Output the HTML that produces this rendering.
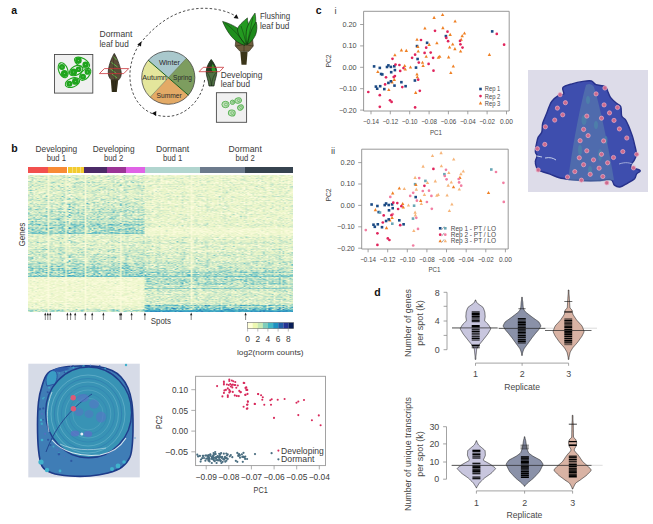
<!DOCTYPE html>
<html><head><meta charset="utf-8"><style>
html,body{margin:0;padding:0;background:#fff;width:653px;height:524px;overflow:hidden}
svg{display:block;position:absolute;left:0;top:0}
text{font-family:"Liberation Sans", sans-serif}
canvas{position:absolute;left:28px;top:175px;}
</style></head><body>
<svg width="653" height="524" viewBox="0 0 653 524">
<text x="11.2" y="13.9" font-size="10.5" text-anchor="start" fill="#111" font-weight="bold" >a</text>
<text x="11.2" y="152.4" font-size="10.5" text-anchor="start" fill="#111" font-weight="bold" >b</text>
<text x="315.8" y="13.6" font-size="10.5" text-anchor="start" fill="#111" font-weight="bold" >c</text>
<text x="374.3" y="295.5" font-size="10.5" text-anchor="start" fill="#111" font-weight="bold" >d</text>
<rect x="54.5" y="54.5" width="38.3" height="38.6" fill="#f0f0f0" stroke="#4a4a4a" stroke-width="0.9"/>
<ellipse cx="82.00" cy="62.60" rx="8.32" ry="4.30" transform="rotate(29.1 82.00 62.60)" fill="none" stroke="#1fa41d" stroke-width="1.1"/>
<circle cx="78.4" cy="60.6" r="3.3" fill="#1fa41d"/><circle cx="85.6" cy="64.6" r="3.2" fill="#1fa41d"/>
<circle cx="78.4" cy="60.6" r="0.5" fill="#8fd48a"/><circle cx="85.6" cy="64.6" r="0.5" fill="#8fd48a"/>
<ellipse cx="63.20" cy="70.20" rx="7.82" ry="4.50" transform="rotate(69.4 63.20 70.20)" fill="none" stroke="#1fa41d" stroke-width="1.1"/>
<circle cx="62.0" cy="67.0" r="3.0" fill="#1fa41d"/><circle cx="64.4" cy="73.4" r="3.5" fill="#1fa41d"/>
<circle cx="62.0" cy="67.0" r="0.5" fill="#8fd48a"/><circle cx="64.4" cy="73.4" r="0.5" fill="#8fd48a"/>
<ellipse cx="76.10" cy="70.60" rx="7.22" ry="4.50" transform="rotate(-27.5 76.10 70.60)" fill="none" stroke="#1fa41d" stroke-width="1.1"/>
<circle cx="73.6" cy="71.9" r="3.5" fill="#1fa41d"/><circle cx="78.6" cy="69.3" r="2.8" fill="#1fa41d"/>
<circle cx="73.6" cy="71.9" r="0.5" fill="#8fd48a"/><circle cx="78.6" cy="69.3" r="0.5" fill="#8fd48a"/>
<ellipse cx="85.20" cy="74.35" rx="7.19" ry="4.00" transform="rotate(-48.1 85.20 74.35)" fill="none" stroke="#1fa41d" stroke-width="1.1"/>
<circle cx="83.0" cy="76.8" r="3.0" fill="#1fa41d"/><circle cx="87.4" cy="71.9" r="2.8" fill="#1fa41d"/>
<circle cx="83.0" cy="76.8" r="0.5" fill="#8fd48a"/><circle cx="87.4" cy="71.9" r="0.5" fill="#8fd48a"/>
<ellipse cx="72.40" cy="82.55" rx="7.51" ry="4.40" transform="rotate(-21.0 72.40 82.55)" fill="none" stroke="#1fa41d" stroke-width="1.1"/>
<circle cx="69.4" cy="83.7" r="3.0" fill="#1fa41d"/><circle cx="75.4" cy="81.4" r="3.4" fill="#1fa41d"/>
<circle cx="69.4" cy="83.7" r="0.5" fill="#8fd48a"/><circle cx="75.4" cy="81.4" r="0.5" fill="#8fd48a"/>
<path d="M114.3,53.4 C116.5,57 119.5,64 121,71 C122,75 120.5,78 118.5,80 L111.5,80 C109,78 108,75 108.3,71 C109,64 112,57 114.3,53.4 Z" fill="#5a4d38" stroke="#1e1c14" stroke-width="0.7"/>
<path d="M113.5,56.5 L116.5,60 M111.5,62.5 L117.5,67 M110,68.5 L116.5,73.5 M112,74 L117,78" stroke="#5ec24a" stroke-width="0.9" fill="none"/>
<path d="M114.3,54 C113,62 113,72 114.8,80" stroke="#2b2a1c" stroke-width="0.4" fill="none"/>
<path d="M110.8,80 L118.2,80 L116.8,92 L111.8,92 Z" fill="#36301a"/><path d="M113,81 L113.5,92 M115.5,81 L115,92" stroke="#1a180c" stroke-width="0.4"/>
<path d="M99.4,73.6 L104.4,68.6 L128.7,68.6 L123.7,73.6 Z" fill="none" stroke="#c8343a" stroke-width="0.8"/>
<text x="99.5" y="36.8" font-size="9.3" text-anchor="start" fill="#3a3a3a" font-weight="normal"  textLength="32.8" lengthAdjust="spacingAndGlyphs">Dormant</text>
<text x="99.5" y="46.7" font-size="9.3" text-anchor="start" fill="#3a3a3a" font-weight="normal"  textLength="29.2" lengthAdjust="spacingAndGlyphs">leaf bud</text>
<path d="M168.3,77.7 L148.22,60.25 A26.6,26.6 0 0 1 186.44,58.25 Z" fill="#a9c8cc"/>
<path d="M168.3,77.7 L186.44,58.25 A26.6,26.6 0 0 1 188.38,95.15 Z" fill="#7d9d5f"/>
<path d="M168.3,77.7 L188.38,95.15 A26.6,26.6 0 0 1 150.16,97.15 Z" fill="#e3aa66"/>
<path d="M168.3,77.7 L150.16,97.15 A26.6,26.6 0 0 1 148.22,60.25 Z" fill="#e4e69c"/>
<path d="M148.22,60.25 L188.38,95.15" stroke="#1b5c1b" stroke-width="1.0"/>
<path d="M186.44,58.25 L150.16,97.15" stroke="#4a5a3a" stroke-width="0.5"/>
<circle cx="168.3" cy="77.7" r="26.6" fill="none" stroke="#333" stroke-width="0.7"/>
<text x="169.4" y="64.6" font-size="7.3" text-anchor="middle" fill="#2a2a2a" font-weight="normal"  textLength="21" lengthAdjust="spacingAndGlyphs">Winter</text>
<text x="154.5" y="80.0" font-size="7.3" text-anchor="middle" fill="#2a2a2a" font-weight="normal"  textLength="24.7" lengthAdjust="spacingAndGlyphs">Autumn</text>
<text x="182.5" y="80.0" font-size="7.3" text-anchor="middle" fill="#2a2a2a" font-weight="normal"  textLength="18.8" lengthAdjust="spacingAndGlyphs">Spring</text>
<text x="169.2" y="98.0" font-size="7.3" text-anchor="middle" fill="#2a2a2a" font-weight="normal"  textLength="25.2" lengthAdjust="spacingAndGlyphs">Summer</text>
<path d="M204.6,80 C202,100 185,117 166,116.4 C145,116 130,100 129.9,75.3 C129.9,64 134,52 139.7,44 C155,25 175,9 202,8.3 C215,8 228,11 236.2,16.5" fill="none" stroke="#222" stroke-width="0.8" stroke-dasharray="2.5,2.0"/>
<path d="M137.3,44.5 L141.5,41.6 L141.0,46.5 Z" fill="#111"/>
<path d="M238.6,18.8 L233.6,18.0 L236.5,14.2 Z" fill="#111"/>
<path d="M151.8,113.3 L156.3,111.0 L156.0,116.0 Z" fill="#111"/>
<path d="M236.0,38.6 L252.5,38.6 L253.3,46 L249,51.3 L240,51.3 L235.2,46 Z" fill="#6e5d3d" stroke="#2c2615" stroke-width="0.6"/>
<path d="M236,46 L244,44.5 L253,46 M244,44.5 L244,51.5" stroke="#2c2615" stroke-width="0.5" fill="none"/>
<path d="M240.3,51.5 L247.6,51.5 L246.5,64.8 L241.5,64.8 Z" fill="#3b3519"/>
<path d="M222.6,21.4 C228,23 234,25.5 238,28.5 C242,32 244.5,38 245,45.5 C240,44 235,41 231,36 C227,31 224,25 222.6,21.4 Z" fill="#1f8e1d" stroke="#0f2a0d" stroke-width="0.6"/>
<path d="M247.4,17.9 C247,21 249,25 250.3,29 C251,35 249,41 246.5,45 C243,42 238,36 237.5,30 C237.5,27 240,24 247.4,17.9 Z" fill="#239a20" stroke="#0f2a0d" stroke-width="0.6"/>
<path d="M255,13.1 C256,18 256,23 255,27 C253.5,34 250,40 246.8,44.5 C245.5,38 246,32 247,28 C249,22 252,17 255,13.1 Z" fill="#27a323" stroke="#0f2a0d" stroke-width="0.6"/>
<path d="M256.1,22 C257.5,26 257,31 255.5,35 C253.5,39.5 250.5,42.5 247.5,44.5 C248.5,39 250,34 251.5,30 C253,27 254.5,24 256.1,22 Z" fill="#1d8a1b" stroke="#0f2a0d" stroke-width="0.6"/>
<path d="M225,23 C232,28 239,35 244.5,44 M241,26 C243,32 245,38 246,44 M253,17 C251,26 249,35 247,44" stroke="#0f2a0d" stroke-width="0.45" fill="none"/>
<text x="259.9" y="19.0" font-size="9.3" text-anchor="start" fill="#3a3a3a" font-weight="normal"  textLength="30.2" lengthAdjust="spacingAndGlyphs">Flushing</text>
<text x="259.9" y="29.0" font-size="9.3" text-anchor="start" fill="#3a3a3a" font-weight="normal"  textLength="29.5" lengthAdjust="spacingAndGlyphs">leaf bud</text>
<path d="M211.2,59.5 C213.2,62 216.6,67 216.8,71.5 C217,76 214.6,80 214,86 L209,86 C208.4,80 206,76 206.2,71.5 C206.4,67 209.2,62 211.2,59.5 Z" fill="#4f7043" stroke="#131a12" stroke-width="0.7"/>
<path d="M211.2,59.5 C213.2,62 216.6,67 216.8,72.5 L206.2,72.5 C206.4,67 209.2,62 211.2,59.5 Z" fill="#253d22"/>
<path d="M212.3,64 C214.3,66 216,69.5 216,72.5 L211.8,72.5 C211.6,69 211.6,66 212.3,64 Z" fill="#2a9e28"/>
<path d="M206.8,72.5 C209,75 211,79 211.5,86 M216.2,72.5 C214,75 212,79 211.5,86 M208,66 C210,69 212,71 213,73" stroke="#1a2818" stroke-width="0.55" fill="none"/>
<path d="M199,71.7 L203.2,67.3 L223.7,67.3 L219.5,71.7 Z" fill="none" stroke="#c8343a" stroke-width="0.8"/>
<text x="220.7" y="78.3" font-size="9.3" text-anchor="start" fill="#3a3a3a" font-weight="normal"  textLength="41.7" lengthAdjust="spacingAndGlyphs">Developing</text>
<text x="220.7" y="87.3" font-size="9.3" text-anchor="start" fill="#3a3a3a" font-weight="normal"  textLength="29.3" lengthAdjust="spacingAndGlyphs">leaf bud</text>
<rect x="216.4" y="92.7" width="30.2" height="29.6" fill="#f0f0f0" stroke="#4a4a4a" stroke-width="0.9"/>
<g transform="translate(225.5,104.5) rotate(0)"><ellipse rx="3.6" ry="3.2" fill="#c2e0bb" stroke="#5fb55a" stroke-width="1.0"/><ellipse rx="1.62" ry="1.44" cx="0.54" fill="none" stroke="#5fb55a" stroke-width="0.7"/></g>
<g transform="translate(232.5,102.3) rotate(0)"><ellipse rx="2.2" ry="2.2" fill="#c2e0bb" stroke="#5fb55a" stroke-width="1.0"/><ellipse rx="0.99" ry="0.99" cx="0.33" fill="none" stroke="#5fb55a" stroke-width="0.7"/></g>
<g transform="translate(238.2,100.5) rotate(-20)"><ellipse rx="3.3" ry="2.6" fill="#c2e0bb" stroke="#5fb55a" stroke-width="1.0"/><ellipse rx="1.48" ry="1.17" cx="0.49" fill="none" stroke="#5fb55a" stroke-width="0.7"/></g>
<g transform="translate(240.5,107.5) rotate(-35)"><ellipse rx="3.0" ry="2.4" fill="#c2e0bb" stroke="#5fb55a" stroke-width="1.0"/><ellipse rx="1.35" ry="1.08" cx="0.45" fill="none" stroke="#5fb55a" stroke-width="0.7"/></g>
<g transform="translate(231.8,113.0) rotate(10)"><ellipse rx="3.4" ry="3.0" fill="#c2e0bb" stroke="#5fb55a" stroke-width="1.0"/><ellipse rx="1.53" ry="1.35" cx="0.51" fill="none" stroke="#5fb55a" stroke-width="0.7"/></g>
<g shape-rendering="crispEdges"><rect x="28.0" y="175.0" width="14.1" height="8.0" fill="#daeecb"/><rect x="42.1" y="175.0" width="14.1" height="8.0" fill="#dcefca"/><rect x="56.3" y="175.0" width="14.1" height="8.0" fill="#dcefcb"/><rect x="70.4" y="175.0" width="14.1" height="8.0" fill="#d8edc9"/><rect x="84.5" y="175.0" width="14.1" height="8.0" fill="#ddefcb"/><rect x="98.7" y="175.0" width="14.1" height="8.0" fill="#dbeeca"/><rect x="112.8" y="175.0" width="14.1" height="8.0" fill="#d9eecb"/><rect x="126.9" y="175.0" width="14.1" height="8.0" fill="#d8edca"/><rect x="141.1" y="175.0" width="14.1" height="8.0" fill="#e4f2cc"/><rect x="155.2" y="175.0" width="14.1" height="8.0" fill="#e8f4ce"/><rect x="169.3" y="175.0" width="14.1" height="8.0" fill="#e6f3cc"/><rect x="183.5" y="175.0" width="14.1" height="8.0" fill="#eaf4ce"/><rect x="197.6" y="175.0" width="14.1" height="8.0" fill="#e9f4ce"/><rect x="211.7" y="175.0" width="14.1" height="8.0" fill="#ebf5ce"/><rect x="225.9" y="175.0" width="14.1" height="8.0" fill="#ebf5cf"/><rect x="240.0" y="175.0" width="14.1" height="8.0" fill="#e8f4cd"/><rect x="254.1" y="175.0" width="14.1" height="8.0" fill="#e7f3cd"/><rect x="268.3" y="175.0" width="14.1" height="8.0" fill="#e9f4cd"/><rect x="282.4" y="175.0" width="10.6" height="8.0" fill="#ecf6cf"/><rect x="28.0" y="183.0" width="14.1" height="8.0" fill="#d4ecc9"/><rect x="42.1" y="183.0" width="14.1" height="8.0" fill="#ddefca"/><rect x="56.3" y="183.0" width="14.1" height="8.0" fill="#d9eecb"/><rect x="70.4" y="183.0" width="14.1" height="8.0" fill="#d2ebc8"/><rect x="84.5" y="183.0" width="14.1" height="8.0" fill="#dcefca"/><rect x="98.7" y="183.0" width="14.1" height="8.0" fill="#d5ecc9"/><rect x="112.8" y="183.0" width="14.1" height="8.0" fill="#d4ebc9"/><rect x="126.9" y="183.0" width="14.1" height="8.0" fill="#d6ecc9"/><rect x="141.1" y="183.0" width="14.1" height="8.0" fill="#e3f1cc"/><rect x="155.2" y="183.0" width="14.1" height="8.0" fill="#e9f4cd"/><rect x="169.3" y="183.0" width="14.1" height="8.0" fill="#e6f3cc"/><rect x="183.5" y="183.0" width="14.1" height="8.0" fill="#eaf5ce"/><rect x="197.6" y="183.0" width="14.1" height="8.0" fill="#e8f4cc"/><rect x="211.7" y="183.0" width="14.1" height="8.0" fill="#e8f4cd"/><rect x="225.9" y="183.0" width="14.1" height="8.0" fill="#e5f2cc"/><rect x="240.0" y="183.0" width="14.1" height="8.0" fill="#e8f4cd"/><rect x="254.1" y="183.0" width="14.1" height="8.0" fill="#e6f3cd"/><rect x="268.3" y="183.0" width="14.1" height="8.0" fill="#e5f2cc"/><rect x="282.4" y="183.0" width="10.6" height="8.0" fill="#e5f3cd"/><rect x="28.0" y="191.0" width="14.1" height="8.0" fill="#dbeecb"/><rect x="42.1" y="191.0" width="14.1" height="8.0" fill="#dcefcc"/><rect x="56.3" y="191.0" width="14.1" height="8.0" fill="#d7edcb"/><rect x="70.4" y="191.0" width="14.1" height="8.0" fill="#dbeeca"/><rect x="84.5" y="191.0" width="14.1" height="8.0" fill="#daeeca"/><rect x="98.7" y="191.0" width="14.1" height="8.0" fill="#ddefca"/><rect x="112.8" y="191.0" width="14.1" height="8.0" fill="#d5ecca"/><rect x="126.9" y="191.0" width="14.1" height="8.0" fill="#ddefca"/><rect x="141.1" y="191.0" width="14.1" height="8.0" fill="#e1f1cc"/><rect x="155.2" y="191.0" width="14.1" height="8.0" fill="#e6f3cc"/><rect x="169.3" y="191.0" width="14.1" height="8.0" fill="#e6f3cd"/><rect x="183.5" y="191.0" width="14.1" height="8.0" fill="#e9f4cd"/><rect x="197.6" y="191.0" width="14.1" height="8.0" fill="#e7f3cc"/><rect x="211.7" y="191.0" width="14.1" height="8.0" fill="#e6f3cc"/><rect x="225.9" y="191.0" width="14.1" height="8.0" fill="#e7f3cc"/><rect x="240.0" y="191.0" width="14.1" height="8.0" fill="#ebf5cf"/><rect x="254.1" y="191.0" width="14.1" height="8.0" fill="#e8f4cd"/><rect x="268.3" y="191.0" width="14.1" height="8.0" fill="#e5f2cc"/><rect x="282.4" y="191.0" width="10.6" height="8.0" fill="#e8f4cd"/><rect x="28.0" y="199.0" width="14.1" height="8.0" fill="#d3ebc8"/><rect x="42.1" y="199.0" width="14.1" height="8.0" fill="#d4ebca"/><rect x="56.3" y="199.0" width="14.1" height="8.0" fill="#d0eaca"/><rect x="70.4" y="199.0" width="14.1" height="8.0" fill="#cde8c8"/><rect x="84.5" y="199.0" width="14.1" height="8.0" fill="#d1eaca"/><rect x="98.7" y="199.0" width="14.1" height="8.0" fill="#d3ebc9"/><rect x="112.8" y="199.0" width="14.1" height="8.0" fill="#cde8ca"/><rect x="126.9" y="199.0" width="14.1" height="8.0" fill="#d1eac9"/><rect x="141.1" y="199.0" width="14.1" height="8.0" fill="#e2f1cc"/><rect x="155.2" y="199.0" width="14.1" height="8.0" fill="#e7f3cd"/><rect x="169.3" y="199.0" width="14.1" height="8.0" fill="#e5f3cc"/><rect x="183.5" y="199.0" width="14.1" height="8.0" fill="#eaf5ce"/><rect x="197.6" y="199.0" width="14.1" height="8.0" fill="#e4f2cc"/><rect x="211.7" y="199.0" width="14.1" height="8.0" fill="#e7f3cd"/><rect x="225.9" y="199.0" width="14.1" height="8.0" fill="#e7f3cc"/><rect x="240.0" y="199.0" width="14.1" height="8.0" fill="#e6f3cc"/><rect x="254.1" y="199.0" width="14.1" height="8.0" fill="#e7f3cc"/><rect x="268.3" y="199.0" width="14.1" height="8.0" fill="#e6f3cb"/><rect x="282.4" y="199.0" width="10.6" height="8.0" fill="#e4f2cb"/><rect x="28.0" y="207.0" width="14.1" height="8.0" fill="#c8e6c8"/><rect x="42.1" y="207.0" width="14.1" height="8.0" fill="#cee9ca"/><rect x="56.3" y="207.0" width="14.1" height="8.0" fill="#c7e6ca"/><rect x="70.4" y="207.0" width="14.1" height="8.0" fill="#c1e3c7"/><rect x="84.5" y="207.0" width="14.1" height="8.0" fill="#cfe9c9"/><rect x="98.7" y="207.0" width="14.1" height="8.0" fill="#c1e4c7"/><rect x="112.8" y="207.0" width="14.1" height="8.0" fill="#c1e3c7"/><rect x="126.9" y="207.0" width="14.1" height="8.0" fill="#cae7c9"/><rect x="141.1" y="207.0" width="14.1" height="8.0" fill="#dbeecb"/><rect x="155.2" y="207.0" width="14.1" height="8.0" fill="#e3f2cb"/><rect x="169.3" y="207.0" width="14.1" height="8.0" fill="#e8f4cd"/><rect x="183.5" y="207.0" width="14.1" height="8.0" fill="#ecf5ce"/><rect x="197.6" y="207.0" width="14.1" height="8.0" fill="#e7f3cd"/><rect x="211.7" y="207.0" width="14.1" height="8.0" fill="#e6f3cd"/><rect x="225.9" y="207.0" width="14.1" height="8.0" fill="#e9f4ce"/><rect x="240.0" y="207.0" width="14.1" height="8.0" fill="#e5f3cd"/><rect x="254.1" y="207.0" width="14.1" height="8.0" fill="#e6f3cc"/><rect x="268.3" y="207.0" width="14.1" height="8.0" fill="#e8f4cd"/><rect x="282.4" y="207.0" width="10.6" height="8.0" fill="#e8f4cd"/><rect x="28.0" y="215.0" width="14.1" height="8.0" fill="#bee2c7"/><rect x="42.1" y="215.0" width="14.1" height="8.0" fill="#c3e4c8"/><rect x="56.3" y="215.0" width="14.1" height="8.0" fill="#bde2c8"/><rect x="70.4" y="215.0" width="14.1" height="8.0" fill="#bfe3c7"/><rect x="84.5" y="215.0" width="14.1" height="8.0" fill="#c5e5c8"/><rect x="98.7" y="215.0" width="14.1" height="8.0" fill="#c3e4c8"/><rect x="112.8" y="215.0" width="14.1" height="8.0" fill="#c2e4c8"/><rect x="126.9" y="215.0" width="14.1" height="8.0" fill="#c0e3c8"/><rect x="141.1" y="215.0" width="14.1" height="8.0" fill="#dcefcb"/><rect x="155.2" y="215.0" width="14.1" height="8.0" fill="#e6f3cc"/><rect x="169.3" y="215.0" width="14.1" height="8.0" fill="#e8f4cc"/><rect x="183.5" y="215.0" width="14.1" height="8.0" fill="#e5f3cd"/><rect x="197.6" y="215.0" width="14.1" height="8.0" fill="#e8f4cc"/><rect x="211.7" y="215.0" width="14.1" height="8.0" fill="#e7f3cc"/><rect x="225.9" y="215.0" width="14.1" height="8.0" fill="#e7f3cc"/><rect x="240.0" y="215.0" width="14.1" height="8.0" fill="#e4f2cb"/><rect x="254.1" y="215.0" width="14.1" height="8.0" fill="#eaf5ce"/><rect x="268.3" y="215.0" width="14.1" height="8.0" fill="#e7f3cc"/><rect x="282.4" y="215.0" width="10.6" height="8.0" fill="#e8f4cd"/><rect x="28.0" y="223.0" width="14.1" height="8.0" fill="#a9dac6"/><rect x="42.1" y="223.0" width="14.1" height="8.0" fill="#b3dec7"/><rect x="56.3" y="223.0" width="14.1" height="8.0" fill="#b1ddc7"/><rect x="70.4" y="223.0" width="14.1" height="8.0" fill="#9fd6c5"/><rect x="84.5" y="223.0" width="14.1" height="8.0" fill="#b6dfc7"/><rect x="98.7" y="223.0" width="14.1" height="8.0" fill="#a2d7c6"/><rect x="112.8" y="223.0" width="14.1" height="8.0" fill="#a7d9c6"/><rect x="126.9" y="223.0" width="14.1" height="8.0" fill="#a8d9c6"/><rect x="141.1" y="223.0" width="14.1" height="8.0" fill="#d6eccb"/><rect x="155.2" y="223.0" width="14.1" height="8.0" fill="#ebf5cf"/><rect x="169.3" y="223.0" width="14.1" height="8.0" fill="#e9f4ce"/><rect x="183.5" y="223.0" width="14.1" height="8.0" fill="#ebf5cf"/><rect x="197.6" y="223.0" width="14.1" height="8.0" fill="#e8f4cf"/><rect x="211.7" y="223.0" width="14.1" height="8.0" fill="#eaf4cd"/><rect x="225.9" y="223.0" width="14.1" height="8.0" fill="#eaf4ce"/><rect x="240.0" y="223.0" width="14.1" height="8.0" fill="#eaf4ce"/><rect x="254.1" y="223.0" width="14.1" height="8.0" fill="#e7f3cd"/><rect x="268.3" y="223.0" width="14.1" height="8.0" fill="#e8f4cc"/><rect x="282.4" y="223.0" width="10.6" height="8.0" fill="#e8f4ce"/><rect x="28.0" y="231.0" width="14.1" height="8.0" fill="#c1e4c9"/><rect x="42.1" y="231.0" width="14.1" height="8.0" fill="#c8e7c9"/><rect x="56.3" y="231.0" width="14.1" height="8.0" fill="#c3e4c9"/><rect x="70.4" y="231.0" width="14.1" height="8.0" fill="#c2e4c9"/><rect x="84.5" y="231.0" width="14.1" height="8.0" fill="#cee9cb"/><rect x="98.7" y="231.0" width="14.1" height="8.0" fill="#c4e5c8"/><rect x="112.8" y="231.0" width="14.1" height="8.0" fill="#c8e7c9"/><rect x="126.9" y="231.0" width="14.1" height="8.0" fill="#c6e6c9"/><rect x="141.1" y="231.0" width="14.1" height="8.0" fill="#dff0ce"/><rect x="155.2" y="231.0" width="14.1" height="8.0" fill="#eaf5ce"/><rect x="169.3" y="231.0" width="14.1" height="8.0" fill="#edf6d0"/><rect x="183.5" y="231.0" width="14.1" height="8.0" fill="#eaf5cf"/><rect x="197.6" y="231.0" width="14.1" height="8.0" fill="#edf6d0"/><rect x="211.7" y="231.0" width="14.1" height="8.0" fill="#edf6d0"/><rect x="225.9" y="231.0" width="14.1" height="8.0" fill="#eef6d0"/><rect x="240.0" y="231.0" width="14.1" height="8.0" fill="#eaf5cf"/><rect x="254.1" y="231.0" width="14.1" height="8.0" fill="#ecf5d0"/><rect x="268.3" y="231.0" width="14.1" height="8.0" fill="#e9f4ce"/><rect x="282.4" y="231.0" width="10.6" height="8.0" fill="#edf6cf"/><rect x="28.0" y="239.0" width="14.1" height="8.0" fill="#d8edc9"/><rect x="42.1" y="239.0" width="14.1" height="8.0" fill="#ddefcc"/><rect x="56.3" y="239.0" width="14.1" height="8.0" fill="#e0f0cc"/><rect x="70.4" y="239.0" width="14.1" height="8.0" fill="#d9edca"/><rect x="84.5" y="239.0" width="14.1" height="8.0" fill="#ddefcb"/><rect x="98.7" y="239.0" width="14.1" height="8.0" fill="#e1f1cc"/><rect x="112.8" y="239.0" width="14.1" height="8.0" fill="#dcefcb"/><rect x="126.9" y="239.0" width="14.1" height="8.0" fill="#dcefcb"/><rect x="141.1" y="239.0" width="14.1" height="8.0" fill="#d8edca"/><rect x="155.2" y="239.0" width="14.1" height="8.0" fill="#e1f1ca"/><rect x="169.3" y="239.0" width="14.1" height="8.0" fill="#daeeca"/><rect x="183.5" y="239.0" width="14.1" height="8.0" fill="#e1f1cc"/><rect x="197.6" y="239.0" width="14.1" height="8.0" fill="#ddefcb"/><rect x="211.7" y="239.0" width="14.1" height="8.0" fill="#dbeeca"/><rect x="225.9" y="239.0" width="14.1" height="8.0" fill="#dff0ca"/><rect x="240.0" y="239.0" width="14.1" height="8.0" fill="#e1f1ca"/><rect x="254.1" y="239.0" width="14.1" height="8.0" fill="#dcefca"/><rect x="268.3" y="239.0" width="14.1" height="8.0" fill="#dcefca"/><rect x="282.4" y="239.0" width="10.6" height="8.0" fill="#def0ca"/><rect x="28.0" y="247.0" width="14.1" height="8.0" fill="#cee9c8"/><rect x="42.1" y="247.0" width="14.1" height="8.0" fill="#d0eaca"/><rect x="56.3" y="247.0" width="14.1" height="8.0" fill="#cfe9c9"/><rect x="70.4" y="247.0" width="14.1" height="8.0" fill="#cee9c8"/><rect x="84.5" y="247.0" width="14.1" height="8.0" fill="#d9edcb"/><rect x="98.7" y="247.0" width="14.1" height="8.0" fill="#d6ecca"/><rect x="112.8" y="247.0" width="14.1" height="8.0" fill="#d4ecca"/><rect x="126.9" y="247.0" width="14.1" height="8.0" fill="#d1eac8"/><rect x="141.1" y="247.0" width="14.1" height="8.0" fill="#d8edca"/><rect x="155.2" y="247.0" width="14.1" height="8.0" fill="#daeec9"/><rect x="169.3" y="247.0" width="14.1" height="8.0" fill="#dbeecb"/><rect x="183.5" y="247.0" width="14.1" height="8.0" fill="#dcefcc"/><rect x="197.6" y="247.0" width="14.1" height="8.0" fill="#def0cb"/><rect x="211.7" y="247.0" width="14.1" height="8.0" fill="#ddefcc"/><rect x="225.9" y="247.0" width="14.1" height="8.0" fill="#ddefca"/><rect x="240.0" y="247.0" width="14.1" height="8.0" fill="#dcefca"/><rect x="254.1" y="247.0" width="14.1" height="8.0" fill="#dff0ca"/><rect x="268.3" y="247.0" width="14.1" height="8.0" fill="#dbeeca"/><rect x="282.4" y="247.0" width="10.6" height="8.0" fill="#ddefcb"/><rect x="28.0" y="255.0" width="14.1" height="8.0" fill="#cbe8c9"/><rect x="42.1" y="255.0" width="14.1" height="8.0" fill="#d4ebc9"/><rect x="56.3" y="255.0" width="14.1" height="8.0" fill="#cbe8ca"/><rect x="70.4" y="255.0" width="14.1" height="8.0" fill="#cbe7c8"/><rect x="84.5" y="255.0" width="14.1" height="8.0" fill="#cee9c9"/><rect x="98.7" y="255.0" width="14.1" height="8.0" fill="#cae7c8"/><rect x="112.8" y="255.0" width="14.1" height="8.0" fill="#cfe9c9"/><rect x="126.9" y="255.0" width="14.1" height="8.0" fill="#cde9c8"/><rect x="141.1" y="255.0" width="14.1" height="8.0" fill="#cfeac8"/><rect x="155.2" y="255.0" width="14.1" height="8.0" fill="#d1eac9"/><rect x="169.3" y="255.0" width="14.1" height="8.0" fill="#d3ebc9"/><rect x="183.5" y="255.0" width="14.1" height="8.0" fill="#ddefcc"/><rect x="197.6" y="255.0" width="14.1" height="8.0" fill="#d3ebc9"/><rect x="211.7" y="255.0" width="14.1" height="8.0" fill="#d7ecc9"/><rect x="225.9" y="255.0" width="14.1" height="8.0" fill="#daeecb"/><rect x="240.0" y="255.0" width="14.1" height="8.0" fill="#d9eec9"/><rect x="254.1" y="255.0" width="14.1" height="8.0" fill="#d3ebc9"/><rect x="268.3" y="255.0" width="14.1" height="8.0" fill="#d0eac8"/><rect x="282.4" y="255.0" width="10.6" height="8.0" fill="#d5ecca"/><rect x="28.0" y="263.0" width="14.1" height="8.0" fill="#abdbc6"/><rect x="42.1" y="263.0" width="14.1" height="8.0" fill="#b4dec7"/><rect x="56.3" y="263.0" width="14.1" height="8.0" fill="#b1ddc7"/><rect x="70.4" y="263.0" width="14.1" height="8.0" fill="#a8d9c6"/><rect x="84.5" y="263.0" width="14.1" height="8.0" fill="#b2dec7"/><rect x="98.7" y="263.0" width="14.1" height="8.0" fill="#bae1c7"/><rect x="112.8" y="263.0" width="14.1" height="8.0" fill="#aadac7"/><rect x="126.9" y="263.0" width="14.1" height="8.0" fill="#b0dcc6"/><rect x="141.1" y="263.0" width="14.1" height="8.0" fill="#c4e5c9"/><rect x="155.2" y="263.0" width="14.1" height="8.0" fill="#c4e5c8"/><rect x="169.3" y="263.0" width="14.1" height="8.0" fill="#c9e7c8"/><rect x="183.5" y="263.0" width="14.1" height="8.0" fill="#d2eac9"/><rect x="197.6" y="263.0" width="14.1" height="8.0" fill="#cde9c8"/><rect x="211.7" y="263.0" width="14.1" height="8.0" fill="#c8e7c8"/><rect x="225.9" y="263.0" width="14.1" height="8.0" fill="#c9e7c8"/><rect x="240.0" y="263.0" width="14.1" height="8.0" fill="#cae7c8"/><rect x="254.1" y="263.0" width="14.1" height="8.0" fill="#cbe8c8"/><rect x="268.3" y="263.0" width="14.1" height="8.0" fill="#c7e6c8"/><rect x="282.4" y="263.0" width="10.6" height="8.0" fill="#cbe8c8"/><rect x="28.0" y="271.0" width="14.1" height="8.0" fill="#b1ddc8"/><rect x="42.1" y="271.0" width="14.1" height="8.0" fill="#b9e0c9"/><rect x="56.3" y="271.0" width="14.1" height="8.0" fill="#b5dec9"/><rect x="70.4" y="271.0" width="14.1" height="8.0" fill="#abdac9"/><rect x="84.5" y="271.0" width="14.1" height="8.0" fill="#b8e0c9"/><rect x="98.7" y="271.0" width="14.1" height="8.0" fill="#b4dec9"/><rect x="112.8" y="271.0" width="14.1" height="8.0" fill="#b6dfc9"/><rect x="126.9" y="271.0" width="14.1" height="8.0" fill="#addbc8"/><rect x="141.1" y="271.0" width="14.1" height="8.0" fill="#a7d9c7"/><rect x="155.2" y="271.0" width="14.1" height="8.0" fill="#aadac6"/><rect x="169.3" y="271.0" width="14.1" height="8.0" fill="#b0ddc7"/><rect x="183.5" y="271.0" width="14.1" height="8.0" fill="#acdbc7"/><rect x="197.6" y="271.0" width="14.1" height="8.0" fill="#abdbc6"/><rect x="211.7" y="271.0" width="14.1" height="8.0" fill="#addbc7"/><rect x="225.9" y="271.0" width="14.1" height="8.0" fill="#aedcc7"/><rect x="240.0" y="271.0" width="14.1" height="8.0" fill="#a9dac6"/><rect x="254.1" y="271.0" width="14.1" height="8.0" fill="#a8dac7"/><rect x="268.3" y="271.0" width="14.1" height="8.0" fill="#acdbc6"/><rect x="282.4" y="271.0" width="10.6" height="8.0" fill="#addbc6"/><rect x="28.0" y="279.0" width="14.1" height="8.0" fill="#f0f7d1"/><rect x="42.1" y="279.0" width="14.1" height="8.0" fill="#f2f8d2"/><rect x="56.3" y="279.0" width="14.1" height="8.0" fill="#f0f7d0"/><rect x="70.4" y="279.0" width="14.1" height="8.0" fill="#f0f7d0"/><rect x="84.5" y="279.0" width="14.1" height="8.0" fill="#f1f8d2"/><rect x="98.7" y="279.0" width="14.1" height="8.0" fill="#f0f7d1"/><rect x="112.8" y="279.0" width="14.1" height="8.0" fill="#f0f7d2"/><rect x="126.9" y="279.0" width="14.1" height="8.0" fill="#f0f7d1"/><rect x="141.1" y="279.0" width="14.1" height="8.0" fill="#c3e5c9"/><rect x="155.2" y="279.0" width="14.1" height="8.0" fill="#bae1c7"/><rect x="169.3" y="279.0" width="14.1" height="8.0" fill="#b0ddc6"/><rect x="183.5" y="279.0" width="14.1" height="8.0" fill="#bee2c8"/><rect x="197.6" y="279.0" width="14.1" height="8.0" fill="#b6dfc6"/><rect x="211.7" y="279.0" width="14.1" height="8.0" fill="#b4dec7"/><rect x="225.9" y="279.0" width="14.1" height="8.0" fill="#bce2c7"/><rect x="240.0" y="279.0" width="14.1" height="8.0" fill="#b1ddc7"/><rect x="254.1" y="279.0" width="14.1" height="8.0" fill="#bae1c7"/><rect x="268.3" y="279.0" width="14.1" height="8.0" fill="#b5dfc7"/><rect x="282.4" y="279.0" width="10.6" height="8.0" fill="#bde2c7"/><rect x="28.0" y="287.0" width="14.1" height="8.0" fill="#f0f7d1"/><rect x="42.1" y="287.0" width="14.1" height="8.0" fill="#f1f7d2"/><rect x="56.3" y="287.0" width="14.1" height="8.0" fill="#f2f8d2"/><rect x="70.4" y="287.0" width="14.1" height="8.0" fill="#f0f7d1"/><rect x="84.5" y="287.0" width="14.1" height="8.0" fill="#f2f8d2"/><rect x="98.7" y="287.0" width="14.1" height="8.0" fill="#f1f7d1"/><rect x="112.8" y="287.0" width="14.1" height="8.0" fill="#f2f8d2"/><rect x="126.9" y="287.0" width="14.1" height="8.0" fill="#f0f7d1"/><rect x="141.1" y="287.0" width="14.1" height="8.0" fill="#d1eaca"/><rect x="155.2" y="287.0" width="14.1" height="8.0" fill="#c8e7c9"/><rect x="169.3" y="287.0" width="14.1" height="8.0" fill="#cae7c9"/><rect x="183.5" y="287.0" width="14.1" height="8.0" fill="#cce8ca"/><rect x="197.6" y="287.0" width="14.1" height="8.0" fill="#d0eac9"/><rect x="211.7" y="287.0" width="14.1" height="8.0" fill="#c9e7c8"/><rect x="225.9" y="287.0" width="14.1" height="8.0" fill="#cbe8c8"/><rect x="240.0" y="287.0" width="14.1" height="8.0" fill="#c8e7c8"/><rect x="254.1" y="287.0" width="14.1" height="8.0" fill="#cee9c9"/><rect x="268.3" y="287.0" width="14.1" height="8.0" fill="#c6e6c8"/><rect x="282.4" y="287.0" width="10.6" height="8.0" fill="#c5e5c8"/><rect x="28.0" y="295.0" width="14.1" height="8.0" fill="#f1f7d2"/><rect x="42.1" y="295.0" width="14.1" height="8.0" fill="#f1f7d2"/><rect x="56.3" y="295.0" width="14.1" height="8.0" fill="#f0f7d0"/><rect x="70.4" y="295.0" width="14.1" height="8.0" fill="#eff7d0"/><rect x="84.5" y="295.0" width="14.1" height="8.0" fill="#f0f7d1"/><rect x="98.7" y="295.0" width="14.1" height="8.0" fill="#f1f8d2"/><rect x="112.8" y="295.0" width="14.1" height="8.0" fill="#f2f8d4"/><rect x="126.9" y="295.0" width="14.1" height="8.0" fill="#f1f8d2"/><rect x="141.1" y="295.0" width="14.1" height="8.0" fill="#daeecb"/><rect x="155.2" y="295.0" width="14.1" height="8.0" fill="#dcefca"/><rect x="169.3" y="295.0" width="14.1" height="8.0" fill="#d3ebc9"/><rect x="183.5" y="295.0" width="14.1" height="8.0" fill="#d9edca"/><rect x="197.6" y="295.0" width="14.1" height="8.0" fill="#d7edc9"/><rect x="211.7" y="295.0" width="14.1" height="8.0" fill="#d5ecc8"/><rect x="225.9" y="295.0" width="14.1" height="8.0" fill="#d4ebc8"/><rect x="240.0" y="295.0" width="14.1" height="8.0" fill="#d8edca"/><rect x="254.1" y="295.0" width="14.1" height="8.0" fill="#d7edc9"/><rect x="268.3" y="295.0" width="14.1" height="8.0" fill="#cfe9c9"/><rect x="282.4" y="295.0" width="10.6" height="8.0" fill="#d4ebc9"/><rect x="28.0" y="303.0" width="14.1" height="8.0" fill="#def0cc"/><rect x="42.1" y="303.0" width="14.1" height="8.0" fill="#e1f1ce"/><rect x="56.3" y="303.0" width="14.1" height="8.0" fill="#e2f1ce"/><rect x="70.4" y="303.0" width="14.1" height="8.0" fill="#e4f2cd"/><rect x="84.5" y="303.0" width="14.1" height="8.0" fill="#e5f2ce"/><rect x="98.7" y="303.0" width="14.1" height="8.0" fill="#e2f1cd"/><rect x="112.8" y="303.0" width="14.1" height="8.0" fill="#e2f1ce"/><rect x="126.9" y="303.0" width="14.1" height="8.0" fill="#e1f1cd"/><rect x="141.1" y="303.0" width="14.1" height="8.0" fill="#a4d6c7"/><rect x="155.2" y="303.0" width="14.1" height="8.0" fill="#8fcdc6"/><rect x="169.3" y="303.0" width="14.1" height="8.0" fill="#8dcbc6"/><rect x="183.5" y="303.0" width="14.1" height="8.0" fill="#99d2c6"/><rect x="197.6" y="303.0" width="14.1" height="8.0" fill="#8fccc5"/><rect x="211.7" y="303.0" width="14.1" height="8.0" fill="#8fcdc6"/><rect x="225.9" y="303.0" width="14.1" height="8.0" fill="#97cfc5"/><rect x="240.0" y="303.0" width="14.1" height="8.0" fill="#93cdc6"/><rect x="254.1" y="303.0" width="14.1" height="8.0" fill="#93cfc6"/><rect x="268.3" y="303.0" width="14.1" height="8.0" fill="#94cec6"/><rect x="282.4" y="303.0" width="10.6" height="8.0" fill="#94cec5"/><rect x="28.0" y="311.0" width="14.1" height="1.0" fill="#c7e6c7"/><rect x="42.1" y="311.0" width="14.1" height="1.0" fill="#b8e0c7"/><rect x="56.3" y="311.0" width="14.1" height="1.0" fill="#c3e5c7"/><rect x="70.4" y="311.0" width="14.1" height="1.0" fill="#c0e3c7"/><rect x="84.5" y="311.0" width="14.1" height="1.0" fill="#cce8c9"/><rect x="98.7" y="311.0" width="14.1" height="1.0" fill="#cbe8c8"/><rect x="112.8" y="311.0" width="14.1" height="1.0" fill="#b6dfc7"/><rect x="126.9" y="311.0" width="14.1" height="1.0" fill="#c7e6c7"/><rect x="141.1" y="311.0" width="14.1" height="1.0" fill="#57acc3"/><rect x="155.2" y="311.0" width="14.1" height="1.0" fill="#3595c0"/><rect x="169.3" y="311.0" width="14.1" height="1.0" fill="#3c9cc1"/><rect x="183.5" y="311.0" width="14.1" height="1.0" fill="#3ca0c3"/><rect x="197.6" y="311.0" width="14.1" height="1.0" fill="#3fa1c2"/><rect x="211.7" y="311.0" width="14.1" height="1.0" fill="#40a1c2"/><rect x="225.9" y="311.0" width="14.1" height="1.0" fill="#40a4c3"/><rect x="240.0" y="311.0" width="14.1" height="1.0" fill="#44a8c4"/><rect x="254.1" y="311.0" width="14.1" height="1.0" fill="#3997bf"/><rect x="268.3" y="311.0" width="14.1" height="1.0" fill="#3396c1"/><rect x="282.4" y="311.0" width="10.6" height="1.0" fill="#389cc2"/></g>
<rect x="28" y="167" width="20" height="6" fill="#f2504e"/>
<rect x="48" y="167" width="19" height="6" fill="#f88b34"/>
<rect x="68" y="167" width="16" height="6" fill="#f3cb2e"/>
<rect x="84" y="167" width="23" height="6" fill="#4b2a67"/>
<rect x="107" y="167" width="19" height="6" fill="#9b3596"/>
<rect x="126" y="167" width="19" height="6" fill="#e063e6"/>
<rect x="145" y="167" width="55" height="6" fill="#b1d5cf"/>
<rect x="200" y="167" width="45" height="6" fill="#6c7a8c"/>
<rect x="245" y="167" width="48" height="6" fill="#36434f"/>
<rect x="72.3" y="167" width="0.6" height="6" fill="#fff" opacity="0.6"/>
<rect x="76.3" y="167" width="0.6" height="6" fill="#fff" opacity="0.6"/>
<rect x="80.3" y="167" width="0.6" height="6" fill="#fff" opacity="0.6"/>
<text x="56.4" y="152.0" font-size="9.5" text-anchor="middle" fill="#3a3a3a" font-weight="normal"  textLength="41.7" lengthAdjust="spacingAndGlyphs">Developing</text>
<text x="56.4" y="161.1" font-size="9.5" text-anchor="middle" fill="#3a3a3a" font-weight="normal"  textLength="19.3" lengthAdjust="spacingAndGlyphs">bud 1</text>
<text x="113.7" y="152.0" font-size="9.5" text-anchor="middle" fill="#3a3a3a" font-weight="normal"  textLength="41.7" lengthAdjust="spacingAndGlyphs">Developing</text>
<text x="113.7" y="161.1" font-size="9.5" text-anchor="middle" fill="#3a3a3a" font-weight="normal"  textLength="19.3" lengthAdjust="spacingAndGlyphs">bud 2</text>
<text x="172.6" y="152.0" font-size="9.5" text-anchor="middle" fill="#3a3a3a" font-weight="normal"  textLength="33.2" lengthAdjust="spacingAndGlyphs">Dormant</text>
<text x="172.6" y="161.1" font-size="9.5" text-anchor="middle" fill="#3a3a3a" font-weight="normal"  textLength="19.3" lengthAdjust="spacingAndGlyphs">bud 1</text>
<text x="245.2" y="152.0" font-size="9.5" text-anchor="middle" fill="#3a3a3a" font-weight="normal"  textLength="33.2" lengthAdjust="spacingAndGlyphs">Dormant</text>
<text x="245.2" y="161.1" font-size="9.5" text-anchor="middle" fill="#3a3a3a" font-weight="normal"  textLength="19.3" lengthAdjust="spacingAndGlyphs">bud 2</text>
<text x="0.0" y="0.0" font-size="8.9" text-anchor="middle" fill="#3a3a3a" font-weight="normal" transform="translate(24.6,234.7) rotate(-90)" textLength="23.8" lengthAdjust="spacingAndGlyphs">Genes</text>
<path d="M45.3,313.8 L45.3,320" stroke="#333" stroke-width="0.6"/><path d="M44.199999999999996,315.3 L45.3,312.6 L46.4,315.3 Z" fill="#222"/>
<path d="M47.8,313.8 L47.8,320" stroke="#333" stroke-width="0.6"/><path d="M46.699999999999996,315.3 L47.8,312.6 L48.9,315.3 Z" fill="#222"/>
<path d="M50.2,313.8 L50.2,320" stroke="#333" stroke-width="0.6"/><path d="M49.1,315.3 L50.2,312.6 L51.300000000000004,315.3 Z" fill="#222"/>
<path d="M67.4,313.8 L67.4,320" stroke="#333" stroke-width="0.6"/><path d="M66.30000000000001,315.3 L67.4,312.6 L68.5,315.3 Z" fill="#222"/>
<path d="M70.6,313.8 L70.6,320" stroke="#333" stroke-width="0.6"/><path d="M69.5,315.3 L70.6,312.6 L71.69999999999999,315.3 Z" fill="#222"/>
<path d="M75.2,313.8 L75.2,320" stroke="#333" stroke-width="0.6"/><path d="M74.10000000000001,315.3 L75.2,312.6 L76.3,315.3 Z" fill="#222"/>
<path d="M85.3,313.8 L85.3,320" stroke="#333" stroke-width="0.6"/><path d="M84.2,315.3 L85.3,312.6 L86.39999999999999,315.3 Z" fill="#222"/>
<path d="M92.2,313.8 L92.2,320" stroke="#333" stroke-width="0.6"/><path d="M91.10000000000001,315.3 L92.2,312.6 L93.3,315.3 Z" fill="#222"/>
<path d="M103.4,313.8 L103.4,320" stroke="#333" stroke-width="0.6"/><path d="M102.30000000000001,315.3 L103.4,312.6 L104.5,315.3 Z" fill="#222"/>
<path d="M120.1,313.8 L120.1,320" stroke="#333" stroke-width="0.6"/><path d="M119.0,315.3 L120.1,312.6 L121.19999999999999,315.3 Z" fill="#222"/>
<path d="M121.2,313.8 L121.2,320" stroke="#333" stroke-width="0.6"/><path d="M120.10000000000001,315.3 L121.2,312.6 L122.3,315.3 Z" fill="#222"/>
<path d="M131.6,313.8 L131.6,320" stroke="#333" stroke-width="0.6"/><path d="M130.5,315.3 L131.6,312.6 L132.7,315.3 Z" fill="#222"/>
<path d="M144.9,313.8 L144.9,320" stroke="#333" stroke-width="0.6"/><path d="M143.8,315.3 L144.9,312.6 L146.0,315.3 Z" fill="#222"/>
<path d="M191.2,313.8 L191.2,320" stroke="#333" stroke-width="0.6"/><path d="M190.1,315.3 L191.2,312.6 L192.29999999999998,315.3 Z" fill="#222"/>
<path d="M245.6,313.8 L245.6,320" stroke="#333" stroke-width="0.6"/><path d="M244.5,315.3 L245.6,312.6 L246.7,315.3 Z" fill="#222"/>
<text x="150.8" y="324.2" font-size="9.3" text-anchor="start" fill="#3a3a3a" font-weight="normal"  textLength="20.2" lengthAdjust="spacingAndGlyphs">Spots</text>
<rect x="247.50" y="322.6" width="5.22" height="6" fill="#ffffd9"/>
<rect x="252.62" y="322.6" width="5.22" height="6" fill="#edf8b1"/>
<rect x="257.74" y="322.6" width="5.22" height="6" fill="#c7e9b4"/>
<rect x="262.87" y="322.6" width="5.22" height="6" fill="#7fcdbb"/>
<rect x="267.99" y="322.6" width="5.22" height="6" fill="#41b6c4"/>
<rect x="273.11" y="322.6" width="5.22" height="6" fill="#1d91c0"/>
<rect x="278.23" y="322.6" width="5.22" height="6" fill="#225ea8"/>
<rect x="283.36" y="322.6" width="5.22" height="6" fill="#253494"/>
<rect x="288.48" y="322.6" width="5.22" height="6" fill="#081d58"/>
<rect x="247.5" y="322.6" width="46.10000000000002" height="6" fill="none" stroke="#555" stroke-width="0.5"/>
<path d="M247.6,328.6 L247.6,331.5" stroke="#777" stroke-width="0.5"/>
<text x="247.6" y="342.0" font-size="8.4" text-anchor="middle" fill="#3a3a3a" font-weight="normal" >0</text>
<path d="M257.8,328.6 L257.8,331.5" stroke="#777" stroke-width="0.5"/>
<text x="257.8" y="342.0" font-size="8.4" text-anchor="middle" fill="#3a3a3a" font-weight="normal" >2</text>
<path d="M267.9,328.6 L267.9,331.5" stroke="#777" stroke-width="0.5"/>
<text x="267.9" y="342.0" font-size="8.4" text-anchor="middle" fill="#3a3a3a" font-weight="normal" >4</text>
<path d="M278.1,328.6 L278.1,331.5" stroke="#777" stroke-width="0.5"/>
<text x="278.1" y="342.0" font-size="8.4" text-anchor="middle" fill="#3a3a3a" font-weight="normal" >6</text>
<path d="M288.3,328.6 L288.3,331.5" stroke="#777" stroke-width="0.5"/>
<text x="288.3" y="342.0" font-size="8.4" text-anchor="middle" fill="#3a3a3a" font-weight="normal" >8</text>
<text x="270.3" y="355.0" font-size="8.0" text-anchor="middle" fill="#3a3a3a" font-weight="normal"  textLength="66.6" lengthAdjust="spacingAndGlyphs">log2(norm counts)</text>
<rect x="28.3" y="363.7" width="111.5" height="113.7" fill="#d6dbe7"/>
<path d="M48.0,373.0 C51.3,369.9 56.7,368.7 62.0,367.5 C67.3,366.3 74.0,366.2 80.0,366.0 C86.0,365.8 92.7,365.8 98.0,366.5 C103.3,367.2 108.2,368.8 112.0,370.5 C115.8,372.2 118.3,374.1 121.0,377.0 C123.7,379.9 126.2,383.8 128.0,388.0 C129.8,392.2 131.0,396.7 131.8,402.0 C132.6,407.3 132.9,413.3 133.0,420.0 C133.1,426.7 133.0,435.8 132.5,442.0 C132.0,448.2 131.8,452.8 130.0,457.0 C128.2,461.2 125.7,464.3 122.0,467.0 C118.3,469.7 113.3,471.5 108.0,473.0 C102.7,474.5 96.3,475.5 90.0,476.0 C83.7,476.5 76.3,476.5 70.0,476.0 C63.7,475.5 56.7,474.7 52.0,473.0 C47.3,471.3 44.2,469.8 42.0,466.0 C39.8,462.2 39.2,456.8 38.5,450.0 C37.8,443.2 37.5,433.0 37.5,425.0 C37.5,417.0 37.8,408.5 38.5,402.0 C39.2,395.5 40.4,390.8 42.0,386.0 C43.6,381.2 44.7,376.1 48.0,373.0 Z" fill="#3f7db6" stroke="#1d3a88" stroke-width="1.6"/>
<circle cx="41" cy="462" r="2.6" fill="#40b2cc"/>
<circle cx="47" cy="470" r="2.2" fill="#40b2cc"/>
<circle cx="118" cy="466" r="2.4" fill="#40b2cc"/>
<circle cx="112" cy="469" r="2.0" fill="#40b2cc"/>
<circle cx="124" cy="462" r="1.8" fill="#40b2cc"/>
<circle cx="60" cy="471" r="1.4" fill="#40b2cc"/>
<circle cx="42" cy="440" r="1.3" fill="#40b2cc"/>
<circle cx="41" cy="420" r="1.2" fill="#40b2cc"/>
<circle cx="54.7" cy="379.0" r="0.9" fill="#2a4f9e" opacity="0.8"/>
<circle cx="58.9" cy="452.9" r="0.9" fill="#3fb0c8" opacity="0.8"/>
<circle cx="71.3" cy="460.9" r="1.1" fill="#2a4f9e" opacity="0.8"/>
<circle cx="59.3" cy="373.1" r="0.7" fill="#3fb0c8" opacity="0.8"/>
<circle cx="70.6" cy="366.6" r="0.7" fill="#5a6cc0" opacity="0.8"/>
<circle cx="41.3" cy="427.0" r="0.6" fill="#5a6cc0" opacity="0.8"/>
<circle cx="47.3" cy="391.9" r="0.7" fill="#2a4f9e" opacity="0.8"/>
<circle cx="42.0" cy="413.9" r="0.9" fill="#5a6cc0" opacity="0.8"/>
<circle cx="80.1" cy="365.8" r="0.9" fill="#2a4f9e" opacity="0.8"/>
<circle cx="43.0" cy="398.4" r="1.0" fill="#3fb0c8" opacity="0.8"/>
<circle cx="39.8" cy="409.1" r="1.3" fill="#2a4f9e" opacity="0.8"/>
<circle cx="83.6" cy="366.2" r="1.3" fill="#3fb0c8" opacity="0.8"/>
<circle cx="48.1" cy="439.8" r="1.1" fill="#2a4f9e" opacity="0.8"/>
<circle cx="49.1" cy="387.7" r="1.0" fill="#3fb0c8" opacity="0.8"/>
<circle cx="50.4" cy="445.0" r="1.1" fill="#2a4f9e" opacity="0.8"/>
<circle cx="90.5" cy="365.8" r="0.7" fill="#3fb0c8" opacity="0.8"/>
<circle cx="73.0" cy="365.7" r="0.8" fill="#2a4f9e" opacity="0.8"/>
<circle cx="41.8" cy="423.7" r="1.2" fill="#3fb0c8" opacity="0.8"/>
<circle cx="64.6" cy="372.3" r="0.9" fill="#2a4f9e" opacity="0.8"/>
<circle cx="57.3" cy="449.5" r="1.0" fill="#5a6cc0" opacity="0.8"/>
<circle cx="56.4" cy="380.3" r="0.8" fill="#3fb0c8" opacity="0.8"/>
<circle cx="48.0" cy="392.3" r="0.9" fill="#2a4f9e" opacity="0.8"/>
<circle cx="111.5" cy="372.3" r="0.8" fill="#5a6cc0" opacity="0.8"/>
<circle cx="43.3" cy="408.4" r="1.1" fill="#2a4f9e" opacity="0.8"/>
<circle cx="99.7" cy="366.0" r="0.9" fill="#2a4f9e" opacity="0.8"/>
<circle cx="45.2" cy="433.8" r="1.1" fill="#5a6cc0" opacity="0.8"/>
<circle cx="64.5" cy="456.2" r="0.6" fill="#5a6cc0" opacity="0.8"/>
<circle cx="44.1" cy="397.5" r="0.8" fill="#3fb0c8" opacity="0.8"/>
<circle cx="58.9" cy="454.1" r="1.3" fill="#2a4f9e" opacity="0.8"/>
<circle cx="105.1" cy="368.3" r="0.9" fill="#3fb0c8" opacity="0.8"/>
<circle cx="43.1" cy="419.8" r="0.8" fill="#2a4f9e" opacity="0.8"/>
<circle cx="65.9" cy="371.6" r="0.9" fill="#3fb0c8" opacity="0.8"/>
<circle cx="73.5" cy="367.4" r="1.0" fill="#3fb0c8" opacity="0.8"/>
<circle cx="53.5" cy="446.4" r="1.0" fill="#3fb0c8" opacity="0.8"/>
<circle cx="90.5" cy="365.3" r="0.7" fill="#5a6cc0" opacity="0.8"/>
<path d="M47,386 C44,378 48,371 54,370 C58,372 58,378 55,384 Z" fill="#3a9cc4" stroke="#26479a" stroke-width="0.8"/>
<path d="M52,371 C58,366 66,367 70,369 L60,372 Z" fill="#2f5aa8"/>
<ellipse cx="88.6" cy="412.4" rx="43" ry="45.4" fill="#3893b5" stroke="#1f3d8c" stroke-width="1.4"/>
<ellipse cx="88" cy="414" rx="37.0" ry="39" fill="none" stroke="#9ad6e2" stroke-width="0.8" opacity="0.45"/>
<ellipse cx="88" cy="414" rx="33.7" ry="35.5" fill="none" stroke="#2c6cac" stroke-width="0.8" opacity="0.55"/>
<ellipse cx="88" cy="414" rx="30.4" ry="32" fill="none" stroke="#9ad6e2" stroke-width="0.7" opacity="0.45"/>
<ellipse cx="88" cy="414" rx="26.6" ry="28" fill="none" stroke="#2f72b0" stroke-width="0.7" opacity="0.5"/>
<ellipse cx="88" cy="414" rx="22.8" ry="24" fill="none" stroke="#9ad6e2" stroke-width="0.6" opacity="0.4"/>
<ellipse cx="88" cy="414" rx="19.0" ry="20" fill="none" stroke="#3072b0" stroke-width="0.6" opacity="0.45"/>
<ellipse cx="88" cy="414" rx="15.2" ry="16" fill="none" stroke="#9ad6e2" stroke-width="0.5" opacity="0.35"/>
<path d="M52,440 C62,452 80,457 100,455 C112,453 121,446 126,438" fill="none" stroke="#eef6f8" stroke-width="1.1" opacity="0.85"/>
<path d="M60,444 C72,450 90,451 106,448" fill="none" stroke="#eef6f8" stroke-width="0.7" opacity="0.7"/>
<path d="M49,432 C46,418 47,404 52,392" fill="none" stroke="#eef6f8" stroke-width="0.9" opacity="0.7"/>
<path d="M46,452 C54,430 68,410 92,394" fill="none" stroke="#1f3f8a" stroke-width="0.9"/>
<ellipse cx="83" cy="398" rx="6" ry="4" fill="#5a72c6" opacity="0.6"/>
<ellipse cx="94" cy="404" rx="5" ry="4.5" fill="#5a72c6" opacity="0.55"/>
<ellipse cx="79" cy="412" rx="4.5" ry="4" fill="#5a72c6" opacity="0.5"/>
<ellipse cx="101" cy="417" rx="5" ry="5.5" fill="#5a72c6" opacity="0.55"/>
<ellipse cx="89" cy="414" rx="4.5" ry="4" fill="#5a72c6" opacity="0.45"/>
<ellipse cx="75" cy="433.5" rx="4.3" ry="3.0" fill="#5a72c6" opacity="0.8"/>
<ellipse cx="88" cy="434" rx="4.3" ry="3.0" fill="#5a72c6" opacity="0.8"/>
<circle cx="81.8" cy="434" r="1.5" fill="#e8eef8"/>
<circle cx="73.2" cy="397.8" r="2.7" fill="#dc5a76"/><circle cx="73.4" cy="408.7" r="2.7" fill="#dc5a76"/>
<circle cx="126" cy="365" r="1.2" fill="#3fb0cc"/><circle cx="135" cy="438" r="0.8" fill="#6aa0d0"/>
<rect x="528" y="70" width="120" height="122" fill="#dddce9"/>
<path d="M562.9,87.5 C564.3,85.8 568.7,84.8 572.1,83.8 C575.5,82.8 579.9,81.9 583.1,81.4 C586.3,80.9 589.2,80.5 591.4,81.0 C593.5,81.5 593.7,83.8 596.0,84.7 C598.3,85.6 603.2,85.3 605.2,86.5 C607.2,87.7 607.1,90.2 608.0,92.0 C608.9,93.8 609.3,95.8 610.7,97.6 C612.1,99.4 614.5,101.6 616.2,103.1 C617.9,104.6 619.9,104.6 620.8,106.8 C621.7,109.0 620.9,113.9 621.7,116.0 C622.5,118.1 624.3,118.1 625.4,119.6 C626.5,121.1 627.3,123.0 628.2,125.1 C629.1,127.2 630.1,129.9 630.9,132.0 C631.7,134.1 632.2,135.3 632.8,137.4 C633.4,139.5 634.0,141.9 634.6,144.7 C635.2,147.4 636.5,151.4 636.5,153.9 C636.5,156.4 635.5,157.2 634.6,159.4 C633.7,161.6 630.0,165.0 630.9,166.8 C631.8,168.6 639.2,169.2 640.1,170.4 C641.0,171.6 637.4,172.7 636.5,174.1 C635.6,175.5 636.1,177.2 634.6,178.7 C633.1,180.2 629.8,181.9 627.3,183.3 C624.8,184.7 622.0,186.7 619.9,187.0 C617.8,187.3 615.9,186.3 614.4,185.1 C612.9,183.9 613.5,180.3 610.7,179.6 C608.0,178.8 602.5,180.4 597.9,180.6 C593.3,180.8 587.7,180.8 583.1,180.6 C578.5,180.4 574.3,180.1 570.3,179.6 C566.3,179.1 562.7,178.7 559.3,177.8 C555.9,176.9 553.4,175.3 550.0,174.1 C546.6,172.9 541.3,171.6 539.0,170.4 C536.7,169.2 536.9,168.3 536.3,166.8 C535.7,165.3 535.2,163.0 535.4,161.2 C535.5,159.3 537.2,157.2 537.2,155.7 C537.2,154.2 535.5,153.8 535.4,152.0 C535.2,150.2 535.8,147.1 536.3,144.7 C536.8,142.3 537.2,139.5 538.1,137.4 C539.0,135.3 541.0,134.3 541.8,132.0 C542.6,129.7 541.9,126.3 542.7,123.3 C543.5,120.3 545.3,116.8 546.4,114.1 C547.5,111.3 548.2,108.9 549.1,106.8 C550.0,104.7 550.4,103.1 551.9,101.3 C553.4,99.5 556.3,96.9 558.3,95.7 C560.3,94.5 563.0,95.3 563.8,93.9 C564.6,92.5 561.5,89.2 562.9,87.5 Z" fill="#3e4eae" stroke="#27318a" stroke-width="1.4"/>
<path d="M586,85 C589,83 592,84 594,87 C601,110 609,150 614,180 C600,182 584,182 568,180 C572,150 579,110 586,85 Z" fill="#6088ac" opacity="0.5"/>
<ellipse cx="588" cy="100" rx="2" ry="4" fill="#4d8aa8" opacity="0.6"/>
<ellipse cx="584" cy="120" rx="2.5" ry="5" fill="#4d8aa8" opacity="0.6"/>
<ellipse cx="596" cy="125" rx="2" ry="4" fill="#4d8aa8" opacity="0.6"/>
<ellipse cx="580" cy="150" rx="2" ry="5" fill="#4d8aa8" opacity="0.6"/>
<ellipse cx="600" cy="155" rx="2" ry="6" fill="#4d8aa8" opacity="0.6"/>
<ellipse cx="590" cy="170" rx="2" ry="4" fill="#4d8aa8" opacity="0.6"/>
<ellipse cx="606" cy="140" rx="1.5" ry="4" fill="#4d8aa8" opacity="0.6"/>
<path d="M545,158 C550,157 553,158 556,160 M537,156 L542,157" stroke="#d4dcee" stroke-width="0.9" fill="none"/>
<path d="M619,164 C625,162 630,162 636,166" stroke="#c8d0ea" stroke-width="0.7" fill="none"/>
<circle cx="604.9" cy="88.0" r="2.1" fill="#cc6a8e" stroke="#eeb0c6" stroke-width="0.7"/>
<circle cx="560.1" cy="94.7" r="2.1" fill="#cc6a8e" stroke="#eeb0c6" stroke-width="0.7"/>
<circle cx="596.1" cy="93.9" r="2.1" fill="#cc6a8e" stroke="#eeb0c6" stroke-width="0.7"/>
<circle cx="565.4" cy="102.7" r="2.1" fill="#cc6a8e" stroke="#eeb0c6" stroke-width="0.7"/>
<circle cx="557.4" cy="108.1" r="2.1" fill="#cc6a8e" stroke="#eeb0c6" stroke-width="0.7"/>
<circle cx="604.1" cy="104.9" r="2.1" fill="#cc6a8e" stroke="#eeb0c6" stroke-width="0.7"/>
<circle cx="617.5" cy="107.5" r="2.1" fill="#cc6a8e" stroke="#eeb0c6" stroke-width="0.7"/>
<circle cx="562.7" cy="114.8" r="2.1" fill="#cc6a8e" stroke="#eeb0c6" stroke-width="0.7"/>
<circle cx="609.5" cy="112.9" r="2.1" fill="#cc6a8e" stroke="#eeb0c6" stroke-width="0.7"/>
<circle cx="586.8" cy="116.1" r="2.1" fill="#cc6a8e" stroke="#eeb0c6" stroke-width="0.7"/>
<circle cx="601.5" cy="118.2" r="2.1" fill="#cc6a8e" stroke="#eeb0c6" stroke-width="0.7"/>
<circle cx="554.7" cy="120.1" r="2.1" fill="#cc6a8e" stroke="#eeb0c6" stroke-width="0.7"/>
<circle cx="614.0" cy="120.4" r="2.1" fill="#cc6a8e" stroke="#eeb0c6" stroke-width="0.7"/>
<circle cx="545.4" cy="126.8" r="2.1" fill="#cc6a8e" stroke="#eeb0c6" stroke-width="0.7"/>
<circle cx="583.6" cy="129.4" r="2.1" fill="#cc6a8e" stroke="#eeb0c6" stroke-width="0.7"/>
<circle cx="619.4" cy="128.9" r="2.1" fill="#cc6a8e" stroke="#eeb0c6" stroke-width="0.7"/>
<circle cx="588.1" cy="135.6" r="2.1" fill="#cc6a8e" stroke="#eeb0c6" stroke-width="0.7"/>
<circle cx="626.8" cy="138.0" r="2.1" fill="#cc6a8e" stroke="#eeb0c6" stroke-width="0.7"/>
<circle cx="580.1" cy="140.7" r="2.1" fill="#cc6a8e" stroke="#eeb0c6" stroke-width="0.7"/>
<circle cx="603.6" cy="140.9" r="2.1" fill="#cc6a8e" stroke="#eeb0c6" stroke-width="0.7"/>
<circle cx="544.8" cy="144.4" r="2.1" fill="#cc6a8e" stroke="#eeb0c6" stroke-width="0.7"/>
<circle cx="537.4" cy="148.7" r="2.1" fill="#cc6a8e" stroke="#eeb0c6" stroke-width="0.7"/>
<circle cx="586.8" cy="150.8" r="2.1" fill="#cc6a8e" stroke="#eeb0c6" stroke-width="0.7"/>
<circle cx="622.8" cy="151.6" r="2.1" fill="#cc6a8e" stroke="#eeb0c6" stroke-width="0.7"/>
<circle cx="601.5" cy="154.3" r="2.1" fill="#cc6a8e" stroke="#eeb0c6" stroke-width="0.7"/>
<circle cx="636.7" cy="154.3" r="2.1" fill="#cc6a8e" stroke="#eeb0c6" stroke-width="0.7"/>
<circle cx="579.3" cy="157.8" r="2.1" fill="#cc6a8e" stroke="#eeb0c6" stroke-width="0.7"/>
<circle cx="613.5" cy="157.5" r="2.1" fill="#cc6a8e" stroke="#eeb0c6" stroke-width="0.7"/>
<circle cx="593.5" cy="159.9" r="2.1" fill="#cc6a8e" stroke="#eeb0c6" stroke-width="0.7"/>
<circle cx="583.6" cy="164.7" r="2.1" fill="#cc6a8e" stroke="#eeb0c6" stroke-width="0.7"/>
<circle cx="607.6" cy="162.8" r="2.1" fill="#cc6a8e" stroke="#eeb0c6" stroke-width="0.7"/>
<circle cx="599.1" cy="168.2" r="2.1" fill="#cc6a8e" stroke="#eeb0c6" stroke-width="0.7"/>
<circle cx="633.5" cy="167.9" r="2.1" fill="#cc6a8e" stroke="#eeb0c6" stroke-width="0.7"/>
<circle cx="538.2" cy="170.0" r="2.1" fill="#cc6a8e" stroke="#eeb0c6" stroke-width="0.7"/>
<circle cx="574.8" cy="171.6" r="2.1" fill="#cc6a8e" stroke="#eeb0c6" stroke-width="0.7"/>
<circle cx="567.5" cy="177.0" r="2.1" fill="#cc6a8e" stroke="#eeb0c6" stroke-width="0.7"/>
<circle cx="590.2" cy="174.3" r="2.1" fill="#cc6a8e" stroke="#eeb0c6" stroke-width="0.7"/>
<circle cx="602.8" cy="176.5" r="2.1" fill="#cc6a8e" stroke="#eeb0c6" stroke-width="0.7"/>
<circle cx="581.4" cy="180.2" r="2.1" fill="#cc6a8e" stroke="#eeb0c6" stroke-width="0.7"/>
<circle cx="606.8" cy="182.9" r="2.1" fill="#cc6a8e" stroke="#eeb0c6" stroke-width="0.7"/>
<rect x="195.6" y="376.3" width="129.9" height="89.3" fill="none" stroke="#999" stroke-width="0.9"/>
<path d="M191.3,389.7 L195.6,389.7" stroke="#999" stroke-width="0.8"/>
<text x="188.0" y="392.8" font-size="8.6" text-anchor="end" fill="#3a3a3a" font-weight="normal"  textLength="16" lengthAdjust="spacingAndGlyphs">0.10</text>
<path d="M191.3,410.4 L195.6,410.4" stroke="#999" stroke-width="0.8"/>
<text x="188.0" y="413.5" font-size="8.6" text-anchor="end" fill="#3a3a3a" font-weight="normal"  textLength="16" lengthAdjust="spacingAndGlyphs">0.05</text>
<path d="M191.3,431.1 L195.6,431.1" stroke="#999" stroke-width="0.8"/>
<text x="188.0" y="434.2" font-size="8.6" text-anchor="end" fill="#3a3a3a" font-weight="normal"  textLength="16" lengthAdjust="spacingAndGlyphs">0.00</text>
<path d="M191.3,451.8 L195.6,451.8" stroke="#999" stroke-width="0.8"/>
<text x="188.0" y="454.9" font-size="8.6" text-anchor="end" fill="#3a3a3a" font-weight="normal"  textLength="23" lengthAdjust="spacingAndGlyphs">−0.05</text>
<path d="M206.2,465.6 L206.2,469.4" stroke="#999" stroke-width="0.8"/>
<text x="206.2" y="479.8" font-size="8.6" text-anchor="middle" fill="#3a3a3a" font-weight="normal"  textLength="21.3" lengthAdjust="spacingAndGlyphs">−0.09</text>
<path d="M228.8,465.6 L228.8,469.4" stroke="#999" stroke-width="0.8"/>
<text x="228.8" y="479.8" font-size="8.6" text-anchor="middle" fill="#3a3a3a" font-weight="normal"  textLength="21.3" lengthAdjust="spacingAndGlyphs">−0.08</text>
<path d="M251.4,465.6 L251.4,469.4" stroke="#999" stroke-width="0.8"/>
<text x="251.4" y="479.8" font-size="8.6" text-anchor="middle" fill="#3a3a3a" font-weight="normal"  textLength="21.3" lengthAdjust="spacingAndGlyphs">−0.07</text>
<path d="M274.1,465.6 L274.1,469.4" stroke="#999" stroke-width="0.8"/>
<text x="274.1" y="479.8" font-size="8.6" text-anchor="middle" fill="#3a3a3a" font-weight="normal"  textLength="21.3" lengthAdjust="spacingAndGlyphs">−0.06</text>
<path d="M296.7,465.6 L296.7,469.4" stroke="#999" stroke-width="0.8"/>
<text x="296.7" y="479.8" font-size="8.6" text-anchor="middle" fill="#3a3a3a" font-weight="normal"  textLength="21.3" lengthAdjust="spacingAndGlyphs">−0.05</text>
<path d="M319.3,465.6 L319.3,469.4" stroke="#999" stroke-width="0.8"/>
<text x="319.3" y="479.8" font-size="8.6" text-anchor="middle" fill="#3a3a3a" font-weight="normal"  textLength="21.3" lengthAdjust="spacingAndGlyphs">−0.04</text>
<text x="260.7" y="492.8" font-size="8.6" text-anchor="middle" fill="#3a3a3a" font-weight="normal"  textLength="14.2" lengthAdjust="spacingAndGlyphs">PC1</text>
<text x="0.0" y="0.0" font-size="8.6" text-anchor="middle" fill="#3a3a3a" font-weight="normal" transform="translate(161.5,422.2) rotate(-90)" textLength="13.5" lengthAdjust="spacingAndGlyphs">PC2</text>
<circle cx="229.3" cy="379.5" r="1.05" fill="#d82a5c"/>
<circle cx="229.3" cy="381" r="1.05" fill="#d82a5c"/>
<circle cx="231.8" cy="380.5" r="1.05" fill="#d82a5c"/>
<circle cx="233.3" cy="381.2" r="1.05" fill="#d82a5c"/>
<circle cx="235.3" cy="382" r="1.05" fill="#d82a5c"/>
<circle cx="223.9" cy="381.5" r="1.05" fill="#d82a5c"/>
<circle cx="223.9" cy="383" r="1.05" fill="#d82a5c"/>
<circle cx="223.9" cy="384.5" r="1.05" fill="#d82a5c"/>
<circle cx="226.9" cy="384.5" r="1.05" fill="#d82a5c"/>
<circle cx="228.8" cy="385" r="1.05" fill="#d82a5c"/>
<circle cx="230.3" cy="384" r="1.05" fill="#d82a5c"/>
<circle cx="231.8" cy="385" r="1.05" fill="#d82a5c"/>
<circle cx="232.8" cy="384.5" r="1.05" fill="#d82a5c"/>
<circle cx="234.3" cy="385" r="1.05" fill="#d82a5c"/>
<circle cx="235.3" cy="385" r="1.05" fill="#d82a5c"/>
<circle cx="237.8" cy="385.5" r="1.05" fill="#d82a5c"/>
<circle cx="230.8" cy="386.5" r="1.05" fill="#d82a5c"/>
<circle cx="232.3" cy="387.4" r="1.05" fill="#d82a5c"/>
<circle cx="236.3" cy="387.7" r="1.05" fill="#d82a5c"/>
<circle cx="244.3" cy="383" r="1.05" fill="#d82a5c"/>
<circle cx="217.1" cy="386.1" r="1.05" fill="#d82a5c"/>
<circle cx="227.8" cy="388.4" r="1.05" fill="#d82a5c"/>
<circle cx="225.9" cy="389.9" r="1.05" fill="#d82a5c"/>
<circle cx="224.4" cy="390.4" r="1.05" fill="#d82a5c"/>
<circle cx="229.3" cy="389.9" r="1.05" fill="#d82a5c"/>
<circle cx="230.3" cy="391.4" r="1.05" fill="#d82a5c"/>
<circle cx="229.3" cy="392.4" r="1.05" fill="#d82a5c"/>
<circle cx="232.8" cy="391.9" r="1.05" fill="#d82a5c"/>
<circle cx="239.3" cy="390.9" r="1.05" fill="#d82a5c"/>
<circle cx="240.8" cy="392.1" r="1.05" fill="#d82a5c"/>
<circle cx="223.9" cy="392.9" r="1.05" fill="#d82a5c"/>
<circle cx="246.3" cy="387.4" r="1.05" fill="#d82a5c"/>
<circle cx="246.3" cy="389.9" r="1.05" fill="#d82a5c"/>
<circle cx="247.3" cy="389.9" r="1.05" fill="#d82a5c"/>
<circle cx="222.4" cy="396.4" r="1.05" fill="#d82a5c"/>
<circle cx="227.8" cy="395.4" r="1.05" fill="#d82a5c"/>
<circle cx="227.8" cy="396.9" r="1.05" fill="#d82a5c"/>
<circle cx="234.8" cy="395.4" r="1.05" fill="#d82a5c"/>
<circle cx="236.8" cy="395.9" r="1.05" fill="#d82a5c"/>
<circle cx="238.8" cy="396.1" r="1.05" fill="#d82a5c"/>
<circle cx="245.3" cy="394.9" r="1.05" fill="#d82a5c"/>
<circle cx="247.5" cy="393.9" r="1.05" fill="#d82a5c"/>
<circle cx="258.2" cy="394.1" r="1.05" fill="#d82a5c"/>
<circle cx="247.8" cy="401.4" r="1.05" fill="#d82a5c"/>
<circle cx="247.5" cy="404.6" r="1.05" fill="#d82a5c"/>
<circle cx="254.7" cy="403.9" r="1.05" fill="#d82a5c"/>
<circle cx="243.6" cy="406.7" r="1.05" fill="#d82a5c"/>
<circle cx="246.8" cy="408.8" r="1.05" fill="#d82a5c"/>
<circle cx="243.7" cy="382.9" r="1.05" fill="#d82a5c"/>
<circle cx="245.5" cy="387.9" r="1.05" fill="#d82a5c"/>
<circle cx="247" cy="389.8" r="1.05" fill="#d82a5c"/>
<circle cx="245.5" cy="394.8" r="1.05" fill="#d82a5c"/>
<circle cx="247.9" cy="401.7" r="1.05" fill="#d82a5c"/>
<circle cx="247" cy="404.7" r="1.05" fill="#d82a5c"/>
<circle cx="247.4" cy="408.4" r="1.05" fill="#d82a5c"/>
<circle cx="254.9" cy="404" r="1.05" fill="#d82a5c"/>
<circle cx="258.1" cy="394" r="1.05" fill="#d82a5c"/>
<circle cx="261.1" cy="395.3" r="1.05" fill="#d82a5c"/>
<circle cx="262.8" cy="397.3" r="1.05" fill="#d82a5c"/>
<circle cx="262.3" cy="399.8" r="1.05" fill="#d82a5c"/>
<circle cx="264.3" cy="404.7" r="1.05" fill="#d82a5c"/>
<circle cx="270.3" cy="400.3" r="1.05" fill="#d82a5c"/>
<circle cx="271.7" cy="399.3" r="1.05" fill="#d82a5c"/>
<circle cx="271" cy="404.7" r="1.05" fill="#d82a5c"/>
<circle cx="277.7" cy="399.8" r="1.05" fill="#d82a5c"/>
<circle cx="284.6" cy="399" r="1.05" fill="#d82a5c"/>
<circle cx="274" cy="417.9" r="1.05" fill="#d82a5c"/>
<circle cx="296.5" cy="402.7" r="1.05" fill="#d82a5c"/>
<circle cx="298.3" cy="401.5" r="1.05" fill="#d82a5c"/>
<circle cx="304" cy="400" r="1.05" fill="#d82a5c"/>
<circle cx="298.3" cy="415.1" r="1.05" fill="#d82a5c"/>
<circle cx="311.9" cy="420.3" r="1.05" fill="#d82a5c"/>
<circle cx="318.8" cy="415.4" r="1.05" fill="#d82a5c"/>
<circle cx="320.6" cy="425.3" r="1.05" fill="#d82a5c"/>
<circle cx="240.5" cy="392.3" r="1.05" fill="#d82a5c"/>
<circle cx="218.1" cy="460.5" r="1.1" fill="#4a6e80"/>
<circle cx="219.4" cy="455.8" r="1.1" fill="#4a6e80"/>
<circle cx="208.2" cy="456.6" r="1.1" fill="#4a6e80"/>
<circle cx="197.3" cy="454.7" r="1.1" fill="#4a6e80"/>
<circle cx="212.8" cy="456.4" r="1.1" fill="#4a6e80"/>
<circle cx="208.8" cy="460.2" r="1.1" fill="#4a6e80"/>
<circle cx="216.1" cy="460.1" r="1.1" fill="#4a6e80"/>
<circle cx="213.0" cy="457.0" r="1.1" fill="#4a6e80"/>
<circle cx="208.7" cy="458.6" r="1.1" fill="#4a6e80"/>
<circle cx="202.8" cy="455.8" r="1.1" fill="#4a6e80"/>
<circle cx="217.7" cy="460.1" r="1.1" fill="#4a6e80"/>
<circle cx="213.6" cy="455.2" r="1.1" fill="#4a6e80"/>
<circle cx="217.6" cy="456.2" r="1.1" fill="#4a6e80"/>
<circle cx="213.3" cy="455.6" r="1.1" fill="#4a6e80"/>
<circle cx="225.3" cy="461.7" r="1.1" fill="#4a6e80"/>
<circle cx="208.8" cy="455.1" r="1.1" fill="#4a6e80"/>
<circle cx="213.7" cy="459.6" r="1.1" fill="#4a6e80"/>
<circle cx="221.8" cy="457.9" r="1.1" fill="#4a6e80"/>
<circle cx="206.3" cy="458.7" r="1.1" fill="#4a6e80"/>
<circle cx="215.7" cy="454.1" r="1.1" fill="#4a6e80"/>
<circle cx="212.4" cy="457.3" r="1.1" fill="#4a6e80"/>
<circle cx="207.9" cy="458.6" r="1.1" fill="#4a6e80"/>
<circle cx="220.6" cy="460.5" r="1.1" fill="#4a6e80"/>
<circle cx="208.5" cy="456.5" r="1.1" fill="#4a6e80"/>
<circle cx="218.3" cy="457.2" r="1.1" fill="#4a6e80"/>
<circle cx="211.8" cy="463.0" r="1.1" fill="#4a6e80"/>
<circle cx="198.1" cy="456.4" r="1.1" fill="#4a6e80"/>
<circle cx="208.8" cy="457.9" r="1.1" fill="#4a6e80"/>
<circle cx="224.6" cy="457.6" r="1.1" fill="#4a6e80"/>
<circle cx="212.2" cy="458.4" r="1.1" fill="#4a6e80"/>
<circle cx="212.1" cy="458.9" r="1.1" fill="#4a6e80"/>
<circle cx="229.8" cy="456.3" r="1.1" fill="#4a6e80"/>
<circle cx="212.7" cy="457.8" r="1.1" fill="#4a6e80"/>
<circle cx="201.0" cy="459.5" r="1.1" fill="#4a6e80"/>
<circle cx="213.6" cy="453.1" r="1.1" fill="#4a6e80"/>
<circle cx="212.3" cy="458.4" r="1.1" fill="#4a6e80"/>
<circle cx="208.5" cy="460.7" r="1.1" fill="#4a6e80"/>
<circle cx="210.3" cy="454.3" r="1.1" fill="#4a6e80"/>
<circle cx="219.0" cy="457.7" r="1.1" fill="#4a6e80"/>
<circle cx="214.9" cy="454.0" r="1.1" fill="#4a6e80"/>
<circle cx="205.4" cy="455.5" r="1.1" fill="#4a6e80"/>
<circle cx="213.0" cy="457.7" r="1.1" fill="#4a6e80"/>
<circle cx="222.6" cy="461.8" r="1.1" fill="#4a6e80"/>
<circle cx="214.8" cy="457.8" r="1.1" fill="#4a6e80"/>
<circle cx="225.8" cy="458.1" r="1.1" fill="#4a6e80"/>
<circle cx="220.3" cy="456.8" r="1.1" fill="#4a6e80"/>
<circle cx="213.4" cy="457.3" r="1.1" fill="#4a6e80"/>
<circle cx="209.7" cy="458.9" r="1.1" fill="#4a6e80"/>
<circle cx="208.9" cy="457.7" r="1.1" fill="#4a6e80"/>
<circle cx="216.6" cy="463.0" r="1.1" fill="#4a6e80"/>
<circle cx="202.2" cy="458.2" r="1.1" fill="#4a6e80"/>
<circle cx="218.1" cy="457.1" r="1.1" fill="#4a6e80"/>
<circle cx="219.4" cy="459.3" r="1.1" fill="#4a6e80"/>
<circle cx="217.0" cy="457.0" r="1.1" fill="#4a6e80"/>
<circle cx="212.7" cy="457.4" r="1.1" fill="#4a6e80"/>
<circle cx="207.9" cy="458.4" r="1.1" fill="#4a6e80"/>
<circle cx="207.4" cy="455.7" r="1.1" fill="#4a6e80"/>
<circle cx="205.4" cy="460.7" r="1.1" fill="#4a6e80"/>
<circle cx="210.5" cy="455.8" r="1.1" fill="#4a6e80"/>
<circle cx="218.9" cy="457.0" r="1.1" fill="#4a6e80"/>
<circle cx="216.1" cy="457.6" r="1.1" fill="#4a6e80"/>
<circle cx="216.2" cy="458.5" r="1.1" fill="#4a6e80"/>
<circle cx="200.6" cy="461.6" r="1.1" fill="#4a6e80"/>
<circle cx="220.2" cy="454.4" r="1.1" fill="#4a6e80"/>
<circle cx="219.5" cy="457.4" r="1.1" fill="#4a6e80"/>
<circle cx="214.7" cy="461.2" r="1.1" fill="#4a6e80"/>
<circle cx="220.2" cy="460.4" r="1.1" fill="#4a6e80"/>
<circle cx="226.4" cy="460.7" r="1.1" fill="#4a6e80"/>
<circle cx="210.3" cy="454.8" r="1.1" fill="#4a6e80"/>
<circle cx="219.2" cy="453.8" r="1.1" fill="#4a6e80"/>
<circle cx="211.8" cy="457.1" r="1.1" fill="#4a6e80"/>
<circle cx="209.6" cy="461.4" r="1.1" fill="#4a6e80"/>
<circle cx="216.0" cy="457.4" r="1.1" fill="#4a6e80"/>
<circle cx="219.5" cy="457.0" r="1.1" fill="#4a6e80"/>
<circle cx="221.4" cy="463.0" r="1.1" fill="#4a6e80"/>
<circle cx="213.2" cy="457.6" r="1.1" fill="#4a6e80"/>
<circle cx="221.1" cy="453.1" r="1.1" fill="#4a6e80"/>
<circle cx="206.2" cy="455.5" r="1.1" fill="#4a6e80"/>
<circle cx="204.0" cy="458.0" r="1.1" fill="#4a6e80"/>
<circle cx="215.8" cy="457.9" r="1.1" fill="#4a6e80"/>
<circle cx="213.8" cy="460.3" r="1.1" fill="#4a6e80"/>
<circle cx="220.6" cy="461.1" r="1.1" fill="#4a6e80"/>
<circle cx="213.1" cy="458.0" r="1.1" fill="#4a6e80"/>
<circle cx="223.1" cy="459.0" r="1.1" fill="#4a6e80"/>
<circle cx="222.1" cy="456.8" r="1.1" fill="#4a6e80"/>
<circle cx="226.9" cy="455.5" r="1.1" fill="#4a6e80"/>
<circle cx="243.5" cy="452.8" r="1.1" fill="#4a6e80"/>
<circle cx="238.3" cy="455.9" r="1.1" fill="#4a6e80"/>
<circle cx="226.3" cy="453.5" r="1.1" fill="#4a6e80"/>
<circle cx="227.7" cy="454.4" r="1.1" fill="#4a6e80"/>
<circle cx="238.5" cy="455.2" r="1.1" fill="#4a6e80"/>
<circle cx="232.3" cy="457.2" r="1.1" fill="#4a6e80"/>
<circle cx="239.0" cy="454.1" r="1.1" fill="#4a6e80"/>
<circle cx="244.5" cy="457.0" r="1.1" fill="#4a6e80"/>
<circle cx="235.8" cy="460.8" r="1.1" fill="#4a6e80"/>
<circle cx="226.6" cy="458.1" r="1.1" fill="#4a6e80"/>
<circle cx="243.7" cy="457.0" r="1.1" fill="#4a6e80"/>
<circle cx="227.7" cy="458.9" r="1.1" fill="#4a6e80"/>
<circle cx="225.0" cy="456.9" r="1.1" fill="#4a6e80"/>
<circle cx="240.0" cy="457.7" r="1.1" fill="#4a6e80"/>
<circle cx="224.0" cy="459.7" r="1.1" fill="#4a6e80"/>
<circle cx="239.6" cy="454.8" r="1.1" fill="#4a6e80"/>
<circle cx="245.3" cy="456.5" r="1.1" fill="#4a6e80"/>
<circle cx="245.1" cy="458.9" r="1.1" fill="#4a6e80"/>
<circle cx="230.8" cy="455.1" r="1.1" fill="#4a6e80"/>
<circle cx="242.3" cy="456.9" r="1.1" fill="#4a6e80"/>
<circle cx="239.7" cy="455.6" r="1.1" fill="#4a6e80"/>
<circle cx="225.2" cy="458.2" r="1.1" fill="#4a6e80"/>
<circle cx="243.2" cy="456.6" r="1.1" fill="#4a6e80"/>
<circle cx="241.9" cy="454.3" r="1.1" fill="#4a6e80"/>
<circle cx="199.9" cy="455.9" r="1.1" fill="#4a6e80"/>
<circle cx="203.3" cy="455.9" r="1.1" fill="#4a6e80"/>
<circle cx="215.2" cy="452.0" r="1.1" fill="#4a6e80"/>
<circle cx="223.8" cy="453.7" r="1.1" fill="#4a6e80"/>
<circle cx="237.3" cy="452.9" r="1.1" fill="#4a6e80"/>
<circle cx="244.0" cy="457.2" r="1.1" fill="#4a6e80"/>
<circle cx="247.1" cy="459.0" r="1.1" fill="#4a6e80"/>
<circle cx="242.8" cy="461.8" r="1.1" fill="#4a6e80"/>
<circle cx="237.3" cy="461.8" r="1.1" fill="#4a6e80"/>
<circle cx="255.0" cy="454.1" r="1.1" fill="#4a6e80"/>
<circle cx="271.6" cy="453.2" r="1.1" fill="#4a6e80"/>
<circle cx="278.4" cy="450.6" r="1.05" fill="#d82a5c"/><circle cx="278.4" cy="459.3" r="1.1" fill="#4a6e80"/>
<text x="281.0" y="453.6" font-size="8.6" text-anchor="start" fill="#3a3a3a" font-weight="normal"  textLength="42.8" lengthAdjust="spacingAndGlyphs">Developing</text>
<text x="281.0" y="462.3" font-size="8.6" text-anchor="start" fill="#3a3a3a" font-weight="normal"  textLength="33.4" lengthAdjust="spacingAndGlyphs">Dormant</text>
<text x="334.6" y="13.9" font-size="9.5" text-anchor="start" fill="#484848" font-weight="normal" >i</text>
<path d="M363.6,11.3 L509.2,11.3 L509.2,111.0 L363.6,111.0 Z" fill="none" stroke="#8c8c8c" stroke-width="0.9"/>
<path d="M360.1,24.5 L363.6,24.5" stroke="#8c8c8c" stroke-width="0.8"/>
<text x="356.6" y="26.9" font-size="6.9" text-anchor="end" fill="#484848" font-weight="normal"  textLength="14.2" lengthAdjust="spacingAndGlyphs">0.20</text>
<path d="M360.1,45.9 L363.6,45.9" stroke="#8c8c8c" stroke-width="0.8"/>
<text x="356.6" y="48.3" font-size="6.9" text-anchor="end" fill="#484848" font-weight="normal"  textLength="14.2" lengthAdjust="spacingAndGlyphs">0.10</text>
<path d="M360.1,67.3 L363.6,67.3" stroke="#8c8c8c" stroke-width="0.8"/>
<text x="356.6" y="69.7" font-size="6.9" text-anchor="end" fill="#484848" font-weight="normal"  textLength="14.2" lengthAdjust="spacingAndGlyphs">0.00</text>
<path d="M360.1,88.7 L363.6,88.7" stroke="#8c8c8c" stroke-width="0.8"/>
<text x="356.6" y="91.1" font-size="6.9" text-anchor="end" fill="#484848" font-weight="normal"  textLength="17.6" lengthAdjust="spacingAndGlyphs">−0.10</text>
<path d="M360.1,110.1 L363.6,110.1" stroke="#8c8c8c" stroke-width="0.8"/>
<text x="356.6" y="112.5" font-size="6.9" text-anchor="end" fill="#484848" font-weight="normal"  textLength="17.6" lengthAdjust="spacingAndGlyphs">−0.20</text>
<path d="M371.0,111.0 L371.0,114.3" stroke="#8c8c8c" stroke-width="0.8"/>
<text x="371.0" y="124.1" font-size="6.9" text-anchor="middle" fill="#484848" font-weight="normal"  textLength="15.8" lengthAdjust="spacingAndGlyphs">−0.14</text>
<path d="M390.3,111.0 L390.3,114.3" stroke="#8c8c8c" stroke-width="0.8"/>
<text x="390.3" y="124.1" font-size="6.9" text-anchor="middle" fill="#484848" font-weight="normal"  textLength="15.8" lengthAdjust="spacingAndGlyphs">−0.12</text>
<path d="M409.7,111.0 L409.7,114.3" stroke="#8c8c8c" stroke-width="0.8"/>
<text x="409.7" y="124.1" font-size="6.9" text-anchor="middle" fill="#484848" font-weight="normal"  textLength="15.8" lengthAdjust="spacingAndGlyphs">−0.10</text>
<path d="M429.1,111.0 L429.1,114.3" stroke="#8c8c8c" stroke-width="0.8"/>
<text x="429.1" y="124.1" font-size="6.9" text-anchor="middle" fill="#484848" font-weight="normal"  textLength="15.8" lengthAdjust="spacingAndGlyphs">−0.08</text>
<path d="M448.4,111.0 L448.4,114.3" stroke="#8c8c8c" stroke-width="0.8"/>
<text x="448.4" y="124.1" font-size="6.9" text-anchor="middle" fill="#484848" font-weight="normal"  textLength="15.8" lengthAdjust="spacingAndGlyphs">−0.06</text>
<path d="M467.8,111.0 L467.8,114.3" stroke="#8c8c8c" stroke-width="0.8"/>
<text x="467.8" y="124.1" font-size="6.9" text-anchor="middle" fill="#484848" font-weight="normal"  textLength="15.8" lengthAdjust="spacingAndGlyphs">−0.04</text>
<path d="M487.1,111.0 L487.1,114.3" stroke="#8c8c8c" stroke-width="0.8"/>
<text x="487.1" y="124.1" font-size="6.9" text-anchor="middle" fill="#484848" font-weight="normal"  textLength="15.8" lengthAdjust="spacingAndGlyphs">−0.02</text>
<path d="M506.5,111.0 L506.5,114.3" stroke="#8c8c8c" stroke-width="0.8"/>
<text x="506.5" y="124.1" font-size="6.9" text-anchor="middle" fill="#484848" font-weight="normal"  textLength="12.8" lengthAdjust="spacingAndGlyphs">0.00</text>
<text x="435.9" y="134.6" font-size="6.9" text-anchor="middle" fill="#484848" font-weight="normal"  textLength="12" lengthAdjust="spacingAndGlyphs">PC1</text>
<text x="0.0" y="0.0" font-size="6.8" text-anchor="middle" fill="#484848" font-weight="normal" transform="translate(330.8,61) rotate(-90)">PC2</text>
<path d="M434.1,15.8 L435.8,18.9 L432.4,18.9 Z" fill="#ef8024"/>
<path d="M424.9,26.5 L426.6,29.6 L423.2,29.6 Z" fill="#ef8024"/>
<circle cx="435.0" cy="30.8" r="1.35" fill="#e0245c"/>
<path d="M417.0,37.7 L418.7,40.8 L415.3,40.8 Z" fill="#ef8024"/>
<circle cx="421.0" cy="40.0" r="1.35" fill="#e0245c"/>
<rect x="425.8" y="41.5" width="2.6" height="2.6" fill="#1b4a84"/>
<path d="M429.2,42.8 L430.9,45.9 L427.5,45.9 Z" fill="#ef8024"/>
<path d="M436.9,41.2 L438.6,44.3 L435.2,44.3 Z" fill="#ef8024"/>
<rect x="415.7" y="44.8" width="2.6" height="2.6" fill="#1b4a84"/>
<path d="M417.8,44.9 L419.5,48.0 L416.1,48.0 Z" fill="#ef8024"/>
<circle cx="426.2" cy="47.7" r="1.35" fill="#e0245c"/>
<path d="M401.4,48.3 L403.1,51.4 L399.7,51.4 Z" fill="#ef8024"/>
<path d="M406.3,48.8 L408.0,51.9 L404.6,51.9 Z" fill="#ef8024"/>
<path d="M418.2,49.5 L419.9,52.6 L416.5,52.6 Z" fill="#ef8024"/>
<circle cx="424.6" cy="52.9" r="1.35" fill="#e0245c"/>
<circle cx="430.7" cy="52.6" r="1.35" fill="#e0245c"/>
<circle cx="415.1" cy="54.7" r="1.35" fill="#e0245c"/>
<path d="M394.9,53.2 L396.6,56.3 L393.2,56.3 Z" fill="#ef8024"/>
<path d="M426.2,54.7 L427.9,57.8 L424.5,57.8 Z" fill="#ef8024"/>
<circle cx="412.1" cy="57.8" r="1.35" fill="#e0245c"/>
<circle cx="433.1" cy="57.8" r="1.35" fill="#e0245c"/>
<path d="M438.4,55.6 L440.1,58.7 L436.7,58.7 Z" fill="#ef8024"/>
<circle cx="392.5" cy="58.8" r="1.35" fill="#e0245c"/>
<rect x="416.3" y="57.7" width="2.6" height="2.6" fill="#1b4a84"/>
<path d="M442.6,13.0 L444.3,16.1 L440.9,16.1 Z" fill="#ef8024"/>
<path d="M455.1,19.4 L456.8,22.5 L453.4,22.5 Z" fill="#ef8024"/>
<path d="M442.9,26.1 L444.6,29.2 L441.2,29.2 Z" fill="#ef8024"/>
<circle cx="447.5" cy="31.7" r="1.35" fill="#e0245c"/>
<path d="M450.2,32.8 L451.9,35.9 L448.5,35.9 Z" fill="#ef8024"/>
<path d="M464.5,31.4 L466.2,34.5 L462.8,34.5 Z" fill="#ef8024"/>
<rect x="444.6" y="34.8" width="2.6" height="2.6" fill="#1b4a84"/>
<circle cx="446.3" cy="37.9" r="1.35" fill="#e0245c"/>
<path d="M462.2,34.1 L463.9,37.2 L460.5,37.2 Z" fill="#ef8024"/>
<path d="M461.2,37.7 L462.9,40.8 L459.5,40.8 Z" fill="#ef8024"/>
<circle cx="460.0" cy="40.9" r="1.35" fill="#e0245c"/>
<circle cx="448.1" cy="41.2" r="1.35" fill="#e0245c"/>
<path d="M452.7,42.4 L454.4,45.5 L451.0,45.5 Z" fill="#ef8024"/>
<circle cx="460.4" cy="44.3" r="1.35" fill="#e0245c"/>
<path d="M449.6,45.5 L451.3,48.6 L447.9,48.6 Z" fill="#ef8024"/>
<circle cx="462.5" cy="47.6" r="1.35" fill="#e0245c"/>
<path d="M454.9,47.1 L456.6,50.2 L453.2,50.2 Z" fill="#ef8024"/>
<path d="M460.6,49.4 L462.3,52.5 L458.9,52.5 Z" fill="#ef8024"/>
<path d="M439.8,54.7 L441.5,57.8 L438.1,57.8 Z" fill="#ef8024"/>
<path d="M448.6,55.3 L450.3,58.4 L446.9,58.4 Z" fill="#ef8024"/>
<rect x="490.9" y="30.1" width="2.6" height="2.6" fill="#1b4a84"/>
<circle cx="496.8" cy="33.9" r="1.35" fill="#e0245c"/>
<circle cx="504.1" cy="44.7" r="1.35" fill="#e0245c"/>
<path d="M489.4,52.8 L491.1,55.9 L487.7,55.9 Z" fill="#ef8024"/>
<circle cx="418.8" cy="62.6" r="1.35" fill="#e0245c"/>
<path d="M422.5,60.7 L424.2,63.8 L420.8,63.8 Z" fill="#ef8024"/>
<path d="M423.1,63.9 L424.8,67.0 L421.4,67.0 Z" fill="#ef8024"/>
<circle cx="428.6" cy="63.9" r="1.35" fill="#e0245c"/>
<rect x="372.8" y="65.1" width="2.6" height="2.6" fill="#1b4a84"/>
<rect x="378.5" y="66.6" width="2.6" height="2.6" fill="#1b4a84"/>
<rect x="385.7" y="65.7" width="2.6" height="2.6" fill="#1b4a84"/>
<rect x="387.1" y="64.1" width="2.6" height="2.6" fill="#1b4a84"/>
<rect x="389.6" y="65.6" width="2.6" height="2.6" fill="#1b4a84"/>
<rect x="393.0" y="65.0" width="2.6" height="2.6" fill="#1b4a84"/>
<circle cx="395.5" cy="64.6" r="1.35" fill="#e0245c"/>
<circle cx="399.4" cy="65.0" r="1.35" fill="#e0245c"/>
<path d="M404.7,63.9 L406.4,67.0 L403.0,67.0 Z" fill="#ef8024"/>
<circle cx="403.5" cy="68.1" r="1.35" fill="#e0245c"/>
<path d="M405.3,67.4 L407.0,70.5 L403.6,70.5 Z" fill="#ef8024"/>
<path d="M410.5,65.4 L412.2,68.5 L408.8,68.5 Z" fill="#ef8024"/>
<rect x="414.7" y="66.3" width="2.6" height="2.6" fill="#1b4a84"/>
<circle cx="433.5" cy="70.7" r="1.35" fill="#e0245c"/>
<path d="M377.8,70.0 L379.5,73.1 L376.1,73.1 Z" fill="#ef8024"/>
<rect x="379.8" y="72.7" width="2.6" height="2.6" fill="#1b4a84"/>
<rect x="381.0" y="73.1" width="2.6" height="2.6" fill="#1b4a84"/>
<rect x="389.9" y="70.9" width="2.6" height="2.6" fill="#1b4a84"/>
<rect x="393.6" y="68.8" width="2.6" height="2.6" fill="#1b4a84"/>
<circle cx="400.2" cy="70.9" r="1.35" fill="#e0245c"/>
<circle cx="386.0" cy="77.3" r="1.35" fill="#e0245c"/>
<circle cx="394.9" cy="76.1" r="1.35" fill="#e0245c"/>
<circle cx="393.7" cy="77.1" r="1.35" fill="#e0245c"/>
<path d="M417.0,72.5 L418.7,75.6 L415.3,75.6 Z" fill="#ef8024"/>
<path d="M417.3,75.2 L419.0,78.3 L415.6,78.3 Z" fill="#ef8024"/>
<path d="M394.3,77.8 L396.0,80.9 L392.6,80.9 Z" fill="#ef8024"/>
<path d="M392.1,80.3 L393.8,83.4 L390.4,83.4 Z" fill="#ef8024"/>
<rect x="389.6" y="80.0" width="2.6" height="2.6" fill="#1b4a84"/>
<rect x="387.1" y="81.6" width="2.6" height="2.6" fill="#1b4a84"/>
<circle cx="385.1" cy="84.4" r="1.35" fill="#e0245c"/>
<rect x="413.6" y="79.2" width="2.6" height="2.6" fill="#1b4a84"/>
<circle cx="418.2" cy="79.7" r="1.35" fill="#e0245c"/>
<rect x="400.1" y="80.9" width="2.6" height="2.6" fill="#1b4a84"/>
<rect x="374.6" y="85.3" width="2.6" height="2.6" fill="#1b4a84"/>
<rect x="375.9" y="87.4" width="2.6" height="2.6" fill="#1b4a84"/>
<rect x="378.9" y="84.9" width="2.6" height="2.6" fill="#1b4a84"/>
<rect x="383.0" y="87.8" width="2.6" height="2.6" fill="#1b4a84"/>
<rect x="393.2" y="84.3" width="2.6" height="2.6" fill="#1b4a84"/>
<circle cx="402.3" cy="87.1" r="1.35" fill="#e0245c"/>
<rect x="404.3" y="84.9" width="2.6" height="2.6" fill="#1b4a84"/>
<path d="M388.8,88.0 L390.5,91.1 L387.1,91.1 Z" fill="#ef8024"/>
<circle cx="368.3" cy="92.0" r="1.35" fill="#e0245c"/>
<circle cx="379.8" cy="95.2" r="1.35" fill="#e0245c"/>
<path d="M415.7,90.8 L417.4,93.9 L414.0,93.9 Z" fill="#ef8024"/>
<circle cx="419.8" cy="90.8" r="1.35" fill="#e0245c"/>
<circle cx="390.0" cy="100.3" r="1.35" fill="#e0245c"/>
<circle cx="391.6" cy="101.9" r="1.35" fill="#e0245c"/>
<circle cx="379.8" cy="106.8" r="1.35" fill="#e0245c"/>
<circle cx="415.1" cy="107.4" r="1.35" fill="#e0245c"/>
<path d="M453.3,64.4 L455.0,67.5 L451.6,67.5 Z" fill="#ef8024"/>
<path d="M450.8,70.9 L452.5,74.0 L449.1,74.0 Z" fill="#ef8024"/>
<rect x="479.2" y="87.7" width="2.6" height="2.6" fill="#1b4a84"/>
<text x="484.8" y="91.4" font-size="7.0" text-anchor="start" fill="#484848" font-weight="normal"  textLength="15.5" lengthAdjust="spacingAndGlyphs">Rep 1</text>
<circle cx="480.5" cy="96.1" r="1.35" fill="#e0245c"/>
<text x="484.8" y="98.5" font-size="7.0" text-anchor="start" fill="#484848" font-weight="normal"  textLength="15.5" lengthAdjust="spacingAndGlyphs">Rep 2</text>
<path d="M480.5,101.3 L482.2,104.4 L478.8,104.4 Z" fill="#ef8024"/>
<text x="484.8" y="105.6" font-size="7.0" text-anchor="start" fill="#484848" font-weight="normal"  textLength="15.5" lengthAdjust="spacingAndGlyphs">Rep 3</text>
<text x="331.0" y="154.2" font-size="9.5" text-anchor="start" fill="#484848" font-weight="normal" >ii</text>
<path d="M361.7,149.2 L508.2,149.2 L508.2,249.0 L361.7,249.0 Z" fill="none" stroke="#8c8c8c" stroke-width="0.9"/>
<path d="M358.2,162.6 L361.7,162.6" stroke="#8c8c8c" stroke-width="0.8"/>
<text x="354.7" y="165.0" font-size="6.9" text-anchor="end" fill="#484848" font-weight="normal"  textLength="14.2" lengthAdjust="spacingAndGlyphs">0.20</text>
<path d="M358.2,184.0 L361.7,184.0" stroke="#8c8c8c" stroke-width="0.8"/>
<text x="354.7" y="186.4" font-size="6.9" text-anchor="end" fill="#484848" font-weight="normal"  textLength="14.2" lengthAdjust="spacingAndGlyphs">0.10</text>
<path d="M358.2,205.4 L361.7,205.4" stroke="#8c8c8c" stroke-width="0.8"/>
<text x="354.7" y="207.8" font-size="6.9" text-anchor="end" fill="#484848" font-weight="normal"  textLength="14.2" lengthAdjust="spacingAndGlyphs">0.00</text>
<path d="M358.2,226.8 L361.7,226.8" stroke="#8c8c8c" stroke-width="0.8"/>
<text x="354.7" y="229.2" font-size="6.9" text-anchor="end" fill="#484848" font-weight="normal"  textLength="17.6" lengthAdjust="spacingAndGlyphs">−0.10</text>
<path d="M358.2,248.2 L361.7,248.2" stroke="#8c8c8c" stroke-width="0.8"/>
<text x="354.7" y="250.6" font-size="6.9" text-anchor="end" fill="#484848" font-weight="normal"  textLength="17.6" lengthAdjust="spacingAndGlyphs">−0.20</text>
<path d="M368.1,249.0 L368.1,252.3" stroke="#8c8c8c" stroke-width="0.8"/>
<text x="368.1" y="262.1" font-size="6.9" text-anchor="middle" fill="#484848" font-weight="normal"  textLength="15.8" lengthAdjust="spacingAndGlyphs">−0.14</text>
<path d="M387.7,249.0 L387.7,252.3" stroke="#8c8c8c" stroke-width="0.8"/>
<text x="387.7" y="262.1" font-size="6.9" text-anchor="middle" fill="#484848" font-weight="normal"  textLength="15.8" lengthAdjust="spacingAndGlyphs">−0.12</text>
<path d="M407.3,249.0 L407.3,252.3" stroke="#8c8c8c" stroke-width="0.8"/>
<text x="407.3" y="262.1" font-size="6.9" text-anchor="middle" fill="#484848" font-weight="normal"  textLength="15.8" lengthAdjust="spacingAndGlyphs">−0.10</text>
<path d="M426.9,249.0 L426.9,252.3" stroke="#8c8c8c" stroke-width="0.8"/>
<text x="426.9" y="262.1" font-size="6.9" text-anchor="middle" fill="#484848" font-weight="normal"  textLength="15.8" lengthAdjust="spacingAndGlyphs">−0.08</text>
<path d="M446.5,249.0 L446.5,252.3" stroke="#8c8c8c" stroke-width="0.8"/>
<text x="446.5" y="262.1" font-size="6.9" text-anchor="middle" fill="#484848" font-weight="normal"  textLength="15.8" lengthAdjust="spacingAndGlyphs">−0.06</text>
<path d="M466.2,249.0 L466.2,252.3" stroke="#8c8c8c" stroke-width="0.8"/>
<text x="466.2" y="262.1" font-size="6.9" text-anchor="middle" fill="#484848" font-weight="normal"  textLength="15.8" lengthAdjust="spacingAndGlyphs">−0.04</text>
<path d="M485.8,249.0 L485.8,252.3" stroke="#8c8c8c" stroke-width="0.8"/>
<text x="485.8" y="262.1" font-size="6.9" text-anchor="middle" fill="#484848" font-weight="normal"  textLength="15.8" lengthAdjust="spacingAndGlyphs">−0.02</text>
<path d="M505.4,249.0 L505.4,252.3" stroke="#8c8c8c" stroke-width="0.8"/>
<text x="505.4" y="262.1" font-size="6.9" text-anchor="middle" fill="#484848" font-weight="normal"  textLength="12.8" lengthAdjust="spacingAndGlyphs">0.00</text>
<text x="434.4" y="272.2" font-size="6.9" text-anchor="middle" fill="#484848" font-weight="normal"  textLength="12" lengthAdjust="spacingAndGlyphs">PC1</text>
<text x="0.0" y="0.0" font-size="6.8" text-anchor="middle" fill="#484848" font-weight="normal" transform="translate(330.5,195) rotate(-90)">PC2</text>
<path d="M432.5,153.9 L434.2,157.0 L430.8,157.0 Z" fill="#f6b57a"/>
<path d="M423.1,164.6 L424.8,167.7 L421.4,167.7 Z" fill="#f6b57a"/>
<circle cx="433.4" cy="168.9" r="1.35" fill="#e0245c"/>
<path d="M415.1,175.8 L416.8,178.9 L413.4,178.9 Z" fill="#f6b57a"/>
<circle cx="419.2" cy="178.1" r="1.35" fill="#f27ea2"/>
<rect x="424.1" y="179.6" width="2.6" height="2.6" fill="#6aa7b6"/>
<path d="M427.5,180.9 L429.2,184.0 L425.8,184.0 Z" fill="#f6b57a"/>
<path d="M435.3,179.3 L437.0,182.4 L433.6,182.4 Z" fill="#f6b57a"/>
<rect x="413.8" y="182.9" width="2.6" height="2.6" fill="#6aa7b6"/>
<path d="M415.9,183.0 L417.6,186.1 L414.2,186.1 Z" fill="#ef8024"/>
<circle cx="424.4" cy="185.8" r="1.35" fill="#e0245c"/>
<path d="M399.3,186.4 L401.0,189.5 L397.6,189.5 Z" fill="#ef8024"/>
<path d="M404.3,186.9 L406.0,190.0 L402.6,190.0 Z" fill="#f6b57a"/>
<path d="M416.3,187.6 L418.0,190.7 L414.6,190.7 Z" fill="#f6b57a"/>
<circle cx="422.8" cy="191.0" r="1.35" fill="#f27ea2"/>
<circle cx="429.0" cy="190.7" r="1.35" fill="#f27ea2"/>
<circle cx="413.2" cy="192.8" r="1.35" fill="#f27ea2"/>
<path d="M392.7,191.3 L394.4,194.4 L391.0,194.4 Z" fill="#ef8024"/>
<path d="M424.4,192.8 L426.1,195.9 L422.7,195.9 Z" fill="#f6b57a"/>
<circle cx="410.2" cy="195.9" r="1.35" fill="#f27ea2"/>
<circle cx="431.4" cy="195.9" r="1.35" fill="#f27ea2"/>
<path d="M436.8,193.7 L438.5,196.8 L435.1,196.8 Z" fill="#f6b57a"/>
<circle cx="390.3" cy="196.9" r="1.35" fill="#f27ea2"/>
<rect x="414.4" y="195.8" width="2.6" height="2.6" fill="#1b4a84"/>
<path d="M441.1,151.1 L442.8,154.2 L439.4,154.2 Z" fill="#f6b57a"/>
<path d="M453.7,157.5 L455.4,160.6 L452.0,160.6 Z" fill="#f6b57a"/>
<path d="M441.4,164.2 L443.1,167.3 L439.7,167.3 Z" fill="#f6b57a"/>
<circle cx="446.0" cy="169.8" r="1.35" fill="#f27ea2"/>
<path d="M448.8,170.9 L450.5,174.0 L447.1,174.0 Z" fill="#f6b57a"/>
<path d="M463.3,169.5 L465.0,172.6 L461.6,172.6 Z" fill="#f6b57a"/>
<rect x="443.1" y="172.9" width="2.6" height="2.6" fill="#6aa7b6"/>
<circle cx="444.8" cy="176.0" r="1.35" fill="#f27ea2"/>
<path d="M460.9,172.2 L462.6,175.3 L459.2,175.3 Z" fill="#f6b57a"/>
<path d="M459.9,175.8 L461.6,178.9 L458.2,178.9 Z" fill="#ef8024"/>
<circle cx="458.7" cy="179.0" r="1.35" fill="#f27ea2"/>
<circle cx="446.6" cy="179.3" r="1.35" fill="#f27ea2"/>
<path d="M451.3,180.5 L453.0,183.6 L449.6,183.6 Z" fill="#f6b57a"/>
<circle cx="459.1" cy="182.4" r="1.35" fill="#f27ea2"/>
<path d="M448.2,183.6 L449.9,186.7 L446.5,186.7 Z" fill="#f6b57a"/>
<circle cx="461.2" cy="185.7" r="1.35" fill="#f27ea2"/>
<path d="M453.5,185.2 L455.2,188.3 L451.8,188.3 Z" fill="#ef8024"/>
<path d="M459.3,187.5 L461.0,190.6 L457.6,190.6 Z" fill="#f6b57a"/>
<path d="M438.2,192.8 L439.9,195.9 L436.5,195.9 Z" fill="#f6b57a"/>
<path d="M447.1,193.4 L448.8,196.5 L445.4,196.5 Z" fill="#f6b57a"/>
<rect x="490.0" y="168.2" width="2.6" height="2.6" fill="#6aa7b6"/>
<circle cx="496.0" cy="172.0" r="1.35" fill="#f27ea2"/>
<circle cx="503.4" cy="182.8" r="1.35" fill="#f27ea2"/>
<path d="M488.5,190.9 L490.2,194.0 L486.8,194.0 Z" fill="#ef8024"/>
<circle cx="416.9" cy="200.7" r="1.35" fill="#f27ea2"/>
<path d="M420.7,198.8 L422.4,201.9 L419.0,201.9 Z" fill="#ef8024"/>
<path d="M421.3,202.0 L423.0,205.1 L419.6,205.1 Z" fill="#f6b57a"/>
<circle cx="426.9" cy="202.0" r="1.35" fill="#f27ea2"/>
<rect x="370.3" y="203.2" width="2.6" height="2.6" fill="#1b4a84"/>
<rect x="376.1" y="204.7" width="2.6" height="2.6" fill="#1b4a84"/>
<rect x="383.4" y="203.8" width="2.6" height="2.6" fill="#1b4a84"/>
<rect x="384.8" y="202.2" width="2.6" height="2.6" fill="#1b4a84"/>
<rect x="387.4" y="203.7" width="2.6" height="2.6" fill="#1b4a84"/>
<rect x="390.8" y="203.1" width="2.6" height="2.6" fill="#1b4a84"/>
<circle cx="393.3" cy="202.7" r="1.35" fill="#e0245c"/>
<circle cx="397.3" cy="203.1" r="1.35" fill="#e0245c"/>
<path d="M402.7,202.0 L404.4,205.1 L401.0,205.1 Z" fill="#ef8024"/>
<circle cx="401.4" cy="206.2" r="1.35" fill="#e0245c"/>
<path d="M403.3,205.5 L405.0,208.6 L401.6,208.6 Z" fill="#ef8024"/>
<path d="M408.5,203.5 L410.2,206.6 L406.8,206.6 Z" fill="#f6b57a"/>
<rect x="412.8" y="204.4" width="2.6" height="2.6" fill="#6aa7b6"/>
<circle cx="431.8" cy="208.8" r="1.35" fill="#f27ea2"/>
<path d="M375.4,208.1 L377.1,211.2 L373.7,211.2 Z" fill="#ef8024"/>
<rect x="377.4" y="210.8" width="2.6" height="2.6" fill="#1b4a84"/>
<rect x="378.7" y="211.2" width="2.6" height="2.6" fill="#6aa7b6"/>
<rect x="387.7" y="209.0" width="2.6" height="2.6" fill="#1b4a84"/>
<rect x="391.4" y="206.9" width="2.6" height="2.6" fill="#1b4a84"/>
<circle cx="398.1" cy="209.0" r="1.35" fill="#e0245c"/>
<circle cx="383.7" cy="215.4" r="1.35" fill="#e0245c"/>
<circle cx="392.7" cy="214.2" r="1.35" fill="#f27ea2"/>
<circle cx="391.5" cy="215.2" r="1.35" fill="#e0245c"/>
<path d="M415.1,210.6 L416.8,213.7 L413.4,213.7 Z" fill="#f6b57a"/>
<path d="M415.4,213.3 L417.1,216.4 L413.7,216.4 Z" fill="#f6b57a"/>
<path d="M392.1,215.9 L393.8,219.0 L390.4,219.0 Z" fill="#ef8024"/>
<path d="M389.9,218.4 L391.6,221.5 L388.2,221.5 Z" fill="#ef8024"/>
<rect x="387.4" y="218.1" width="2.6" height="2.6" fill="#1b4a84"/>
<rect x="384.8" y="219.7" width="2.6" height="2.6" fill="#1b4a84"/>
<circle cx="382.8" cy="222.5" r="1.35" fill="#e0245c"/>
<rect x="411.7" y="217.3" width="2.6" height="2.6" fill="#6aa7b6"/>
<circle cx="416.3" cy="217.8" r="1.35" fill="#f27ea2"/>
<rect x="398.0" y="219.0" width="2.6" height="2.6" fill="#1b4a84"/>
<rect x="372.2" y="223.4" width="2.6" height="2.6" fill="#1b4a84"/>
<rect x="373.5" y="225.5" width="2.6" height="2.6" fill="#1b4a84"/>
<rect x="376.5" y="223.0" width="2.6" height="2.6" fill="#1b4a84"/>
<rect x="380.7" y="225.9" width="2.6" height="2.6" fill="#1b4a84"/>
<rect x="391.0" y="222.4" width="2.6" height="2.6" fill="#6aa7b6"/>
<circle cx="400.2" cy="225.2" r="1.35" fill="#e0245c"/>
<rect x="402.3" y="223.0" width="2.6" height="2.6" fill="#1b4a84"/>
<path d="M386.5,226.1 L388.2,229.2 L384.8,229.2 Z" fill="#ef8024"/>
<circle cx="365.8" cy="230.1" r="1.35" fill="#f27ea2"/>
<circle cx="377.4" cy="233.3" r="1.35" fill="#e0245c"/>
<path d="M413.8,228.9 L415.5,232.0 L412.1,232.0 Z" fill="#f6b57a"/>
<circle cx="418.0" cy="228.9" r="1.35" fill="#f27ea2"/>
<circle cx="387.8" cy="238.4" r="1.35" fill="#e0245c"/>
<circle cx="389.4" cy="240.0" r="1.35" fill="#e0245c"/>
<circle cx="377.4" cy="244.9" r="1.35" fill="#e0245c"/>
<circle cx="413.2" cy="245.5" r="1.35" fill="#f27ea2"/>
<path d="M451.9,202.5 L453.6,205.6 L450.2,205.6 Z" fill="#f6b57a"/>
<path d="M449.4,209.0 L451.1,212.1 L447.7,212.1 Z" fill="#f6b57a"/>
<circle cx="503.8" cy="201.9" r="1.35" fill="#f27ea2"/>
<rect x="438.9" y="227.0" width="2.6" height="2.6" fill="#1b4a84"/>
<path d="M441.6,229.8 L444.2,226.5" stroke="#555" stroke-width="0.5"/>
<rect x="444.0" y="227.0" width="2.6" height="2.6" fill="#6aa7b6"/>
<text x="450.8" y="230.5" font-size="6.6" text-anchor="start" fill="#484848" font-weight="normal"  textLength="45.2" lengthAdjust="spacingAndGlyphs">Rep 1 - PT / LO</text>
<circle cx="440.2" cy="234.7" r="1.35" fill="#e0245c"/>
<path d="M441.6,236.2 L444.2,232.9" stroke="#555" stroke-width="0.5"/>
<circle cx="445.3" cy="234.7" r="1.35" fill="#f27ea2"/>
<text x="450.8" y="236.9" font-size="6.6" text-anchor="start" fill="#484848" font-weight="normal"  textLength="45.2" lengthAdjust="spacingAndGlyphs">Rep 2 - PT / LO</text>
<path d="M440.2,239.2 L441.9,242.3 L438.5,242.3 Z" fill="#ef8024"/>
<path d="M441.6,242.6 L444.2,239.3" stroke="#555" stroke-width="0.5"/>
<path d="M445.3,239.2 L447.0,242.3 L443.6,242.3 Z" fill="#f6b57a"/>
<text x="450.8" y="243.3" font-size="6.6" text-anchor="start" fill="#484848" font-weight="normal"  textLength="45.2" lengthAdjust="spacingAndGlyphs">Rep 3 - PT / LO</text>
<path d="M447,292.3 L447,349.7" stroke="#8c8c8c" stroke-width="0.8"/>
<path d="M443.6,292.3 L447,292.3" stroke="#8c8c8c" stroke-width="0.8"/>
<text x="439.8" y="295.5" font-size="8.9" text-anchor="end" fill="#484848" font-weight="normal" >8</text>
<path d="M443.6,306.3 L447,306.3" stroke="#8c8c8c" stroke-width="0.8"/>
<path d="M443.6,321 L447,321" stroke="#8c8c8c" stroke-width="0.8"/>
<text x="439.8" y="324.2" font-size="8.9" text-anchor="end" fill="#484848" font-weight="normal" >4</text>
<path d="M443.6,335.4 L447,335.4" stroke="#8c8c8c" stroke-width="0.8"/>
<path d="M443.6,349.7 L447,349.7" stroke="#8c8c8c" stroke-width="0.8"/>
<text x="439.8" y="352.9" font-size="8.9" text-anchor="end" fill="#484848" font-weight="normal" >0</text>
<text x="0.0" y="0.0" font-size="8.9" text-anchor="middle" fill="#484848" font-weight="normal" transform="translate(411.0,323) rotate(-90)" textLength="68" lengthAdjust="spacingAndGlyphs">Number of genes</text>
<text x="0.0" y="0.0" font-size="8.9" text-anchor="middle" fill="#484848" font-weight="normal" transform="translate(422.8,323) rotate(-90)" textLength="45.4" lengthAdjust="spacingAndGlyphs">per spot (k)</text>
<path d="M452,328.2 L597,328.2" stroke="#c4c4c4" stroke-width="0.6"/>
<polygon points="475.15,300.00 475.15,300.67 474.83,301.33 474.50,302.00 474.09,302.67 473.45,303.34 472.58,304.00 471.64,304.67 470.70,305.34 469.76,306.01 468.82,306.67 468.04,307.34 467.60,308.01 467.36,308.68 467.12,309.34 466.89,310.01 466.66,310.68 466.43,311.35 466.24,312.01 466.14,312.68 466.09,313.35 466.03,314.02 465.97,314.68 465.91,315.35 465.86,316.02 465.84,316.69 465.92,317.35 466.03,318.02 466.15,318.69 466.26,319.36 466.38,320.02 466.31,320.69 465.84,321.36 465.18,322.02 464.51,322.69 463.84,323.36 463.17,324.03 462.57,324.69 462.10,325.36 461.70,326.03 461.30,326.70 460.90,327.36 460.50,328.03 460.30,328.70 460.49,329.37 460.88,330.03 461.27,330.70 461.66,331.37 462.05,332.04 462.44,332.70 462.83,333.37 463.26,334.04 463.76,334.71 464.29,335.37 464.81,336.04 465.34,336.71 465.87,337.38 466.40,338.04 466.93,338.71 467.45,339.38 467.98,340.04 468.51,340.71 469.05,341.38 469.58,342.05 470.12,342.71 470.66,343.38 471.20,344.05 471.71,344.72 472.16,345.38 472.58,346.05 473.00,346.72 473.42,347.39 473.83,348.05 474.17,348.72 474.35,349.39 474.42,350.06 474.48,350.72 474.55,351.39 474.61,352.06 474.68,352.73 474.75,353.39 474.83,354.06 474.92,354.73 475.00,355.40 475.08,356.06 475.15,356.73 475.15,357.40 475.15,358.07 475.15,358.73 475.15,359.40 475.85,359.40 475.85,358.73 475.85,358.07 475.85,357.40 475.85,356.73 475.92,356.06 476.00,355.40 476.08,354.73 476.17,354.06 476.25,353.39 476.32,352.73 476.39,352.06 476.45,351.39 476.52,350.72 476.58,350.06 476.65,349.39 476.83,348.72 477.17,348.05 477.58,347.39 478.00,346.72 478.42,346.05 478.84,345.38 479.29,344.72 479.80,344.05 480.34,343.38 480.88,342.71 481.42,342.05 481.95,341.38 482.49,340.71 483.02,340.04 483.55,339.38 484.07,338.71 484.60,338.04 485.13,337.38 485.66,336.71 486.19,336.04 486.71,335.37 487.24,334.71 487.74,334.04 488.17,333.37 488.56,332.70 488.95,332.04 489.34,331.37 489.73,330.70 490.12,330.03 490.51,329.37 490.70,328.70 490.50,328.03 490.10,327.36 489.70,326.70 489.30,326.03 488.90,325.36 488.43,324.69 487.83,324.03 487.16,323.36 486.49,322.69 485.82,322.02 485.16,321.36 484.69,320.69 484.62,320.02 484.74,319.36 484.85,318.69 484.97,318.02 485.08,317.35 485.16,316.69 485.14,316.02 485.09,315.35 485.03,314.68 484.97,314.02 484.91,313.35 484.86,312.68 484.76,312.01 484.57,311.35 484.34,310.68 484.11,310.01 483.88,309.34 483.64,308.68 483.40,308.01 482.96,307.34 482.18,306.67 481.24,306.01 480.30,305.34 479.36,304.67 478.42,304.00 477.55,303.34 476.91,302.67 476.50,302.00 476.17,301.33 475.85,300.67 475.85,300.00" fill="#c8c6de" stroke="#222" stroke-width="0.6" stroke-linejoin="round"/>
<rect x="471.7" y="311.40" width="8.0" height="1.20" fill="#000"/>
<rect x="471.7" y="312.90" width="8.0" height="2.20" fill="#000"/>
<rect x="471.7" y="315.40" width="8.0" height="1.60" fill="#000"/>
<rect x="471.7" y="317.30" width="8.0" height="0.90" fill="#000"/>
<rect x="471.7" y="318.50" width="8.0" height="0.90" fill="#000"/>
<rect x="471.7" y="319.70" width="8.0" height="1.20" fill="#000"/>
<rect x="471.7" y="321.20" width="8.0" height="0.90" fill="#000"/>
<rect x="471.7" y="322.60" width="8.0" height="0.10" fill="#000"/>
<rect x="471.7" y="325.00" width="8.0" height="2.20" fill="#000"/>
<rect x="471.7" y="327.50" width="8.0" height="0.90" fill="#000"/>
<rect x="471.7" y="329.20" width="8.0" height="1.20" fill="#000"/>
<rect x="471.7" y="330.90" width="8.0" height="1.60" fill="#000"/>
<rect x="471.7" y="333.30" width="8.0" height="0.90" fill="#000"/>
<rect x="471.7" y="334.50" width="8.0" height="0.90" fill="#000"/>
<rect x="471.7" y="336.20" width="8.0" height="1.20" fill="#000"/>
<rect x="471.7" y="337.90" width="8.0" height="1.20" fill="#000"/>
<rect x="471.7" y="339.60" width="8.0" height="0.90" fill="#000"/>
<rect x="471.7" y="344.60" width="8.0" height="1.60" fill="#000"/>
<rect x="471.7" y="346.70" width="8.0" height="0.90" fill="#000"/>
<rect x="471.7" y="348.40" width="8.0" height="0.20" fill="#000"/>
<polygon points="521.65,297.30 521.65,297.95 521.65,298.61 521.65,299.26 521.56,299.91 521.44,300.56 521.33,301.22 521.23,301.87 521.16,302.52 521.11,303.18 521.06,303.83 521.02,304.48 520.97,305.13 520.92,305.79 520.87,306.44 520.80,307.09 520.68,307.74 520.49,308.40 520.29,309.05 520.05,309.70 519.70,310.36 519.24,311.01 518.71,311.66 518.04,312.31 517.24,312.97 516.39,313.62 515.55,314.27 514.70,314.93 513.85,315.58 513.00,316.23 512.14,316.88 511.25,317.54 510.33,318.19 509.42,318.84 508.51,319.50 507.59,320.15 506.68,320.80 505.79,321.45 505.07,322.11 504.62,322.76 504.29,323.41 503.97,324.07 503.64,324.72 503.32,325.37 503.19,326.02 503.42,326.68 503.83,327.33 504.24,327.98 504.65,328.63 505.05,329.29 505.50,329.94 506.02,330.59 506.59,331.25 507.16,331.90 507.73,332.55 508.30,333.20 508.86,333.86 509.39,334.51 509.90,335.16 510.41,335.82 510.92,336.47 511.43,337.12 511.94,337.77 512.43,338.43 512.91,339.08 513.38,339.73 513.85,340.39 514.31,341.04 514.78,341.69 515.25,342.34 515.71,343.00 516.19,343.65 516.67,344.30 517.15,344.96 517.64,345.61 518.12,346.26 518.60,346.91 519.09,347.57 519.56,348.22 519.97,348.87 520.27,349.52 520.52,350.18 520.76,350.83 521.00,351.48 521.21,352.14 521.39,352.79 521.54,353.44 521.65,354.09 521.65,354.75 521.65,355.40 522.35,355.40 522.35,354.75 522.35,354.09 522.46,353.44 522.61,352.79 522.79,352.14 523.00,351.48 523.24,350.83 523.48,350.18 523.73,349.52 524.03,348.87 524.44,348.22 524.91,347.57 525.40,346.91 525.88,346.26 526.36,345.61 526.85,344.96 527.33,344.30 527.81,343.65 528.29,343.00 528.75,342.34 529.22,341.69 529.69,341.04 530.15,340.39 530.62,339.73 531.09,339.08 531.57,338.43 532.06,337.77 532.57,337.12 533.08,336.47 533.59,335.82 534.10,335.16 534.61,334.51 535.14,333.86 535.70,333.20 536.27,332.55 536.84,331.90 537.41,331.25 537.98,330.59 538.50,329.94 538.95,329.29 539.35,328.63 539.76,327.98 540.17,327.33 540.58,326.68 540.81,326.02 540.68,325.37 540.36,324.72 540.03,324.07 539.71,323.41 539.38,322.76 538.93,322.11 538.21,321.45 537.32,320.80 536.41,320.15 535.49,319.50 534.58,318.84 533.67,318.19 532.75,317.54 531.86,316.88 531.00,316.23 530.15,315.58 529.30,314.93 528.45,314.27 527.61,313.62 526.76,312.97 525.96,312.31 525.29,311.66 524.76,311.01 524.30,310.36 523.95,309.70 523.71,309.05 523.51,308.40 523.32,307.74 523.20,307.09 523.13,306.44 523.08,305.79 523.03,305.13 522.98,304.48 522.94,303.83 522.89,303.18 522.84,302.52 522.77,301.87 522.67,301.22 522.56,300.56 522.44,299.91 522.35,299.26 522.35,298.61 522.35,297.95 522.35,297.30" fill="#8a91a8" stroke="#222" stroke-width="0.6" stroke-linejoin="round"/>
<rect x="517.8" y="318.00" width="8.0" height="0.90" fill="#000"/>
<rect x="517.8" y="319.40" width="8.0" height="0.90" fill="#000"/>
<rect x="517.8" y="320.80" width="8.0" height="0.90" fill="#000"/>
<rect x="517.8" y="322.00" width="8.0" height="1.60" fill="#000"/>
<rect x="517.8" y="323.90" width="8.0" height="1.20" fill="#000"/>
<rect x="517.8" y="325.40" width="8.0" height="1.20" fill="#000"/>
<rect x="517.8" y="327.10" width="8.0" height="1.20" fill="#000"/>
<rect x="517.8" y="328.60" width="8.0" height="1.20" fill="#000"/>
<rect x="517.8" y="330.30" width="8.0" height="0.90" fill="#000"/>
<rect x="517.8" y="331.50" width="8.0" height="1.60" fill="#000"/>
<rect x="517.8" y="333.40" width="8.0" height="0.90" fill="#000"/>
<rect x="517.8" y="334.80" width="8.0" height="1.60" fill="#000"/>
<rect x="517.8" y="336.70" width="8.0" height="1.20" fill="#000"/>
<rect x="517.8" y="338.70" width="8.0" height="1.20" fill="#000"/>
<rect x="517.8" y="340.40" width="8.0" height="1.60" fill="#000"/>
<rect x="517.8" y="342.50" width="8.0" height="0.90" fill="#000"/>
<path d="M518.4,308.7 L525.6,308.7" stroke="#111" stroke-width="0.6"/>
<polygon points="568.25,290.00 568.25,290.78 568.25,291.56 568.25,292.34 568.25,293.12 568.21,293.90 568.13,294.68 568.06,295.46 567.99,296.24 567.93,297.02 567.88,297.80 567.83,298.58 567.78,299.36 567.72,300.14 567.67,300.92 567.62,301.70 567.58,302.48 567.54,303.26 567.50,304.04 567.46,304.82 567.42,305.60 567.38,306.38 567.34,307.16 567.12,307.93 566.50,308.71 565.72,309.49 565.17,310.27 564.92,311.05 564.79,311.83 564.67,312.61 564.54,313.39 564.34,314.17 563.95,314.95 563.44,315.73 562.93,316.51 562.41,317.29 561.89,318.07 561.37,318.85 560.82,319.63 560.20,320.41 559.51,321.19 558.79,321.97 558.08,322.75 557.36,323.53 556.65,324.31 555.93,325.09 555.31,325.87 554.87,326.65 554.55,327.43 554.26,328.21 553.96,328.99 553.66,329.77 553.36,330.55 553.19,331.33 553.32,332.11 553.65,332.89 554.01,333.67 554.38,334.45 554.74,335.23 555.15,336.01 555.66,336.79 556.22,337.57 556.78,338.35 557.33,339.13 557.89,339.91 558.45,340.69 559.00,341.47 559.59,342.24 560.24,343.02 560.92,343.80 561.60,344.58 562.29,345.36 562.97,346.14 563.66,346.92 564.30,347.70 564.86,348.48 565.33,349.26 565.79,350.04 566.24,350.82 566.69,351.60 567.05,352.38 567.28,353.16 567.45,353.94 567.61,354.72 567.78,355.50 567.94,356.28 568.11,357.06 568.25,357.84 568.25,358.62 568.25,359.40 568.95,359.40 568.95,358.62 568.95,357.84 569.09,357.06 569.26,356.28 569.42,355.50 569.59,354.72 569.75,353.94 569.92,353.16 570.15,352.38 570.51,351.60 570.96,350.82 571.41,350.04 571.87,349.26 572.34,348.48 572.90,347.70 573.54,346.92 574.23,346.14 574.91,345.36 575.60,344.58 576.28,343.80 576.96,343.02 577.61,342.24 578.20,341.47 578.75,340.69 579.31,339.91 579.87,339.13 580.42,338.35 580.98,337.57 581.54,336.79 582.05,336.01 582.46,335.23 582.82,334.45 583.19,333.67 583.55,332.89 583.88,332.11 584.01,331.33 583.84,330.55 583.54,329.77 583.24,328.99 582.94,328.21 582.65,327.43 582.33,326.65 581.89,325.87 581.27,325.09 580.55,324.31 579.84,323.53 579.12,322.75 578.41,321.97 577.69,321.19 577.00,320.41 576.38,319.63 575.83,318.85 575.31,318.07 574.79,317.29 574.27,316.51 573.76,315.73 573.25,314.95 572.86,314.17 572.66,313.39 572.53,312.61 572.41,311.83 572.28,311.05 572.03,310.27 571.48,309.49 570.70,308.71 570.08,307.93 569.86,307.16 569.82,306.38 569.78,305.60 569.74,304.82 569.70,304.04 569.66,303.26 569.62,302.48 569.58,301.70 569.53,300.92 569.48,300.14 569.42,299.36 569.37,298.58 569.32,297.80 569.27,297.02 569.21,296.24 569.14,295.46 569.07,294.68 568.99,293.90 568.95,293.12 568.95,292.34 568.95,291.56 568.95,290.78 568.95,290.00" fill="#d9b3a4" stroke="#222" stroke-width="0.6" stroke-linejoin="round"/>
<rect x="564.3" y="318.60" width="7.9" height="0.90" fill="#000"/>
<rect x="564.3" y="320.00" width="7.9" height="1.20" fill="#000"/>
<rect x="564.3" y="321.50" width="7.9" height="1.20" fill="#000"/>
<rect x="564.3" y="323.20" width="7.9" height="0.90" fill="#000"/>
<rect x="564.3" y="324.40" width="7.9" height="1.20" fill="#000"/>
<rect x="564.3" y="326.10" width="7.9" height="2.20" fill="#000"/>
<rect x="564.3" y="328.80" width="7.9" height="1.60" fill="#000"/>
<rect x="564.3" y="330.70" width="7.9" height="2.20" fill="#000"/>
<rect x="564.3" y="333.20" width="7.9" height="2.20" fill="#000"/>
<rect x="564.3" y="335.70" width="7.9" height="1.60" fill="#000"/>
<rect x="564.3" y="337.80" width="7.9" height="1.20" fill="#000"/>
<rect x="564.3" y="339.50" width="7.9" height="2.20" fill="#000"/>
<rect x="564.3" y="342.20" width="7.9" height="0.90" fill="#000"/>
<rect x="564.3" y="343.60" width="7.9" height="0.90" fill="#000"/>
<rect x="564.3" y="345.00" width="7.9" height="0.10" fill="#000"/>
<rect x="564.3" y="311.40" width="7.9" height="1.10" fill="#000"/>
<path d="M564.3,301.5 L572.3,301.5" stroke="#111" stroke-width="0.6"/>
<path d="M452,327.9 L497.6,327.9 M498.8,328.4 L545.4,328.4 M545,330.5 L591.5,330.5" stroke="#222" stroke-width="0.7"/>
<path d="M475.5,363.1 L568.6,363.1" stroke="#8c8c8c" stroke-width="0.8"/>
<path d="M475.5,363.1 L475.5,365.8" stroke="#8c8c8c" stroke-width="0.8"/>
<text x="475.5" y="376.8" font-size="8.9" text-anchor="middle" fill="#484848" font-weight="normal" >1</text>
<path d="M522.1,363.1 L522.1,365.8" stroke="#8c8c8c" stroke-width="0.8"/>
<text x="522.1" y="376.8" font-size="8.9" text-anchor="middle" fill="#484848" font-weight="normal" >2</text>
<path d="M568.6,363.1 L568.6,365.8" stroke="#8c8c8c" stroke-width="0.8"/>
<text x="568.6" y="376.8" font-size="8.9" text-anchor="middle" fill="#484848" font-weight="normal" >3</text>
<text x="522.1" y="390.3" font-size="8.9" text-anchor="middle" fill="#484848" font-weight="normal"  textLength="35.8" lengthAdjust="spacingAndGlyphs">Replicate</text>
<path d="M446.5,426.7 L446.5,479.2" stroke="#8c8c8c" stroke-width="0.8"/>
<path d="M443.1,426.7 L446.5,426.7" stroke="#8c8c8c" stroke-width="0.8"/>
<text x="439.3" y="429.9" font-size="8.9" text-anchor="end" fill="#484848" font-weight="normal" >30</text>
<path d="M443.1,443.9 L446.5,443.9" stroke="#8c8c8c" stroke-width="0.8"/>
<text x="439.3" y="447.1" font-size="8.9" text-anchor="end" fill="#484848" font-weight="normal" >20</text>
<path d="M443.1,462 L446.5,462" stroke="#8c8c8c" stroke-width="0.8"/>
<text x="439.3" y="465.2" font-size="8.9" text-anchor="end" fill="#484848" font-weight="normal" >10</text>
<path d="M443.1,479.2 L446.5,479.2" stroke="#8c8c8c" stroke-width="0.8"/>
<text x="439.3" y="482.4" font-size="8.9" text-anchor="end" fill="#484848" font-weight="normal" >0</text>
<text x="0.0" y="0.0" font-size="8.9" text-anchor="middle" fill="#484848" font-weight="normal" transform="translate(411.0,454) rotate(-90)" textLength="114" lengthAdjust="spacingAndGlyphs">Number of unique transcripts</text>
<text x="0.0" y="0.0" font-size="8.9" text-anchor="middle" fill="#484848" font-weight="normal" transform="translate(422.8,454) rotate(-90)" textLength="45.4" lengthAdjust="spacingAndGlyphs">per spot (k)</text>
<path d="M452,465.3 L602.6,465.3" stroke="#c4c4c4" stroke-width="0.6"/>
<polygon points="476.05,440.80 476.05,441.33 475.88,441.86 475.63,442.38 475.37,442.91 475.11,443.44 474.85,443.97 474.57,444.50 474.18,445.02 473.62,445.55 472.99,446.08 472.36,446.61 471.72,447.14 471.09,447.67 470.46,448.19 469.83,448.72 469.20,449.25 468.56,449.78 468.03,450.31 467.73,450.83 467.65,451.36 467.61,451.89 467.58,452.42 467.55,452.95 467.52,453.47 467.49,454.00 467.45,454.53 467.44,455.06 467.53,455.59 467.72,456.11 467.96,456.64 468.20,457.17 468.43,457.70 468.67,458.23 468.91,458.76 469.14,459.28 469.36,459.81 469.25,460.34 468.58,460.87 467.63,461.40 466.68,461.92 465.73,462.45 464.78,462.98 463.83,463.51 462.91,464.04 462.08,464.56 461.34,465.09 460.63,465.62 459.92,466.15 459.21,466.68 458.50,467.20 457.80,467.73 457.31,468.26 457.34,468.79 457.76,469.32 458.25,469.84 458.75,470.37 459.24,470.90 459.74,471.43 460.23,471.96 460.73,472.49 461.27,473.01 461.91,473.54 462.64,474.07 463.40,474.60 464.15,475.13 464.91,475.65 465.66,476.18 466.41,476.71 467.17,477.24 467.90,477.77 468.56,478.29 469.14,478.82 469.68,479.35 470.21,479.88 470.75,480.41 471.29,480.93 471.83,481.46 472.37,481.99 472.90,482.52 473.38,483.05 473.76,483.58 474.09,484.10 474.42,484.63 474.75,485.16 475.08,485.69 475.41,486.22 475.74,486.74 476.05,487.27 476.05,487.80 476.75,487.80 476.75,487.27 477.06,486.74 477.39,486.22 477.72,485.69 478.05,485.16 478.38,484.63 478.71,484.10 479.04,483.58 479.42,483.05 479.90,482.52 480.43,481.99 480.97,481.46 481.51,480.93 482.05,480.41 482.59,479.88 483.12,479.35 483.66,478.82 484.24,478.29 484.90,477.77 485.63,477.24 486.39,476.71 487.14,476.18 487.89,475.65 488.65,475.13 489.40,474.60 490.16,474.07 490.89,473.54 491.53,473.01 492.07,472.49 492.57,471.96 493.06,471.43 493.56,470.90 494.05,470.37 494.55,469.84 495.04,469.32 495.46,468.79 495.49,468.26 495.00,467.73 494.30,467.20 493.59,466.68 492.88,466.15 492.17,465.62 491.46,465.09 490.72,464.56 489.89,464.04 488.97,463.51 488.02,462.98 487.07,462.45 486.12,461.92 485.17,461.40 484.22,460.87 483.55,460.34 483.44,459.81 483.66,459.28 483.89,458.76 484.13,458.23 484.37,457.70 484.60,457.17 484.84,456.64 485.08,456.11 485.27,455.59 485.36,455.06 485.35,454.53 485.31,454.00 485.28,453.47 485.25,452.95 485.22,452.42 485.19,451.89 485.15,451.36 485.07,450.83 484.77,450.31 484.24,449.78 483.60,449.25 482.97,448.72 482.34,448.19 481.71,447.67 481.08,447.14 480.44,446.61 479.81,446.08 479.18,445.55 478.62,445.02 478.23,444.50 477.95,443.97 477.69,443.44 477.43,442.91 477.17,442.38 476.92,441.86 476.75,441.33 476.75,440.80" fill="#c8c6de" stroke="#222" stroke-width="0.6" stroke-linejoin="round"/>
<rect x="472.4" y="449.70" width="8.0" height="2.20" fill="#000"/>
<rect x="472.4" y="452.70" width="8.0" height="0.90" fill="#000"/>
<rect x="472.4" y="453.90" width="8.0" height="1.60" fill="#000"/>
<rect x="472.4" y="456.30" width="8.0" height="1.20" fill="#000"/>
<rect x="472.4" y="457.80" width="8.0" height="0.80" fill="#000"/>
<rect x="472.4" y="462.70" width="8.0" height="1.20" fill="#000"/>
<rect x="472.4" y="464.70" width="8.0" height="0.90" fill="#000"/>
<rect x="472.4" y="466.10" width="8.0" height="2.20" fill="#000"/>
<rect x="472.4" y="468.60" width="8.0" height="1.20" fill="#000"/>
<rect x="472.4" y="470.10" width="8.0" height="2.20" fill="#000"/>
<rect x="472.4" y="472.60" width="8.0" height="1.20" fill="#000"/>
<rect x="472.4" y="474.60" width="8.0" height="0.30" fill="#000"/>
<rect x="472.4" y="476.50" width="8.0" height="1.20" fill="#000"/>
<rect x="472.4" y="478.00" width="8.0" height="0.90" fill="#000"/>
<rect x="472.4" y="479.40" width="8.0" height="0.30" fill="#000"/>
<polygon points="524.25,436.80 524.25,437.36 524.25,437.91 524.08,438.47 523.91,439.02 523.74,439.58 523.60,440.13 523.50,440.69 523.41,441.24 523.33,441.80 523.25,442.35 523.16,442.91 523.08,443.46 522.99,444.02 522.90,444.57 522.80,445.13 522.70,445.68 522.60,446.24 522.50,446.79 522.40,447.35 522.30,447.90 522.20,448.46 522.07,449.01 521.89,449.57 521.68,450.12 521.47,450.68 521.26,451.23 521.06,451.79 520.85,452.34 520.53,452.90 519.97,453.45 519.26,454.01 518.52,454.56 517.78,455.12 517.01,455.67 516.13,456.23 515.15,456.78 514.11,457.34 513.08,457.89 512.05,458.45 511.01,459.00 509.98,459.56 509.06,460.11 508.42,460.67 508.00,461.22 507.64,461.78 507.28,462.33 506.92,462.89 506.56,463.44 506.27,464.00 506.21,464.55 506.40,465.11 506.67,465.66 506.95,466.22 507.22,466.77 507.49,467.33 507.77,467.88 508.04,468.44 508.31,468.99 508.59,469.55 508.86,470.10 509.14,470.66 509.43,471.21 509.80,471.77 510.27,472.32 510.78,472.88 511.29,473.43 511.81,473.99 512.32,474.54 512.83,475.10 513.34,475.65 513.85,476.21 514.37,476.76 514.88,477.32 515.42,477.87 516.02,478.43 516.68,478.98 517.36,479.54 518.04,480.09 518.72,480.65 519.40,481.20 520.08,481.76 520.76,482.31 521.41,482.87 521.99,483.42 522.52,483.98 523.04,484.53 523.56,485.09 524.08,485.64 524.25,486.20 524.95,486.20 525.12,485.64 525.64,485.09 526.16,484.53 526.68,483.98 527.21,483.42 527.79,482.87 528.44,482.31 529.12,481.76 529.80,481.20 530.48,480.65 531.16,480.09 531.84,479.54 532.52,478.98 533.18,478.43 533.78,477.87 534.32,477.32 534.83,476.76 535.35,476.21 535.86,475.65 536.37,475.10 536.88,474.54 537.39,473.99 537.91,473.43 538.42,472.88 538.93,472.32 539.40,471.77 539.77,471.21 540.06,470.66 540.34,470.10 540.61,469.55 540.89,468.99 541.16,468.44 541.43,467.88 541.71,467.33 541.98,466.77 542.25,466.22 542.53,465.66 542.80,465.11 542.99,464.55 542.93,464.00 542.64,463.44 542.28,462.89 541.92,462.33 541.56,461.78 541.20,461.22 540.78,460.67 540.14,460.11 539.22,459.56 538.19,459.00 537.15,458.45 536.12,457.89 535.09,457.34 534.05,456.78 533.07,456.23 532.19,455.67 531.42,455.12 530.68,454.56 529.94,454.01 529.23,453.45 528.67,452.90 528.35,452.34 528.14,451.79 527.94,451.23 527.73,450.68 527.52,450.12 527.31,449.57 527.13,449.01 527.00,448.46 526.90,447.90 526.80,447.35 526.70,446.79 526.60,446.24 526.50,445.68 526.40,445.13 526.30,444.57 526.21,444.02 526.12,443.46 526.04,442.91 525.95,442.35 525.87,441.80 525.79,441.24 525.70,440.69 525.60,440.13 525.46,439.58 525.29,439.02 525.12,438.47 524.95,437.91 524.95,437.36 524.95,436.80" fill="#8a91a8" stroke="#222" stroke-width="0.6" stroke-linejoin="round"/>
<rect x="520.9" y="456.20" width="8.0" height="1.60" fill="#000"/>
<rect x="520.9" y="458.10" width="8.0" height="0.90" fill="#000"/>
<rect x="520.9" y="459.30" width="8.0" height="1.20" fill="#000"/>
<rect x="520.9" y="460.80" width="8.0" height="2.20" fill="#000"/>
<rect x="520.9" y="463.30" width="8.0" height="1.20" fill="#000"/>
<rect x="520.9" y="465.30" width="8.0" height="1.60" fill="#000"/>
<rect x="520.9" y="467.20" width="8.0" height="1.60" fill="#000"/>
<rect x="520.9" y="469.30" width="8.0" height="0.90" fill="#000"/>
<rect x="520.9" y="470.50" width="8.0" height="1.60" fill="#000"/>
<rect x="520.9" y="472.40" width="8.0" height="2.20" fill="#000"/>
<rect x="520.9" y="474.90" width="8.0" height="1.60" fill="#000"/>
<rect x="520.9" y="476.80" width="8.0" height="1.20" fill="#000"/>
<path d="M520.5,445.2 L528.9000000000001,445.2" stroke="#111" stroke-width="0.6"/>
<path d="M520.5,447.0 L528.9000000000001,447.0" stroke="#111" stroke-width="0.6"/>
<path d="M520.5,448.8 L528.9000000000001,448.8" stroke="#111" stroke-width="0.6"/>
<polygon points="572.25,415.30 572.25,416.13 572.25,416.96 572.25,417.78 572.25,418.61 572.25,419.44 572.24,420.27 572.18,421.10 572.12,421.92 572.06,422.75 572.00,423.58 571.95,424.41 571.90,425.24 571.88,426.07 571.87,426.89 571.86,427.72 571.84,428.55 571.83,429.38 571.82,430.21 571.80,431.03 571.79,431.86 571.78,432.69 571.76,433.52 571.75,434.35 571.74,435.17 571.73,436.00 571.69,436.83 571.36,437.66 570.50,438.49 569.62,439.31 569.17,440.14 568.95,440.97 568.72,441.80 568.56,442.63 568.56,443.46 568.72,444.28 568.93,445.11 569.13,445.94 569.42,446.77 569.91,447.60 570.48,448.42 570.85,449.25 570.91,450.08 570.70,450.91 570.12,451.74 569.22,452.56 568.37,453.39 567.68,454.22 567.06,455.05 566.44,455.88 565.83,456.70 565.26,457.53 564.71,458.36 564.17,459.19 563.63,460.02 563.08,460.84 562.42,461.67 561.56,462.50 560.60,463.33 559.65,464.16 558.69,464.99 557.74,465.81 556.83,466.64 556.02,467.47 555.28,468.30 554.55,469.13 554.09,469.95 554.29,470.78 554.98,471.61 555.79,472.44 556.61,473.27 557.42,474.09 558.27,474.92 559.24,475.75 560.32,476.58 561.44,477.41 562.55,478.23 563.67,479.06 564.79,479.89 565.99,480.72 567.28,481.55 568.54,482.38 569.53,483.20 570.12,484.03 570.53,484.86 570.94,485.69 571.36,486.52 571.77,487.34 572.19,488.17 572.25,489.00 572.95,489.00 573.01,488.17 573.43,487.34 573.84,486.52 574.26,485.69 574.67,484.86 575.08,484.03 575.67,483.20 576.66,482.38 577.92,481.55 579.21,480.72 580.41,479.89 581.53,479.06 582.65,478.23 583.76,477.41 584.88,476.58 585.96,475.75 586.93,474.92 587.78,474.09 588.59,473.27 589.41,472.44 590.22,471.61 590.91,470.78 591.11,469.95 590.65,469.13 589.92,468.30 589.18,467.47 588.37,466.64 587.46,465.81 586.51,464.99 585.55,464.16 584.60,463.33 583.64,462.50 582.78,461.67 582.12,460.84 581.57,460.02 581.03,459.19 580.49,458.36 579.94,457.53 579.37,456.70 578.76,455.88 578.14,455.05 577.52,454.22 576.83,453.39 575.98,452.56 575.08,451.74 574.50,450.91 574.29,450.08 574.35,449.25 574.72,448.42 575.29,447.60 575.78,446.77 576.07,445.94 576.27,445.11 576.48,444.28 576.64,443.46 576.64,442.63 576.48,441.80 576.25,440.97 576.03,440.14 575.58,439.31 574.70,438.49 573.84,437.66 573.51,436.83 573.47,436.00 573.46,435.17 573.45,434.35 573.44,433.52 573.42,432.69 573.41,431.86 573.40,431.03 573.38,430.21 573.37,429.38 573.36,428.55 573.34,427.72 573.33,426.89 573.32,426.07 573.30,425.24 573.25,424.41 573.20,423.58 573.14,422.75 573.08,421.92 573.02,421.10 572.96,420.27 572.95,419.44 572.95,418.61 572.95,417.78 572.95,416.96 572.95,416.13 572.95,415.30" fill="#d9b3a4" stroke="#222" stroke-width="0.6" stroke-linejoin="round"/>
<rect x="568.8" y="455.60" width="8.0" height="1.20" fill="#000"/>
<rect x="568.8" y="457.10" width="8.0" height="1.20" fill="#000"/>
<rect x="568.8" y="458.80" width="8.0" height="1.60" fill="#000"/>
<rect x="568.8" y="460.90" width="8.0" height="0.90" fill="#000"/>
<rect x="568.8" y="462.60" width="8.0" height="0.90" fill="#000"/>
<rect x="568.8" y="464.00" width="8.0" height="1.60" fill="#000"/>
<rect x="568.8" y="465.90" width="8.0" height="1.60" fill="#000"/>
<rect x="568.8" y="468.00" width="8.0" height="0.90" fill="#000"/>
<rect x="568.8" y="469.20" width="8.0" height="1.60" fill="#000"/>
<rect x="568.8" y="471.10" width="8.0" height="2.20" fill="#000"/>
<rect x="568.8" y="473.60" width="8.0" height="1.20" fill="#000"/>
<rect x="568.8" y="475.10" width="8.0" height="2.20" fill="#000"/>
<rect x="568.8" y="477.60" width="8.0" height="0.30" fill="#000"/>
<rect x="568.8" y="441.00" width="8.0" height="1.20" fill="#000"/>
<rect x="568.8" y="444.40" width="8.0" height="1.60" fill="#000"/>
<path d="M568.8,424.2 L576.9,424.2" stroke="#111" stroke-width="0.8"/>
<path d="M451.6,465.4 L591.5,465.4" stroke="#222" stroke-width="0.7"/>
<path d="M476.4,490.9 L572.6,490.9" stroke="#8c8c8c" stroke-width="0.8"/>
<path d="M476.4,490.9 L476.4,493.6" stroke="#8c8c8c" stroke-width="0.8"/>
<text x="476.4" y="505.7" font-size="8.9" text-anchor="middle" fill="#484848" font-weight="normal" >1</text>
<path d="M524.6,490.9 L524.6,493.6" stroke="#8c8c8c" stroke-width="0.8"/>
<text x="524.6" y="505.7" font-size="8.9" text-anchor="middle" fill="#484848" font-weight="normal" >2</text>
<path d="M572.6,490.9 L572.6,493.6" stroke="#8c8c8c" stroke-width="0.8"/>
<text x="572.6" y="505.7" font-size="8.9" text-anchor="middle" fill="#484848" font-weight="normal" >3</text>
<text x="524.5" y="518.0" font-size="8.9" text-anchor="middle" fill="#484848" font-weight="normal"  textLength="35.8" lengthAdjust="spacingAndGlyphs">Replicate</text>
</svg>
<canvas id="hm" width="150" height="137" style="width:265px;height:137px"></canvas>
<script>
(function(){var c=document.getElementById('hm');var x=c.getContext('2d');var im=x.createImageData(150,137);
var b=atob("AggGAgQEBQMDBAQBBQgCBQMECAUJAQYBAwcGBwUCBQYCAwUBBwMBBQgCAgMCBwMEBwMGAwABCgYGBQUGCQICAwMIBQICAwYABAIGAQMAAgYFAwIAAwMDBAIDAwYDAwIEAgIDAQUEBAMCAgMCBAMBBAECAwADBAMCAwIDAwMBBAQDAwUABAQEBAMDBQQEAAUGBgQBBQMABgMDAwgFBgkJBQYBBAcGBgcFBggHAwYBBgMDBwUGAQYBBAAEBwcEBQcABAcHCggGBwcEBQQJBQcGCAUJAwQGBwgDAgQDAQUEBAMGAwUCAgQCBQQCBAMFAwMGBwcCAwcEAgMEAgECBQIDBAUDBAEDAgYDAgMDBQABAwgFBAQHAwMGBQUCBwcFBAAFBAQFAwEEAwMCAgAGBQgKBAEDAgMFAQcBBgYEBQMFAgYKBAgNBAgGBQQFBAYBBAoEBQcHAwUHBQUIBAUECQEDBAMGCQMHBAMHAgAFAQQHBAYDAAIBAQQCAAQDBAMEAwUEBAQBAwMEAAYBAAADAwEDAgQDAwUIAQIBBQEDAwIBAgAAAgMCAAIFBAIBBAIBAgYDBQIFAQMIBQIDAwYCAAIDAwUEBgMHCAcFBQgDBAYCBAYEBQQDBQcDAgYABQIICgkEBgYCCAIHBQgFAwUHBAYDAAcHBgUHBAAECAMHAwIIBAEFBwgFBQYEBQQDAwUFAwMGBQYHBggDBgQICAECBQYCBAYGBAYABQMHBAIFAwIBBAUHBAcEBAUGAwMDBQMGBAQCBQUDCQUHBgMEBAUFBAEEAAYDBAQFAQEDAAMJAgcCBgQFBgoCBQQGBAYGCgEFAwQABAIGCwgCAwUCAwMHBwUCAQMABgQGCgcDCAgDAwsBCQECBAQGBQQIAAYEBAQCAgUEAggIAAQIBQQDAgMCBQMDAgMCAgUCBAQEAwIFAQYEAgICBAIFAgACAAQFBQECBwQDBggGBAMEAgIDAgMDBwIDAgUGAwIAAQUDAgIDBAIDAAMJAAQFBAMFBQUABQQDBQYIBAcIAwgABAcDBgQEAQQCBwcEBAMGBAYJBAECAgIIBgEGCAADBAcGBwcIBwYCBAYFBQMDBgUEBQYFAAIDAgQGAwEHAwEEBQMFAgICBQMEAwgCBgQEBQUGBAICBQQHBQYGBAEBAQYCBgUHBgMDBAQCBAcABAIEBQQFAQYCBAUAAwQHBAQBCQoGBAIIDAcIBwQDAwYGBwYHBAMGAgMJBAEDAgYGCgMBCAUECQUDAgYGAgMGBwQHCAEFBwAABQkJAAsDBwgJBQQIAgAJBQYBBgcGAwEDAAADAQMDBwYDBgIDBAEBAAQHAgMBAQEHCAQCBQMEBAMFAwMAAwEDAQMEAQICBQYFAwYABgIACAYBAwMEAQIEAwYDCAIEAAEGBAgHAwYFBQgIBQUCBgoMCAUHBQUFAgYEBQYFCwgKCAsCCA0DCQsHCAkFBwQEBgYHCQMLCQQFBwkHAggOAQgIBgsFBAYEAgMCBgIFAQQDAAMBAwYBAQYEBwQCAwYCAwQDAgcDAQMGBQMCAwAABQIEBgUDCAUDBQQBBAMAAwICAAMDBAEEAQMGAQMGAwMEBQACAgECAQQCBQcEBAkGBAUDBggBBQkEBgIEBQsFAgQBBwYLBgkGBgMCBQUABwUEBQUGAgMGBgQEBAUIAwUHBAgCAQIFBAQGAAcDAgICAAEDBAUBAQEEAAUCAgQFBAUDBgYDBQMBAQMFAQQEAwAEBAEDAAQBBQAFAwUBAgcBAgIBBgYCAAUFBQUBAwAABQIHAwIFBwQBAwYCAgUDAAICBgYIBgIGBwYIBAQCAwEHAwQDAwMFAgADAgMIBQIJAwcCCQQHAwgDBAoGBQoGBAcDCQgEBAwFAwgABAQFBQIHBAQDAgUEBAYGBwUDBgUGBQcGBgUFBQUHBAgEBgQCCAQCAwMIBQYEBQUHAwUFAwQEAQYFBAIHBQYGBAYEBQQEBwUEBAUCAwUEAwQICAUECAYEBgUHBAgDBwQLBAYICQMFAwcCBQUFBAYLAgYFAwQCAwgHBgcFAggCBggIAwUJCQQDBAUCBwMECQQGCA4FBgUKBwMGBwcLCQUHAQQFCQQAAgQCAgMEAwIFAwMBAgUBBAUDAwIDBQQBAgUHBAYDAwMEAQUGAQEFAwAFBAMHBAIDAgIEAwIGBQUEBQYDBwIDAAMFBwIEAwMBBAAEAwICAgsDCAgFAwgKBAYDBwwEBwIMBQEGAgsBBgcLBggHBQcCBAkCCQkGBAUHBwcIBQYDCQYFCQQABgQIDAQGBQYICQQLAwUHBgICAwUHAQUFBQUHBQYFCAEHBQQCAAQBBQIHBQMDAwIEBAQBBAMECAUEAgIBBgMEAwQGAwQDBgICAgIFCgIGBAMEAwQIAQUFAwYGBQUGAAcJCAkDBAQECAMFAQYCBAUKAwIFCQsHAgUEBAkKBgcHCQQDBQQFBQQCBAkLBwkEBgYEBQYFAwMFCQcFBgUEBAcICAMGAwQEAwUEAgcGAgUCBgMCAwIEBAQDAAQABAYCAgQEAwICBgQGAwQDBQUEAgIHBAQGBgUDCAQEBAEBBQQDAgEDAQUFCQYDAQADBAUFBAUFBwEDAQcHBwMGAwYFBwQHBgUCBAgEBgMDCAMHAwEJBAMDBwUGBAcBBQYFBAMFBgUDBgsEBwYABgMIBQAEBgUFAgQHCQYHCAgKBQMFBAQDAgACAAMDAAUFBAYHAQUEBQUCAgIBAwECBAMEAAIDAwIFAwMDBQIGBQQDBAUFBAUDBgMABgMBAwIHBQAEAgcCAAQDAwAEBgEFAwgEAgUFBAgFAAsFBAYCAwUBBgoEBwYEBwQJAwYABgQJBgQIBwUDBQUGBAUFCQkFCQYGCQYMBwMJBQEACQkICAkGBwMGCAcEBAMDBAMAAQcBBAQFAQMEBQIBBgYEAwUEBQECAwIEBAIEAQQFBAUBAQQECAQCBQIBCQQFBAcEBgIBBwYEBAQCBwUEBAYFBAIFCAIDBQYFAQQBAQQDCA4JBwQFBAUEBQcBAwQHBggKBgkDBQkMBAcDBQgGBQoBBwUECAULBQsEBwMDBwgECgQGBwQCCwkFBAIDBwUFBQsHAgYFAwIAAQMDBAQEBAEAAwICAwECBAQCBAMAAwcCBgUGAgcFAwMEBAMFAgEFBQYBBgQHAQMCAQIGAwIFBQUCBAUCAgUHAQABAgMEAwMEAgMCCAUCAgQBAgMHBAMCAgYBCAQHBgQBAwcJAgcABAQIBgUEBgcBCQYFCQgFBgIEAAgABwMDBQYGCQIHBAgFBAQFBQYFAwcCAwcAAgUACQAHBgUDBQIFAgMGAgMEAgYEAAQBAgQDBgIFAwYEAwEEBQgGBAMFBAcFAgIGBAMFAwMDAAUBAwIFBAQAAwEEBAQIBQUEAwcGAgUFBQQCAwsHAQcFAQACBgYCBggABQMEBQYFAQUGAwIHBwcDCAUBBAUHBwYIBggCAQcCBgUFBgkACAcFBgkKAwUFBgYIBAYFAgMEAQYDAQYCBAMEBAIEBwAEBAIBCAMHBAQCBAYFBAMGBQIDBAICAgMEBQMIBAoFBQMAAwMHAQcDBQAEAwUEAgUEBAYGAwEBBwUEAgUEBAIIAwIBAwcHAwUEAgcGCwQBBwUBAgQGBQgIAgUKBgcGBgQBAggCCQUGCAgDBAUDBQcDCgQFBQMGBQUGBgUBBQIHBAgHBgYGBQYDBAgDAwMBBgMEBwgCBgUEBQQHBQQGBQUCBgUEAgIBBAQBBAUEAgYCAQEEBgYEAgICAwADBQMFAgACBgYDBgMGBAMFAQIBBQMDAgcDAwYGBAADBwYJAQcECQUIBAIBBAQICAUEBgQJAgcAAAMDBgUDBAoBAwUDBAcJAQUFBAUECAQFBgUFCAEFBQQDAwUEAgUHAQoGAwUEAgcBAwUBAwQHAQMEAwEEAwQFBgQEAAMBAgQCBgcCBAMGBAMCAwEEAgQEBQMFAQQDAwMEAAQABgABAAYABAIAAgUDBAMDAwQHAwQCAgYBAQMDCQAGBgIDBggDAQgDBAAIBAcGBQQJAwAACQQCBQUEAwUBBgMEBQkGBQYGBwYJCQQECAYEAQAFBwgCBwMGBQIEAAMBBAQGBAIEAwUEAQMDAwUHAwMAAwIABQUCAgICAAMHAwQDAQMFAQQFBQABAAUFBQIBBAMCAwQDAgADBAICAgUDBAICAwIBAgYEBwMDAAMGBQUFAwMEBwgHBQQFBAgBBQ0CAwcJBQcHBg4HAgUDBwgHAwcFBQMBBAYCBgcDBAQIAAUCBggFBwQKCAUCBAoFBQYDBwUIBAgFBwcIBgYABgUGBAIEBgcEAwcDCQUDCAgCBwQDAwIGBwgIBgUFBAMEAAUECgYEBgMDAggGAgQGBgUDBAQGAwMHBAcFBgkGBQQEBwgHCQcFCAUFAgcDBgIIAggBBAgDBQUABgcCBwMEBgQLAQcEAAEIBQYIBAQABgMGBgIJCAcDBAQEAwYGBwQIBgADBgkFBQMHBAMEBgUCBQIFBAYFAgQBBgQGAwAGBAQEBQQBBgMDBgUBAAQFAwECAQQGBQIDBAIDCAMGAwQABAYHBgQDAwMFAgUBAAIAAQYDBAYGAgYEBAQBAgQFAwMFBgUGBQYIBAULBgMICwgDBQYEBgoFCwUGAwgNAgcFDQYHAwYBCQYHBQYJBAIIAwUIBQgFCwoFBgAGCgQJAwQCCwYIBAoCAwgDAwQBAwYEBAIEAwYFAwAFBQEAAgUBAgQCAwMCBgUDAAIFAgUEBAQEAgIIAQMFAwIBBAUFBAUBBAEDBQUBBgIBAwEDAwMEAwMAAwMCBAMAAAMEBwkKBgcEBAUHBwcCCAgHBwQFCAgGAgwKBgcFBwsICAkCCQYFBwkHCAEKCwoFBQcECQUICgcHBQQFBggDCAsJBwcFBQUGCQUEBwICAwIFBAcHBgMFBgIFBgUHBgMCAgUDBgQGAwEIBAYEBQcEBwEGBAQEBQcABAIGBAUDBgUDBAEEBgMGAAECAgUEBAUDAQMIAAMHBAIECAoEBwcJCgUDBwwCBw0DCAQHBwsEAgIDBQcFBgkGBwkCAgkGCQICAQQJBwYGCQUICAEFCgEFBQYJBgMABAEDCAkDBgYEBgECAgMHAgIDBQQGAwIEBQMFCQQFBwQBAgYGBAQHBgIGBQYEAwQBBQMGAwQDAwYEBQIEAgQEBgQEBgUFBwUEBQQGBgcEAwQEBgUEBwMEBwcGBQMGBAUDBQQFCAYAAgICBgUEBgMBAAMEAQgJBQUDBAcBBwcFBQUFAgYFAgoCAwUABAECBAsHBwkGAwcEAwgHBQcIAAMBAwIFBAIDAAMEBAACBAMFAQQCBAQEAQMAAAQDAAEDBgUFAAMEBAQCBgUDAQcCBQcBAwIEBAcEAwUCAgcBAgMBAAUCAQMBAQMHBAUAAwAEAgMDBAMIAQMFBAYIBwcCCAIHAwIHBggJAAYHCAoHAwMHCAUCBwEFCgwGCwUEAAgFDQYHAwoFBgAICQYGBwgHCgUFBAAFBgQDBAADBQYCBQcDBQEABQQEAwMFCAMABQUCAwgEBQACAgQFAgcBAwQBBQQDCAQEAgACAwIFAAEABwICAgUDBAAFBAUGAwQFBQMEAgYFBAcBAwcDAgsIAgkEAwUFBAYBBwgIBQIEBwsJAgkJCQYKCAYHAwcDEQgGBAoCBAcECQkFBgMDCQgHBwsHAwgKCgUGCQoEBQgLAgUECAQDAwYFAQQBAgEBAgEEBQMBBgAABAUCAwEDBAECAAEGBAEBAgQBAwABBQYBAgUDAgQDBgUCBAMBAgUABgQDBAUGAgMDCAUCAgMDBAgABQQCBgYHCAMKBgoICgkDBwYICAsDBwoEAwwQBAoLCQgHBAcDBwsFAQcHCAcFCgUIBwMLAgQHBg8GBg4GBgMFCAgIBAkEAgMCAwEBBgUGAwUEBQcDBAMAAAMEAgUFAgYDAwEGAwIDAgUFBQQBAwUCCQICBQUDAwQEBAIDBQQAAgECAwUEAwMGAgQGAwAEAwMFBAMFBAMEAwICBQQDCAUGBQUGBgQCBAkAAwcGBQcDAgAKBAcJBAoEAAEDBgQDAwoFCgUABwUFCgUJBwQHBA8IBgkHBQcFBwMHBgQGAwYEBQcEAQUHAwYFBQQDBAQFBQQFBgEDAgQCAwMGBQAEAggFBAQDBAcEBgYDCAYGAwYFAwgFBAUGBwUGBwIDAwUHBQMEBgQEBgEGBQcCBAMFBAQICgUFCgYKCwUGBwUBBgoFBgQECwEFAwMOCgQIBAgGBwsCCggDBwgDCgcIAwcHBgYCCwQBBAAHBQkEDAcMAwgFCAkEAgICAgIBBAYCAgQDAwUGBQMIBwMEBwMFAwMBAAMACAYGBAYHBgUCBQMBAgQGAggGAwMEBgMBBQAEBgQFBQUEAwMDBgcFAgMEBwQEAgcEBAQHAwcHBgkGAwYECAYICAACAggEBgkDBwcCAwYLBA8GAgQFBQcBCAUCBAYIBwUGBgsECAgECAYFCAUJBggMAwYJBgcICAoHBAQEBAEFBwgHAgcCBAcCBgQEAgUDBwYBAgMAAQQEAQIFAQIIBwABBQIDAwUAAAIGBAEFBQMDBQYEBQMDAgUDBAYEBQEFAgMCBwUCAQUDCAEAAwQFCAwGBAIHCQUJBgsCBAYCAgYKDAcGAQkDBQgJAggGBQYDCgsDBQkDBAILCAcGBgUIBgkFBAYFCAcACAIJAgEIBwcEBQEDAgMFAgUFAAEDAgQABQUDAQMDBQMFAgYAAQUBBQEEAQMFAwIHAwIFBQUHAgYFBAQAAgYAAwQFBwADBQEDBwYEAAMEAgQKBAEEAgQDBgQBAwQDCwsGBw4MCAoGBAsDCQkJBggMCQsEAgwTCQgGCgoECQsDBQkDDAkFCwsHDQUIDAILCQgFCQsFBwcMBAUIBwkLBwgKBgYEAAgFBQUEAgMEAwEEBQMEAAQEAwEFAgUBBQQCBAMFAwQHBgUGBQYFBQQFCQUDBAQEAgAEAQUFBwcFAwICBQAEBAYEBAMEAQQHBAYCCAIGBAIHBggIBQYIBgYFAwYCBwsCBwAFBgECAwcCBAwHBQsIBQsCCAcDCQgEBAkGBggGAwgJCgsHCQcFCw0ICwgECQcJBgsJAgUGAgMCAgUGBwYFBgYDBQQDAwMDAgUEAwQCAgQBAAAGAAUHAwYHBQgEAgQDAQIIAwMCBAMCAgECBQcFBwUDAQQAAwcEBQMBAwMGBwMDBAMBAwQFBAgDCAUHBgUEAw0CCA4HCQYMCQkHAwsABwYIAwkFBgcBBgIEBggHBw0JAwYFCAUGDQcGBw0KCQwACAkNBwIKBQMHBgYGAgkBBAIHBAUEBAQABgYDBAQHBQQDAAMCAwQGBQQFBAQGAQYBBQQGBAIGBQUEBgUEAQMECAUEBwMEBAEGBQMBBAcDAQUBAAMCAwQEBAMDBQYGCgAGBgkEDAgHCQkCCgkEBgcHDQYOBAYPCwgHCQ4ECQoDBwcKCgcMBQoJCgkLCQoKDwYLCgUGCgYFCgMNBwgKCQkJAwYGBgQDAAUFAgUGBAUEAAIDBQIDAgQEBQUCAwQEBgADBAYCBAUCAAMBBQEHBAICAgQGAwUBBAgBBgUAAQIFAwMEAwQDBQIHAwIFBAEEAQIFAQQDDAcEAwUHBwkHBwkCCAoJBQEGCQEGAwYADAsICwsEDgYCBAcDBwsHBgsFCQYHCAcHBgUIBwAFBgkHBwUHAwAIAgUFBQEFAgEABAUFBwQEAwMDAgcABAQEAgMCAQMBAgUBBAIEAwQCAgEDBQUCAwAAAgIAAAQCAAcDAwQCBwAAAwIGAAIDBAUEBwMEBQIDAgMBAwAEAAcHCgcGCQgJBQkFBwQCCQcGCQYMAgoJAQQPBAYKBwkFCAwDAQkHBQwCDAUMBgQHCQgLBggJBwEECgsFBAoDBwQEBwgMCQUIBwMCCAUFBAQDBgcEAgUCBAcJBgMGAAQDBQICBgQDBQQCBgMCAgUDBgQHBAQBAwYKAgIFBgMFAgMGCAUEBgcFAwYHAgMGBgYFAwUDBAMEBgIFBgwJBQoIBgsJDAwDCAYJCAgJBwYKBAcPCwUIBQsIBgUCCgcGCQUHCQUFBwcGCQgGBwkKCwEKCgkJCgwFCAYICgsGAwQCBQMDBAgEAwcCAwEGBAQEAwICBQQHAgMABgIFBgMFAAMBBAMCBQQCAwAECAMEAwUEAwACBgMFAwAEBAMDBQMEAwADAgMFAwQGAwICBgMCAwQECQYHBQgCBwMLDA0DBgwHCQQHCg0IBg8ACAUJBwgKCgoCCAgICAoECgwIAwsGAAcKCgsJCAAECQsFBggDAgYJBgIJAgYFBQUDBgcFBgMGBQIEAwMEBgMFAgUGBQUBAgQCAgUCBwIGAgQCBAQDBQcDBgUECQADAAMDDAUIBwMFBwUEBQECBAUDAwQEBgQEAQMFAgQDAgUDBAUHDQEHBgkFAAsBBwQDBQgKBgkGAwcOBQYIBwQLBQoCCgAMBgQHDQgDBAoCBwUNBwoEBQUIAgoIBQcIBQQGBQQIAQQFAgUHBgIHBAMDBAYFAwIDBQcCBQMCBAUAAQYFBQIDBAMDBAUBBgUCBAMGBgIBBgQEBAYBBgIFBwEEAwMEAgIFBQMBCAcFAgMEAggEBQICAgQEBwkJCggFCAsGCAgDCQcHCgoMCwgHBAUEAwcHBQkFBgkCDAYIBAcHBwYICwcHCA4NCwoFCAQHBggJCQEICgUKAwsGAQMJAgEEBAcCAAMEBAYBAgMFBQMCBgYJAwcAAgMDAgIDAwUEBAYEBAQDBQIGBwYDAQMEBQMDBwIGBgEEAwIAAQQCBAIDAgEBBQQCAwYHAwUIAwYADQoFCQwNDQgHCAoDCAsLCg4RBwkGAgsCBgkNCQgLCgwEBwoHDAwGDQYNCAcFCQkIDAUJCQAJBgUHCAsIDAwODAsJBQYFAwAEBAIEBQMFBQEDBQUGAAMFBwcCAgICAQYGBAACBQEEAwUEBAMDAwUEBgEGAwYEBQYCBAMEAQMDAgMABwUHAgIEAAUCAwQEBwYBBgEEAQIGBQUFBAsDAwgCBQsCBQYEBQYLCgYFAwIBBgQFCAIEBAgBCgUFBgUECgcGCAQIBwQJBAgECAYHBQgFAwMHBwEHBwgFBgIGBwAEBQUDAwEEBQMCAwQEBAQCAAYHAQMCBQYHBAQFAwcGBgMGAgUAAgUEBQIHBgQFBQYEAgQHBgMFBAUBAwYDBAgEBAQDBQEABgUGBQQFBQIHBgoQBw4ICwgKBgcDBQgKBwUHCgkKAw4DAwkKCgQLCAoBCggMCAYJBgoGBwgICAYJCQkIAwUMCg0KBwQLCwkLCQoLBAQDAgQCAAQABwUFAgEDBAIEBQUCAAQCBAcDBAYHBAQFAwMDBAIFAwYFAQUDBwUDBQMEBAMEAgUBBQQFAwkDBAIGAgYCBAQGBAIEAQMFAQUDAQQFBgkLCAgGBgYKCgoECAkHDQELCgkPBQsCCgcKCQcKDA0DAwsKCAgKBgoGBQgECQkFDAcJCQMGBAgGDQoFCggJCQwIAwQDBAMCAgUGBAIFBAUGAgQDAgcGAQUDBQQBBAUEAwMFAgQFAwUBAwIEAwQFAQUCBAQFBQcEAwMFBwQDBAQEAwACBQUAAwEIBQIFAgYEAgUCBgQCAw0MAwwIBwcHDAkBDQwFBwQJCgkHAgoDDgYLCAYLCAcCCwQLCggLDAkIDAwFCAcHBQoICBIGCAoHBwkICwUJAwgHBwYGBwYFAwIEAwIDAQcCAwUBBgYEAwMBBgQBAgUHAgIBBQUJBAMCBgEFBAMDBggDBQcDAwEDBAMDAQECBQMCBgUCAgYFAgUEBwIGBAMGBgEIAQIEDQ0LDAwPEQoECgkDCwkHCgkGDwwMBQgHDg4OCwkODAwCCQUNCwoKEQ4HCQcFDREQDQoLDgMFEQ4PCw4KCw4PCQ8LAgYIBgIGBgUABgYFAgIHBgYEBgQEBAYEBgYBCAMGBwYABgcJAQMEBAcDBwUCAwQFBwQGAgADBgQDBggEAwMIBQYHBgMHBgYHBAQEBgUFAwQEBAUFCQQNBgkHDQYLDRAECwgNDQoOCwkNBQcICgwMDQ0MBQ4DBgsFDA8IDAsMBAsJDQkNDAsNCgkJDAoMDQkMCgYMDQkGBQMJBAQDBQQDBAMHAgQDAggABwIFCgECBgUBBAMFBwMFBwkEBQMDBAMBAQMFBwQEBgYEBAgDBAEFBAcEBgYHAggEBAQEAwEGBQIECAYECQMEAwQGCQYIBgcIBgUIBQoCBQcGBwcJBg0LAwsFBwgRCwsGCRADCwsJDAkJBg8JBwwGCQUICAkHBg0HBwwKCAQKAwgJBQYHCAQFBgUGAgMLBAMEBgIFBAUFAwMABwIEBwQCAwYFAwYEAQQGAgUFCAMFAQMFBgUEAwMFBQUGBwEDBAIGBgQEBwQDBgYHBAYEAwQABQcEBQYEBQgGCwsKCAoMBQgLBwoCCg0NCgYMDA4EBAQRCgsNCwcKDAsDBgwHBwkGCA0MDA0GCw0QBwUKCAIJBwUJCQoMCQgJBAkOBAcEAAUFAQEEBAEDAgEBBAMCAAYCBAEEAAQBBAICAwYBBAIFBAMDBAIDAAICAwUEBAUABAMDAQQFBQMEBQcFBAMDAwMFAQIEAwMABAQDBQMCBgIFDwkLBQ0JBw0MBw8DERAICQYMCw0LAggUDQkLCgoFDAoDAwoNAw8LCAUNCQsICQwIDgUHBgoEBw4KEA4MCwQJCAsIAQEEAwEBAgECAAMDAwMDBQIAAQMEBAMCAAEAAQACAgADAwADAwEDAgQCAgMDAwIBAgECAgICAgQEAQIBAgIBAAACBAEDAQMBAgIAAgIAAwICAgEBBwkQDAgICgoHBhAEBQUGCQkKBQsLBAgHCQYLBgwKBgsEAwgNBAkFCQIEBgkJCwwMDQYIEQwLDA4IDwcJDgILAwgKAgMCAgEBAAQBAwICBAIAAwADAgACAgUCBQQBAQQCAgIBAgEBAgUEAgIDBAICAgQGAgADAgIEAwAAAgACAQIAAgIDBAIBBQMDAwQEAwQBAgICAgMDCQYNCggMDAkEBgoFCAsGCAoGAw0LAw0JBAoPCQkNCQgDBgwEDQYKBgkNDA4JDAoNCw0LDggLCQsGCQkNBRELDQ8EAgQAAwEBAwADAQEDBwMDAgEDBAMEAgYAAwMBAAECAgABAwQCAQEFAwIDBQQBAgICAQIBAwIAAAIDAwIAAgECAQIBBgMCAgIDAgIEAwMEAwEAAQIDDAkHCg0ICw0KCQQEDAwIBQgLDgcPBA0CCg0MBgkLBQcDBwsFBAgOBwkKBQ0JDAQFAwkIDAoICQ0OBwsJBwsJBQ0LAgIDAQMCBAQDAQIBBgIDBAABAQEAAgQDAgIAAwMBAgEBAAEBAwICAgEFAAMDAgECAAACAAMDAAACAgICAwMEAgMAAgAEBQMAAgICAwQABAEBBAEABgwODQsJEAgPDA0DDAsICgcODAsLBBEHCQoPCwoKCw4EBgcCDQ8PCw4LCQYICg0RCwwLCQIIBwwKCgkNBw0HCg0KAAMCAwMCAgQDAQIDAgICAgEABAEDAQIBBgEAAwQAAgMAAwIBAgEABQEBAwIEAgMCAgICBAEBAgMDBAACAgICAAMCAAIEAQMCAQECBAQBBAIBAgEADAoODg4NDQ8MDQsEDAwKDQ4JDw0MBQwTDw0NDA0MDQwEDA4PDgwPCg8JDA0MCgsNCg4ODwkNDBEODg0OCg4MCg4MAwIBAwMDBQMEAQQDBAMDBAEDBAEBAwMDAwEBAwICAQMFAAMEAgIBAQIDAgMDAQQEAQUDAgUAAAMCAQQDAQEDBQACAgACAAIFAwMDAwQBAgMBAQQFAwMGBAMGBgQLBwcCCwgDBQQEBgUFAQYABgUGAAgBAgcBBAADBQYEBQUDAgkCCAQIBAUFBAICBQUGBAEEBAIIBQcEAgQBAwIBAgEDAAAEAQAEAQACBAMFAwMBAgUBAgACAQMBAwEFAQIGAwEDBAMAAwAFAwIDAwAEAgAEBQQDAQQFBAUBBAQAAAIDAwICAgMDAwIDAQMCCAUGAgQFBQMCBQYCCAUBBQADCAcEAQUABgQKAwcDBwQCBAMEBgYIBwAEAAQGAwIGBQgFBgMEBQQFBwcFAwMDBQkBAAUBAwEEBAQFAwQGBQICAwMDAgQDBAMEAQYCAwQFBAMDAAQDAwYAAwUEBQECBAMGAwMEAgMCAwIDAQADAwIDAgYABQIEAgMFBQICBgYDAwMDBAEDAwgJAwYIBAIHBgUCBQIFBAgFBQYGAQUACAoDAwMDAwYCAgEABwgBAQUHBgUGBgMJBQIDAgEHAggJBQIDAwIDBAUHAQcGBQIGAwcGAgIHBQMEBAIDAgMEAgUEBAUDBAUDBAEDBQQFAgYCBAMFAwEAAwIEBgABBAUEBAQFBwQBAwQCAwMCBAMCAgQIBAYEAAUCAgEHAAIGBgIFAwUHBAQIAQUCAgUCBQMICAYFAgUIBwYIAgcJBgMCBQUEBgUFAwUHAwYDBQQIBAgCBQIGAwMHAgYEBAoJBgMHBQUJAgYFBAkDBQUBAwMHBwYGAQYECQgKBgcBBQMHAwQDBAYFBgMHBAcJAAMFCAUGBAYDBwABCQUECgcHBAcGAgcEBwgEAwYHBQUGBgkGBAEHBAQFAQQAAgIIBQMFBgMBBAoEAAULAwwEAwMKAgIABwIFBQQBBAMEBAIBAgQHBwUGBQYFBgQECQAEAwcIBAAGBQAEBAAGBQQCAgIEAgcFAAcEAwQABAABBgYDAgYDAwUABQAHAAICBQUFBQQDAAAAAwMEBAMBAQAGBQACBQcCBAUAAgQCCAUEAQYFAgMBBAUFBAYCAwYEAQQGBgUEBAgFAwUCBQQCBQgJBAIGBQUDAgUABAUIAwMHAwYCBgQCBwQDCQYCAwQCAQYHBgMFBgEDAwcFAgMJAgQEBwUEAwUIBgIHBAMGAwMDBQQBBgQHBgYFCQQDBQACBQQIBgQEBwQFBgYJBAEGCAQJCQQEAgYGBgIDAgECAgQFBgUDBQYEBQUEBAMHAgYCBwgDBQIFBQoCBwQGBgYGBAQFBwIBAgMDBwkJAwUDAggMBwQBAQQGBwUCBQcEAggFBQIFAAAEBAYIBQkDBwEFBAUGAAUDBAUFBAMHAwYDBwIGBAcFBgQHBgYIAwcFAgYECQQFBAECAggIBQEFBQYFAgQCCAMDBQIEBQQEBwYCBAYDBQUGBQQDBQMIBQQGBAUFAgMDCAMEAwcJBAYFAwYCBwYECAgIAgQEBwkABgYHBQIGBAQGAgYACwgIAwEDBQsDBAgIBgkGBAMFBwIBBwAKBQcJAgEKBQYGCAgGBAUHCAYLAwYKCAUDBAYGBAIDBgcCBAEEDQUFBQMBBAUEAQYIAQYBBggGBgMFBwUEBgYCBgQGBwYIAwQCBgUFAwQEBgUHBgEEAgcIBAcCAQQEAQcGBwgHAwUHAwkIBAUOCAcKCAcCBAgCBwYDCwQJAgcACwgLCAcGBQgCBgMFBwUGBQMEAwUFCQMCCAUFDAMHCAcIBAQFCQkFCAYJBggHBQYGBQQKBQIBAAUJAwUCCQcHCgoIBAMBAgoGBgYKBAkIBgIHBAUGBggFBwcGCAUIBAIFCQUFBgUFBwMJCAQIBgoECQcCCQUEBQQHBwUJBQQFBAcDAQcFBAkCBQEBBggBBgYFCwUDAgAEBwQHBgkDAQEBAQQFAwMHBAUHAQIKBQIEBAIDBQEFAQIGAwcFAQUDBQgKBggIBwAEBggFBwgGBgUGCQkFBAQIBwcHBgYBBAcHBQQJBAcHBAIEBAgDBQcGCAgCBQQJBQYJBgYHBggHCAYFBgUCBggGBAcHBwkEBgkGBgMFBgkFBgYHBAYHAgUBAAQABggEBAQFBgYEAQQDBAgFCAIDBgcBCgUFBAkHBgEGAwYHBAUHBgQCAwEHBQMFAgAIBwEEBQUEAwQEBAMCBAEHAAQFBQQHAgQEAwMHAwMDAwUBBAUFBwIHAwYFAwAHAgIGBAgIBgUFAQQEAwQABgcBBQcFAgIGCAIEAgQFAwMJBAMGBAUGAgUGBQMEAgYHBgYFBAUGCQcBBgYFAQEECAYHAwQEBwQKAwMFBgYABQULCQcDBwMGBgUGBgQKCAUEBgIHCQgDCggICAIGBAkEAwcGAwgABQQFAwIEAQUDBgMCBQYABQUBAQUBAggCAgABAQgHAQgFAwUEAgACBAMCBgEFAwQBBAIABAMFBAICAAEGBwYFBAUAAgYGBAQDAwIAAwMECAYDBQEHBQMGCAQBCQUIAwQEBgQDAwUABAICAwMEAgEBBgEFBQQFAwMCBQcCBwADAwgDBgAEBgUABQYIBQAEBgMGBQYIBAsFBgUGBAICBgUAAQUFBwMHBgUFBwcDAwUDBAQEBwcJBgcFCAcHBQIDCgcGBQQMAwUFBAMEBQQHAwcICAMABwcFBwUGBAYEBAkGAwcHAwQGBAYHAwoEBAkLBQYBCAcDBggICwkHAgcEBwgHBwgFAgoCBAYEAQUCBgUIBAYEBQIIBwQFBAEFCAYCBAkEBwQIBQIFCQQGAwQEBQoFAwIBAQYABwYEAgQFCAMDAwQBAAEDBAYJCAUJBAMJAgMDCAMGBAIFBQICAgYFBQUDBgIBAwUEBwEDBQMFAwIHAgYDAgQDAwUABgYIAwEEBAcEBgUCCgQCCAUFCQQJBwcIAgUEBgcEBggHBgUBBwkFCQYIAwYDBgcDBAQDBAMHCQEEBgYFCAYGBAkFBQQFBQUHBQIABwUJBQMGBQUDBwcECQQGAwEKBwgABQYGBgIFAgUHAwQEBQcFBgEFBwQEAwgEAwYHBwcGBQMEBAYFBgcEAgQDAAYDAwMHBAkFBQYGBQMFBAcHCQoICQcNCg4CCAoHBwMKCAkHAQgFBAUHBwMLCQcBCAsICQUHAwsIAQIHCAYJDQcCBwEECAgEBwQIBQcHCAcIBQYDDAQFBQYHBAQCBAMKAwMGCQIDBwcDAQQDBQgGBgYFBgQGBwUDBwcFBAcMBQMEBAMDBwcICAUIBQQDCQgFBgYGBwYHAQYCCwkHCAwIAwUBAwMGBwUGBgYGAQUIBwQCBwUIBAUHDAYFAwUDAQcHBAoFBgQBBQMHCAUCBQQHBgUGCQoGCQYDCgIGCAcECggHCAkHBwYJBAoEBQUDBgQDBAIGBgYBBQIEBwUEBwcIAAUBAgUCAAEDCAMCAAMDBAECAAQBAAcFBQUCBgEIBQAGCQMGBAMABwMEAQIHAgQBBQYDAwIHAwMIAwACBQsGBAgJBAkIBwECCQYLBgIIBwgGBAUCAwQHBAUFBgkCCAYEAgUEAQoBBgcFDQUECwQCAwEFBwMGCwMGBwgFAwQJBgAAAQAEBAkGBAYCAQQGAAYGAwQDBQYCBgYDAAAGAgICAQMDAgUBBgAJAQUGBAYDAAUGAgACBQQGBgQACQQGAwQEBwgFCAQFAwcEBgkACgQDAAMABgYLBAkJCwUIAgQCBgQFBwQGBAoLAwYGBwQDBQsEDQcCCQUGAwMEBgQBBgUFBQAKBgcJCQIFBwkHBQYHBwYKBgkHBAQHBwgFBAUJBQQHAwYGBgMICgMGCAsFAwYFBQcKAQAIBwMIBgYDBQQFBQkIAwcJBwgFBwMHAwkCAQYFBgcFBAYGBgsEBQgFBAQIBAkECAQEBQYKAggKCAUEBQYGBwgBAwQCBgYNCAcKAgcECAcGAwYEBwcCAggDAgMECQgDBQYCBAEEAAQDBAEIBQgICAcFAwMGBgcKBQoJBAcACQcHAQsFBQgFBAcDBwYJBAkGCQQEBwgEBwYDAgQKBgcGBgYECQUHAwcEBQgDBQYIBQYGBAABBwYCBQUEBQsEBQUEBAUEBggDCwIHCgQJCwkDCQgGCwUKBgoCBwcFCAYJDAgDAwgGCgoICgQKCAoCCAYIBAsJDQcIBwgHBgQHCAQEBwMGCgwJBgYDBQgGCgwICAIEBAUEAwsHBgcGBQQCCQMBBAIKBwkJBgcBBQQGBAgHBQIICAUCBggABwEGCgYGBQULCAQEBgsGCQQCCQUDBAQDAQkHBwUHBwgHBgUDBAQEAgkHAQQDBQkECAUJCggCBgYDBwUGBwYEAgkLCgMEBwgEBwoDBgYBBgcKAwQECAADDAcDBwgHBgEIBgoHBQkFBwQGBQUICQsKBQkGCgQKBAgECAUBBAUGAQMEBgcEAQcCBwUIBAYGBgQHBAUHDQYHBggICQcLCQIGBgADBQQGAgcHBwUGBQkGCgUJAwYECAUHCQcHCQUFBgcICAUICAUHBQYLBwUCBwoDBAUECgIFAQUOCAkJAgcBBQYCCAQKCAoICAYLAwcGBgcFCggGCAEBBQcNBggJCwYJBQUFAwkHBQUDBQYHBwEFCQMFBggHBQYIBwoGAgQCBAcGCQYJAwQIBgYFBAkHAgMGBwYCBwUIBgcGCAQIBgEEBAcHAwcEAggEAQgIBAgHAwsFBwAHAwYCCgsMAAkIAAUHCwYCBwkGCQgFCwYHBAcOCQkHBQkJCAgDBwMHCAoFBQgGBgkIDAcMCw0HBwMFBgkIAwcHBgcICQkIBQgICAQFCgYJBwQBBwMDAQgFBQYGBgcEAAcDBAkCAAgGAQQIAgYJCAUFAwUFAwIJBQMECAgDBgcEAwIFAwIECAcECQQFAQgFAgMJBgcHAgMCAgQHCQoOBAcIBQYIBQkDBAIHBAYHCAoJAgQAAQUIBgUCAgQDAggECAgJCgUEBQUIBwYIBwkCBwIEBQsGAgMKBAkLBgkGBQUJAwUFBwICAwUGBwsIBwUICAcGCQoEAAgDBQUNBQIFBwUGBwQGBgMFAwcEBgIFAwkFBwECBgIJBgUGBggEBwkGBgYGBgYCBwUHBQsDBQcDBgYCCAsHAgkEBgcFAgcCBQYIBgQGCAgHAQYBBwoKCQcFBwcCBQYGCwkFCAUJCA4DBwYICgQECAMDAwsJCQQGBgcHBgoHBAUFBQQECQcFCAQFBQQEBgIEBgYGDAcFBAUDBAkDBwYCBgcFCwYEBAMFBQEDBAUEBAcHBQAEBwUGBgEABwQGBQUIAgYDBAcHBgIGBwkKBwMEBQcDCAgEBgQGBQYDBwECBQsHBQMHBQwAAwAOBAoGCQcJBgABAggHBggGBQsHBQIEBwUFBwMGAgEECAkGAwQICAIGBggHBgIJAgUFCAgHBwQGCQMCAwgIBAUGCAEEAwYCAwYADAYHAwYLCQUBBQQGAgQGBAgCAgQHBAMGBgQFBQUFAwQEBgYCBAYIBQoFBwQCBQcGBgQDAwYIAAkKCQgJBgYIBAYCBAgDBwYHBQYCAggQBgcMDAYJCgoBBQgMBwwMBAULCAgGCQUOBQIHCwIGBQgEBAMGCwYJDAYGCAQJCQQFCwUGBwUECwUIBgYECQYKBQYIBgYDAwgBBwkJCAYKBgYGAAkHCQQJCQICBwUHBQoBBAQEBgYDCAoJDAoGCgkMBQMECAgGCAYFCgcHCQkGBwMHBgMLDAgJCwcDCAQEBQkICgYEBQ4EBgoFBwMIBwcCAwUJBgsEBwYGCAIICQYICAkHBQIJCAkHBgUCBgkHBAoJBwgJBgQKBwYICQMJBgsIBgkJBgcGCgMGAAgAAwgGBQMFAggKCAYJBwkHBwQBCQcLAggEBgQGBwgHCAgHBgoGCAYEAAkEBwwECQYHAwgHCwsHBQsHCAoKCQgJDgwKCQkECAsHBwcKCAoKAwcECgwLCQkNCwgDCAgECQYHDQsHBQYDBwgHDAgHDgMIDg4HCgcFDQwHCQYNBwcMBwYIBgoICAgJBQwHDAUGBwoGCgQGBwcBBwUMBwsICAYJCAIJBAYACAgJCQcHCgYICQYHCAYNBwoJAggJCgUHBAUHBgwICwQEBQ0EBAYKAgYFDAsKBwgJBwUFCQgDAwwKDAcGBw0IAwcECAUIDA0IBw4DBggKDQgKCAwJCAYHCQALCggHCQMECQsJBAcFCQsMBwgJBwUGAAMDBQoDAgcDBgYGBAgKBAUJBwQFBwQDBgUIBwcIAggJCAMHBwMIBAMIBQcFBwgGCAcDCAcGCQkHAgcFBgcECQcGBwkJCAYGAAQIBgoKAgYOBgoIBggICgUJBgsDBgoGBgoFCwsHBQsLCgoICgoGAgsCBAcBBw0ACQYHBQoIBwQIDQUJCQELCRANBwcGBAoJBgkMCQcHBgsAAwkHCQkLBQgGCQcJBQcFBwYECAcEAwIFBgcJCQsKBwQHBQQHBwgFCggGBQQDCgIHBgUFBwgHBgMCDAQCCQMJCAgJBAMGBggHBgEHBQgMCQwHCgsKDAULCw8BCREICA0RCwgIAwcNCgoMCgYLCQkDCgkICw0ICQYJCQwJCgcLCAkJBwMIDAoKDgkMBgcFCAcLAQQIBwIEDQkHAAMHBwcJBwgCDQUFCwgJBAcDAgYGBQMDBwcLBgQCBgULDAoFAwYECgYFBgkDCAMGBQYGCQgEAwQEBQUJBwYFBgYGAQcBBwcEBgQFDgwKBQoICgUIBwYECwgEBgUIBQcJBAMEBgYJBwsKBwgEDgkHCw4HDggMBgkHCQsGCQoHDwEPBw0NCgQICAkNCw4HCQIIAwEIBgoDAwYEBwUGBAoGAwgICAcFBQEBAggKBgUJBQkJAwcGAwQCCgsJCwQKDAsECQUIBQYFCAUJCQgGBgcIBggHBQYCCQgECwUJCAcJCAYEBgwQCwsLDQ8IDA0DBxALCQkPDBAKAwoDCQ4RDQsHBw0DCQkODQwLDgsLBAUEBQoMCgsLCgIODwsQCgcKBAgHDQ0ICQQKCQcEBwgJCwwMBgYICQIGDQQGBwkIBgQEBwcICgMDBAYBBgoGCgAHCwsHBgoEBwMIBwsIBwcECQYICgMICgUMBQ8KCQkLBgUCCAgKCwQKBwgKCQoNBAYHDQgPAAkDCg8IBgoQAwwLAwgGCQkICwcJBwwECgsECwsHCQEKBwIKCAoJDQkICwQCCgoGDQsHBQsJCAULCgYICwkKCAsDBAIMBwYFBAANBwcDCAgHBwUDCAkIBgMIBQULAwUICQYGCAYFCQgHCgcFBwsEBwQIBAcIBQUCCAQEBQUJCgIFCAQFBwwKBwcGBQMDCQ4NAgoJDAYNCg4EBQwPCgwOCgwPBg8NDQYMCwwLDgoEDAoGDAwNCgoMCgwPChACDwgQCAQHCA8NCBEKDgYJCgkOAwkIBQgHBwwKCAsICwcKCgYEBQYKCQgKCQwDCQsGCAQHCQQIBggFCQYGCggKCQwMCAYFDQUDCgsFCQMGDQkHCQkHBAYOBQ0HDQoHDQgHBwYHBAcNAwYGBQwLCgkQBQYDCQoGBAYICAYOBA8DCQgKCQgCBw0BCAoMCAsODQcHCwkGCQkJCQgEDgQNCQsKCwIKBQgIDQwKDAkICAcHCwkJCggLCQUFBAsJBwYKCgoGBA0CBw0ECgcICQYEDgcKCwkJCgwLDQgHCQkJDQoHDgkJCwYFCQgGCggGAwkOCQwJDAYHCQcICwwHCAYIAgkPCgwRDQYKCxEDDRAICwMOBQsRBQwIEQ0RCwoHCgsFDgsIAgsMDQEECggKCwwGCw4LCQQLCRANCw0IDAoKCBALCgoLDRANDA8LCQcOCgkJDAkLDA8IDgoKDg0ECwwPCQsKCgsMDA0ICgwIDQwGCgkNDggJCgkLDwwODwkJCQ4NDwoJCw8MCgoNDggPBxEKDQgKCwoLDAwKCA8JCwoEAwsECgkHCwcGDAsLBQ4RCAIMCQ0NCg8DCQYHCg0GDBEFBwkMEAwKCAkJCgINBw0KBQgKCAsJEQ4IAAsJBwQCAg8MBQsBCQkEBgQHCwkICwIMBgMCBAgIAAkLAwsMCgsCCQQNBAMLCQgHCQsEBQQGBwMIBAUFBgsLCgsFCgcIBgQFBwcGBAUHBQMHBgQCCQwIBgEMBQoHCAkBEQUJBgcPBAkLBAoCAwUJDAkOCQsDAwoEBxEECQoJBwcPAwUODAYFCAUKBgwGDgkNCA8LCQYJCwkRCQcLCAwKBw0JDQgGBggJCgsHDAcIDw4DDQ4NDgcJBwwICAoHCw8GDgcICw4HCAgHCgYICwgNCQYPDgoMDAgKCg4FCgsICggGBw8FCgIICQkLBw4ICwwJEAgOCwwEDA0KCwkMCAMLBA8SDhEMCQ0ICREEDgYKDggLDAMQBwoPBgwKDQgPBwQMCwwKDgsLBgoOChEGEQkIBAsKCAoKBwwKCQQNCAYNCwMFCgYJDxEECgwJBQsICgwJDgkJCAsLBwoJBgkKCwwHCAgKCQYFDQsGDgkKDggGAwsLCgwKDgYKCgsODAwMBw4NDg0NEA4OCw8NDgwEDgwODA8ODhIPBQ8ODwwQDQ0NDRAEDA0ODw0OEg0ODA8NEA8PDQ0NDgQNDg4NDw8NEQ4PEAwODg8ODwsMDgoMDQ4ODgwMDg4ODQ0LDQ4MDg4IDQ0MDAsLDg0OCwoLDw8LDQ0MDA8ODg4NDg0QDg4NDA0NDA4QDg0MCw4ODA0MDw0OEAoODg0NDwwMAwQCBAEDAgMBAgUAAQQCAgIGAQIDAAIDAQQBAgMHAAMCAgQDAAMBAwAEAAIEAwICAgcCAgABAwIBAgIDAQICBAMCCAcEBgsICgYDBAoEBQoGBwgHBggFCAkEBQQECAoKCggECQUPCAgDCgoCBQUGDA4ECgYLAAUKBQoGCwgFBQcKCAUQAgcJAwgGBAgDBAwECgoKBwYEAwQCAQUCBAIABgQBAQMDAgUBBQEBAAQCAgIBAgICAgABBQIDAgIDAQMBAwEEBQAEAwUCAwEFAAUDAgIFBAUCAAMDBwsQCAIKBgkLCAcICgkOAAUGCggKBQcJBgcDCwINCAQJBwsHCgQICQcJBgoHBggHBgoHCQIDBwUHCgkLCgYJBwkECwkHAgkHCQUGCA4ECAgHBQ0GAgECAAMCAQQCAQEBAgIAAQICAAEDAgEAAwEAAwIAAAIBAAMABAMCAgECBAEDAQIEAQIAAAADAwECAgADBAQBAQECCQwLBgsKBwoKBAkLDwkJCQsLBwoLBQ4JCgkDCAsMCAQHBgwJDgkIDQgHCwoHEQwFCQwJCw8LEAsHDgYLCwcHCgsMCQ8MBgkKCQkLCQ8HCAUEBwkKAgUBAQEBBAIEAAUCAQMCAwADBAEAAAIDAQADAwMCBAMAAwMCBAIDAAIBAAACAwEAAQMABAACAwUBAQAEAgECAgMEAgsJCAcHCgoFBwcJCQgLBQ4HBgoMDg0KBwoDBg4OCAYHAwcJCAUCCg0BCAoGBQkHBw0MCgcGDAcNDQUKDQsFCAgICAgLCwgFCwgJBgwGDQ0GAAcIAwMDBgICAwAEAgEAAwQEAwEEAwYAAgQDAgICAAYEAwQAAgMEAQMCAwEDAgAEBgEFAgIFAwEDBAMFBQMCAgEEAwIEBw8NDQYFBAwHDAkLBQcKCwUKBwsJCgsMBw0CCQYKBggKBgQLCwkFCwgKBgkNCAkKCwoIBAgECgINDwkGCAwKCAwKCgkJBQsIDQkJCQwFDgkHBQcIAwIDAgIGAwMDAgQBAwIDAAMDAwECAAIEAgIFAwABAwQBAwECAQIBAQICAQQCBQQBBAAFAwAAAgEEAQIDAgMDAwEEBQkHBwkKAwcGCwUKBwQJBQoKDAUNDAMOCwUEAwgJCgQIBQoMCAsJCQsECAIJCAsGBwgHCQUDBAsFCAQKBwwGCgoKBAgIAQsKCwQICA0GCw0HBgcFAgUBAgQDAwICAgQBBAADAQICBAIDAAMEBAIDAgICBAQBBQADAgABAgUDAgIBAwIAAgcDAgEBAwQAAQICAQMEAwQECQsLDAgIDwsHCQoICw0JCggLCgcKEQYGCQcHBQcJDQsLCg4ICw0GCw0MCg4NDggHCA8DBQsJAwkJDgMIDQ0HCgYNCA4NBgsMDQ4NCg8ICgsLBQkJAQQBAQMCAwACAgEAAgQFAgQDAAMEAgEGAQECBQMEAAMBAwIEAQEABAMBBAICAAEDAwIEBQADAAQBAgICBAECAwMDCAcMCQsLCAgIBgINCg8HCgkICwgJCwMHBQ0ECgsJDQcECgwLCgsMCg0IDgQMCgoFDAgGBwcIBwYKCQ0HCw4IDAoIDAcHAgkMCQoGCwsHDggKCAoKAQMEAwIFAgMDAQEBBAMAAgMEBQQEAgAEAgMDAQEDAgQBBgIFAgQEAQEDBAUDBAECBQICAAEAAwUDAwIEAQIGAQIBCgYEAwkHCAcJCQcCAQIHAgMGBAMJCQkJCQYCAQYFCQcKCQoJBwUFAwcFAQAFBQYJBQIHCQoCBgUKCQUIBQYGBQUGBgsJBQECBgUCBAgEBwUEAwUHAQABAwAEAgIBAwMBAAQAAgMDAwMDAQQEAgEDAgMEAwUBAQEDBQIBBAIEBAECAgMEAgMAAwECAQMBBQICAgMDAwEEBgoKCgcDBAgMBgcKBggIBggKCgcQCgcGBAoABgQIBwMFCgYJBwkKCgkIBAoHBgcFCQkLBwUGBQUNBgUJCAoFBQsFBwkDBgcJCAEJAAkFBwcKBAYKAwMDAQEBAwQFAQIBAgEFBAECAgECAQQDBAEABAICBAEAAQQDAAUCAwEFAgQAAwICAQEAAQEDAAEBAAECAgIEAwMDBAQKCAwFBAgGAwoLCAQHBgIJBwoFCAYCDAEBBQMIBQYHBgcICAgFBQUHBQUDDAQLCQkHCAYHCQsECAoKBAgHCAAIAQ0JBQkHBgYHBAoJCwkKBwoHAwUFAQAGBAUEAwIABQQDAQECAgADAgICAwEDAQIDAgMAAwEDAgECAQICAwQDAgACAgIBAgEAAwUBAQICAwQDAwICDg0MDQwLCwwLCQsMDA0MDQwLDA0LCw4LDAsGDg4KCgcNDgwLDQoNDg0NCwsKDg0MDAwLDAwMDAgLCgkPCwsLCw4JDAsNDQwKDQ0NCw0LDAwLCgsKAgAEAwMEAAEDAwIBAQIAAwECBQMDAAIEAwMDAwMCAAYBAgQABAMEAgMDBAMDAgUDAgIAAQACAgMAAgEEAAAFAwAFCgkCBgQFAgwFBggHBwUHBgAJBQUFBAMCBgkDAgoGAgAGCQYGBgQEBwQIBAcIBgYFCwQJCAUJAQcHBwcFBgkGBAgFBAgEAwYGBwMKBwgHAQgEBgMJAQIFAwABAgIDAQAAAgMDBAICAwICAQQEBAAEAQIDAAEABQQBAgMCAQQCAwADAwQAAwMCBAIDAwUDBAMBAAQDAQIFAwUKCQQEBwsIAQkGBgQKCAgICAkLBgcGCgYBBgYGBgMCCwcGCAkCBgcECAMGBwkHBgYCDAUFCAgIBgIGBQYHCAoGAgkJAgkIBwcIBwsHCAwEBQYJBAEEAAYBBAIDAQMBAwQCAgADAgQEAQMEAgEHAwQGAQMAAwMBAQICBQICAgACAQIAAQMAAAEAAwMBAAUCAwEDAAEBBAQGBwQHBAgJCQEJAgkGBwMIBwQECQgHBAYDBwkGBAUGBAcFBgQKCAYCAwcGBwMCBgUCBAcEBwkHBwMIAgMFAwgEBgUFBQIDBQsHBwUICQcMAgMGAQIDAgIDAwEBBAIAAwICAgMEAQEFAAAAAgEAAQEEAgMAAgMCBAIDAwEEAgMAAQIBAwMEAwADAQICAgQHAwQCAgICCAYHAwgEAwUHBggCBAgKAwQBAwMFAwcFAwcCAQUKBQUEBAYAAgMECAoGBgYJAwQFBgAFAQYGAAYFBAYJBgIBAgIHBQUHBAUDBAUCCAYDCAIHBAkEAgIBAgEDAgQAAwMBAgYCAwIDAwQBAQEDAQIEAwMCAwMAAwICAwIBBAUCBAMBAgICAwIBBAABBAQFAwEEAgICAwAEAAcCBgoEAgoEAgcAAgIDAAcHBQQBBwMGBgUAAggGCAAEBAEFBwYDBgcCBgcECAUHBwUEAwUFCAUGCQUGCQUGBwUCAQUIBgkHBAEDBAUHBAYHAAQIBAMBAQMEAwIDBAAAAgUEAQICAgMCAQEAAgMEAQEEAwQBAQEEAQABBAIDAgICAQUCBQADAQADBAUEAgMCAQMDAwAFBQoLBAYHBQYHCAgFCQoJBQQHCQgGBgoGCgQCBAsKBQEJBgQFCAYGBwYFCAYHCQMJCAUGCQcCBQcLCQUHBwYHAgkHBQUEBggHDAEFBAsGBgcICQcGAgEDAwICBQIDAQIAAAMEAgADBAIEAQEBAgYEAgMDAgMBBAUEAgMBAQIDAgQDBAIBBgIDAwEFBAMCAQADAQEEAgQCBQgFBwcFAgQEAgcDAwQGAgcHBAgCBgYGBwUBBQcHBQUEBwUGCQQFBwUHBAcDAwcJCgQFBAAHBQkGBQMFBwUMBwMFCAcFAwUDBQYECQgFBwkCBQwJAQMCBgECAgAAAgMAAwQDAAQEBAICAQMEAQMCAwIDBQMAAgMBBAMEAQEBAwEDAAECAAEAAgEDAQABAgIDBAECAQIEBwAKAQQHBggIBgIGBAAFBwYGCgYICAoFBwoCBwMHBwMBBQUIBgcJBwIHBwUKBwYGAggGCQcGBwMGBwcGBwgEBwUCAggJCAUJCgQHCQgIBQUIBAYHAQUCAQIDAQMCBAEAAQMABAIEAgQBAAMCBAEEAQAEAgQBAAMEBAUDAgIBAwMDAQMCBQEBAgABAgAFAwMBAgIDAAIABQQFBQcIBgQKAgQFBAkHCAUIBQUHCAcFAQUABAQIAAkFAgcIBwoDBgYDBggEBwkHAgYECAUJAwcECggDBwYCBAYGBAcHBQQGCAIJCAgKBQMEAwoGAgMEAgECBAEEAgIBBQIEAwICAwMDAQEBAAECAQMAAQQBAgQEAAIAAQIAAgIBAwEAAgEBAAAAAAEBAgYBAAMAAAICBgYHCAcEBQMIBQkECQMCBAYIBAgFBgUJBQcBBQcKBAMDBAcFCQUDBAICCAcEBQoEBgcFBQQFAgYGAwYDAAEGBwUCBQgGAQcFBgUHBQUFBwgDBAMHAQAEAQAAAAACAgIBAQMCAwMCBAMCAgUAAAEDBAMCAwMAAgQBAQEEAwMCAgQBBAICAwMFAgEBAQADBAACAQACAgIBBwgEBgcABwsECQUHBgQDDAMGCgcHAwUDAQcEBAUICAMJCAcFCAcKBQoFCAUHCgUIBgYEBwEFCQgDBAQKBQcGCAQGBwkFBwwICQAJCgsHCQ0FBAkIAAMDAQMDAAMGBQEAAwMAAQQDBAMEAQIBAAIBAgMDAwIBBAICAAEEAQEEAAQCAgAFAAEEAQECAgEBAwEEAwMDAwMEBwcFAgYHBAMFBggFAwYIBggFCAoEBQgNBgYEBQMECQEDCAcKBAQFAwUFCAUGCAkIBwUFAwUFCgYICgEEBgcDCQgHBwQJBAMHCAQCAwcACQgGCAUEAwMBAAAEAQYBAwMAAwECAAACAAADAQMFAgMAAwMAAwMBAgYBAQICAAMDBAEAAwACAgIBAwAFAwEAAgEBBAMBAwIDBAsHCgQIBgsGAwMEBwcGCAkDCAsFBgcGBAYEBwQCAwUEAwgHBQYIBgcFCQIEBQsJBAUHBgcEAgcJAwEEAgcDCAUFBwYEBwMJBQQHBgkCBQYHBQkGBAUEAgQEBAEEBQMBAwUABQMDBAUEAgUDBAUEAgQGAgQBBAIDBgQCBAMFAAMEAQIEBAIDAQAFAgQDBAMEBAMBAgYFBAEECgcHAQIEAQUCBgQEBgYFBAUBAQQFCAYBAwIFBQQFBwcDBwIFBQkEBQQHBgUHCggIAwQFAQkCBgEFBwYDBAcEBQcABQgJBwMHCQUDBQQAAAIEAwIDBAcEAQQCAwQBAAEDAwUEAgIBAAABAgEDAgIBAwMAAwIBAwECAQMDAAEDAwIBAgIDAgACAgEAAQADAwMBAQMCBgYECQICCAUJBgYFAwMGBgMDBAYHCQYJBwoCBwkCCAYIBgkHBQcHAwkICAQKCAkGBQQECAQEBwUCBQQJCAQDBgcEBgMHCAEGBwcGBQgGBwkIBwQGBQIFAAcFAgIAAwUBAwcEBAIFCAQBAQYFAgQBBAICAgMCBgMDBgMCAgYDAwIBBQICAQECAgACAwAEAwEDAwMEAwQBBQgIBAYEBwMDAgYNCQoHCwcHCgMBBQsJBgYDBwUJBAkGBAYGBgEFBwgFCgIHBgcGCwcEDQYFCgUGCgMFCQwGBwoCBAUCAAcJCQoABgwEBAcHBwYLBAMCAwIEBQQAAwQBAAICBQEFAwYDAAIDBQQDAQMCBQUAAAIDAQIEBAADAwIDBAcDAgIEBgEDAwMDAQQEAwEDAQMDDxEUCgsIEQ0TCg8LDQ0ODQ8REAwIEAUPDQoNCRIMCgkNCRUPEwsLCwsNEQwMDwwEDgcLDQoLExASDwwSCw8NEA8MDwwPCBMRDgsNDgwKEgwJBAsJAwMHAAQBAgMCBgQBBwMCAwEFBgEDAQEBAwIEBQQEAgMBBAMEAwIEAgAFAwQCBgQFAwMFAwEFBQQGAQMCBQYDAwUFCg0SCgUICQoNCwsKCgYIBwoJCQsJDw0GDAkFBwYLDQMKCwwOCwcLCgwJCQgMDgQFBQgHCgcMCAcHCQgHBwUKCQYHChEPBQkEBAMMCAcHCQcOAggLBAAEAAIABAgFAwEBBQIFAAAEAQUGAQQGBAUGAgcFAwUBBAECAwUEBAMFAAIEAwQGBQEDAQEFAwUDBgMEBAUFAwQFDgsMCwwJCAwLDAkKEg0JEAoJDgcMEA8KCAwNBA8NEAYPCA0NBAoLDgkHDgkQEQwKCgULDQ4KEgoMCwgKCgsMDQgMCA4MAwoPCwkKCxEKEwkKCQwRCAMDBAMFAgUABAUDAgUFAgMCAgEDAQAEAAUFAgACAQMBCAACBQYGAgUAAwUFAQIAAwEEAgEDAwgGAQYFBgQAAgABChEPDA4HEA8KCQoNEQsLEhYSDQsPDwoREwoHCQkQBwwNDggPDQ4MChAPEQgPCg0OCBUQCQkKDAgMCAgRDAsRDg4JDwwPDBMQDggLCBUKBg0PBw4JBwcIBwYJBgcKBQgDCgcFCAQJBQkEAwkFAwQEDAIECAkDCggGBgcJCQkDBAUFBQgKDQYHCAIECQQGAggEBAYGBwcNCAoSDQ4KEBATBg0LDwkQCBAPBg4GEgcNCgcDDQwSDBUNEw8QDwkJEwwHDwgPExMTEg8PDgsUDhMNEwANCxQSDA0PDQ4RBhUQBAkMFREHFQ4NDwsOCwsMBg4FBQkICQoDBgsMBg0PCAwHBAYHBAkIBwQJDgoDBgcGBQcHCggKCwsHBQgKDQkQCAMGBwoJCwAMDAwMCAsOEBMRERESERASERAQExETEhERExAREBEQERASEhIQExQREBIRERIPEhAQERMQEhASEhMREQ8SEhIREhIQERISEA4SEhQSEBIREA8PEBERERIUERMQBQwKBAUHCgMKBgsCCQsLBQsFCQoIBAMHCggGCAgFCwcCCAYGCAcJCAsFBwgIAwQJCgcICwIFDAsHBgsHBQoFBwoIERIQFRMTFRMVDxQTEhQSERAVDxMVExISEhMSERAUEREWERERExESDxISEhQTDhAREhITEA8TEQ8REhERFBETExIWEBYREhMUExISFBUSFBMTERET");var P=[[252, 252, 222], [248, 250, 216], [243, 248, 211], [238, 247, 206], [234, 245, 200], [224, 241, 200], [214, 236, 200], [204, 232, 200], [194, 228, 200], [180, 222, 199], [165, 216, 198], [150, 211, 197], [136, 205, 196], [121, 199, 196], [106, 192, 197], [92, 186, 198], [77, 180, 198], [68, 170, 196], [60, 160, 195], [51, 150, 194], [42, 140, 192], [44, 130, 186], [47, 119, 181], [50, 108, 176], [52, 98, 170], [50, 88, 164], [47, 78, 158], [44, 68, 152], [42, 58, 146], [35, 52, 134], [28, 46, 121], [20, 39, 108], [13, 33, 96]];
for(var i=0;i<b.length;i++){var p=P[b.charCodeAt(i)];im.data[4*i]=p[0];im.data[4*i+1]=p[1];im.data[4*i+2]=p[2];im.data[4*i+3]=255;}
x.putImageData(im,0,0);})();
</script>
</body></html>
